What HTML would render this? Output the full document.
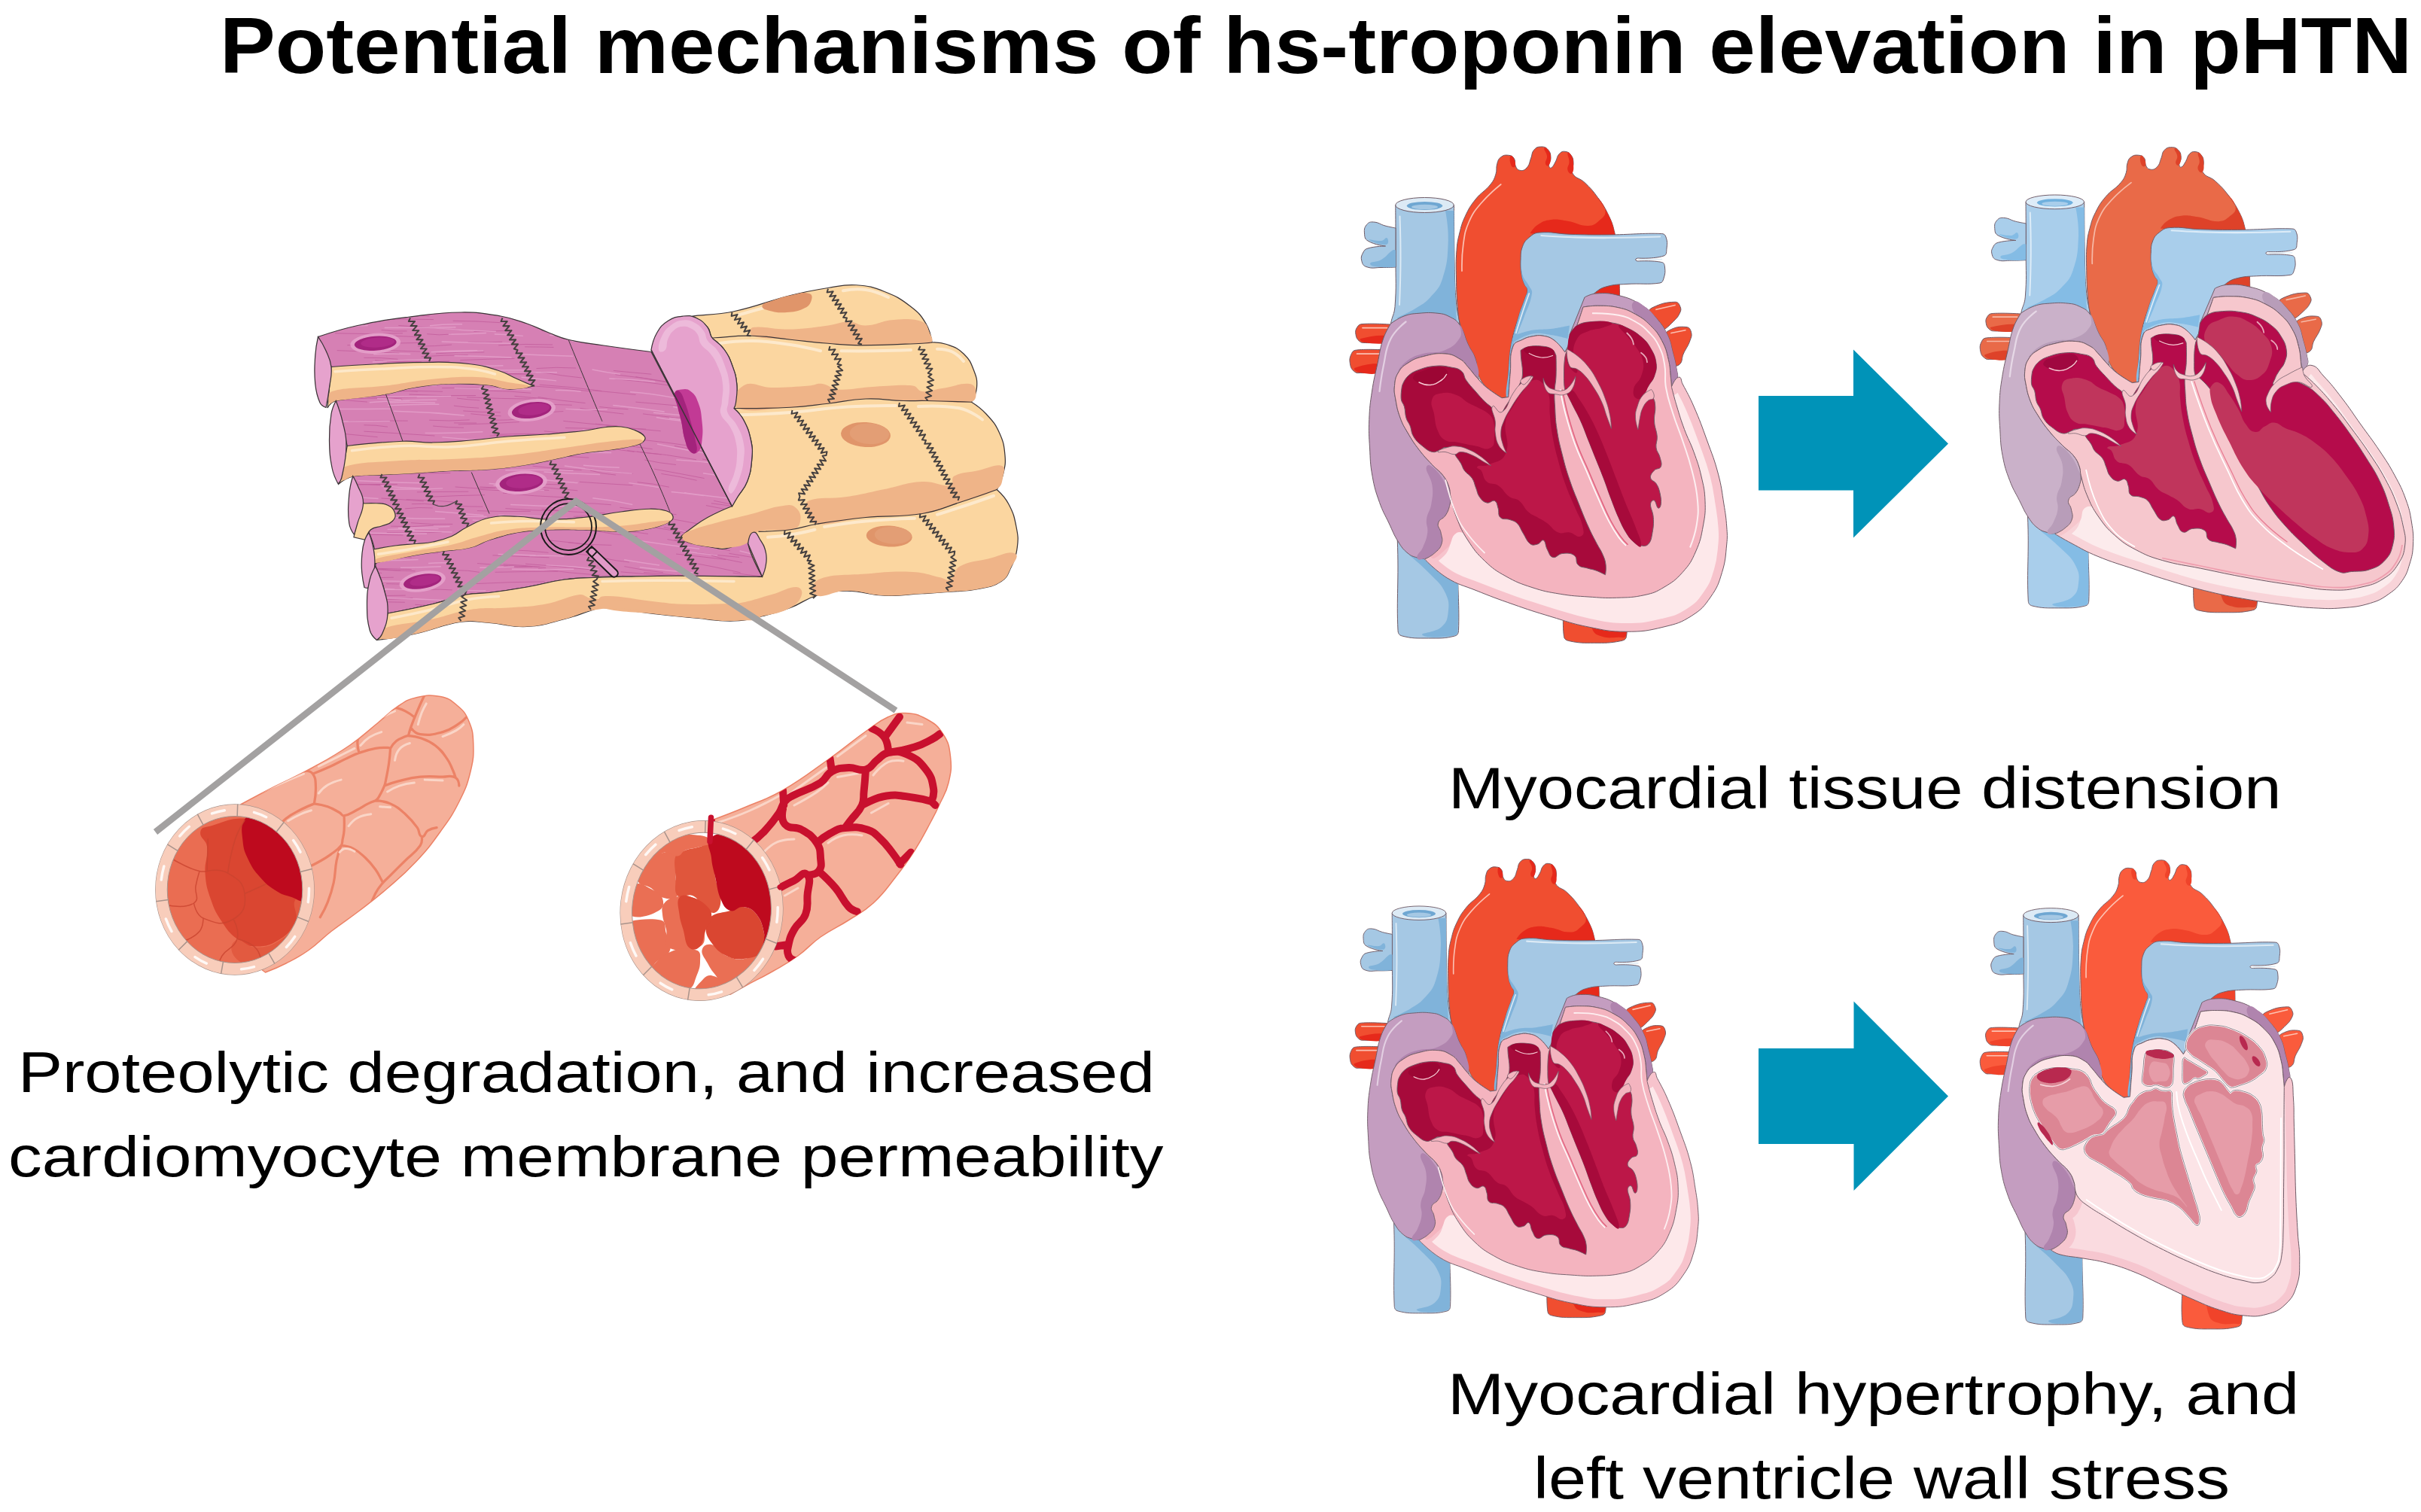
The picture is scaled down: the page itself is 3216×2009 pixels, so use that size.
<!DOCTYPE html>
<html lang="en"><head><meta charset="utf-8"><title>Potential mechanisms of hs-troponin elevation in pHTN</title>
<style>html,body{margin:0;padding:0;background:#fff}svg{display:block}</style></head>
<body>
<svg width="3216" height="2009" viewBox="0 0 3216 2009">
<rect width="3216" height="2009" fill="#fff"/>
<g transform="translate(400,360) scale(0.25)">
<clipPath id="mpk"><path d="M90 350C90 350 204 311 300 290C420.3 263.7 447.8 260.6 570 245C695.5 229 723.5 221.3 850 220C944.9 219 966.7 224 1060 240C1124.6 251.1 1138.1 258.6 1200 280C1255.3 299.1 1265.4 308.9 1320 330C1364.5 347.2 1373.6 354.2 1420 365C1494.7 382.3 1518.8 383 1600 395C1716.8 412.3 1860 430 1860 430L2290 1252L2450 1625C2450 1625 2268.5 1622 2120 1622C1893.3 1622 1752 1622.9 1600 1625C1577.4 1625.3 1572.5 1628.3 1550 1630C1496.7 1634 1467 1630.4 1400 1640C1309.1 1653 1290.4 1664.2 1200 1680C1110.4 1695.7 1085.3 1699.3 1000 1710C946.2 1716.7 933.1 1709.4 880 1720C800 1736 781.8 1750.5 700 1770C592.7 1795.6 460 1820 460 1820C460 1820 454.9 1747.3 440 1690C425.5 1634.2 395 1570 395 1570C395 1570 397.7 1519.8 390 1480C381.9 1438.1 360 1390 360 1390C360 1390 350 1300.5 330 1230C311.5 1164.9 275 1090 275 1090C275 1090 261.1 1001.5 245 930C221 823.3 185 690 185 690C185 690 182 588.8 160 510C138.9 434.3 90 350 90 350Z"/></clipPath>
<path d="M90 350C90 350 204 311 300 290C420.3 263.7 447.8 260.6 570 245C695.5 229 723.5 221.3 850 220C944.9 219 966.7 224 1060 240C1124.6 251.1 1138.1 258.6 1200 280C1255.3 299.1 1265.4 308.9 1320 330C1364.5 347.2 1373.6 354.2 1420 365C1494.7 382.3 1518.8 383 1600 395C1716.8 412.3 1860 430 1860 430L2290 1252L2450 1625C2450 1625 2268.5 1622 2120 1622C1893.3 1622 1752 1622.9 1600 1625C1577.4 1625.3 1572.5 1628.3 1550 1630C1496.7 1634 1467 1630.4 1400 1640C1309.1 1653 1290.4 1664.2 1200 1680C1110.4 1695.7 1085.3 1699.3 1000 1710C946.2 1716.7 933.1 1709.4 880 1720C800 1736 781.8 1750.5 700 1770C592.7 1795.6 460 1820 460 1820C460 1820 454.9 1747.3 440 1690C425.5 1634.2 395 1570 395 1570C395 1570 397.7 1519.8 390 1480C381.9 1438.1 360 1390 360 1390C360 1390 350 1300.5 330 1230C311.5 1164.9 275 1090 275 1090C275 1090 261.1 1001.5 245 930C221 823.3 185 690 185 690C185 690 182 588.8 160 510C138.9 434.3 90 350 90 350Z" fill="#D680B4"/>
<g clip-path="url(#mpk)"><path d="M844.8 474.4Q989.4 467.9 1134.1 465.8M233.4 1052Q298.3 1043.7 363.1 1048.4M1076.4 1569.5Q1152.5 1578 1228.6 1572.2M1427.3 872.6Q1614.2 876.8 1801.2 887.7M431.8 420.8Q531.9 426 632 428.6M1569.5 833.3Q1700.7 832.2 1831.9 840.6M1664.9 922.7Q1765.8 931.5 1866.6 946.8M1927.1 1362.4Q2018.8 1382.5 2110.5 1390.6M1777.7 696.5Q1965.1 715 2152.6 725.3M449.6 1022.1Q514.7 1027.5 579.8 1030.5M2113.6 738.3Q2264 764.7 2414.4 792.5M2031.9 1760.4Q2153.6 1782.3 2275.2 1797.8M1588.4 1838.8Q1755.2 1853.6 1922.1 1863.1M151.9 977.9Q233.7 977.5 315.6 968.4M397.5 631.1Q508.3 635 619.1 640.4M1363.7 1661.1Q1530.2 1678.3 1696.7 1698.2M925.2 1662.4Q1109.7 1652.7 1294.2 1651.5M636.7 1015.6Q773.3 1010.2 909.8 1007.4M949.3 1147.5Q1133.2 1158.4 1317.1 1165.6M1655.3 317.5Q1832.2 350 2009.1 373M1002.5 876.3Q1075.9 870.4 1149.4 878.2M580.2 492.9Q684.4 480.8 788.6 479.9M333.4 819Q396.7 818.2 460 828.6M680.2 792.8Q787.5 800 894.9 791.5M1171.8 1013.8Q1242.9 1009.5 1314.1 1012.6M2006.4 491.5Q2069.4 499.1 2132.4 517.9M1349.3 273.8Q1478 296 1606.6 312M700.6 824.1Q782.3 833 864 833M858.2 591.3Q1023.7 611.3 1189.2 621.4M1982.2 1428.6Q2071.6 1433.8 2161.1 1454.1M164.3 682.7Q257.9 688.6 351.6 696.2M2255.1 1830.6Q2439.3 1855.2 2623.4 1888.5M552.4 561.1Q693.6 572.4 834.7 584.4M1601.8 1525.4Q1672.9 1541.2 1743.9 1547.9M1825.3 1004.4Q1908.5 1022 1991.7 1030M2334.8 871.3Q2447 894.9 2559.2 929.1M392.2 474.9Q569.8 488.1 747.4 490.8M2354.7 1294.8Q2460.3 1305.9 2565.8 1332.7M2333 1282.5Q2461.5 1319.4 2590 1344.4M2000.2 571.9Q2092.9 583.5 2185.6 592.4M696.5 908.8Q773.6 912.6 850.6 917.7M1441.7 1695Q1556.4 1711 1671.1 1726M1304.1 260.3Q1421.3 265.7 1538.5 261.5M496.4 997.1Q650.7 1000.4 804.9 1003.2M1377.5 1500.5Q1451.3 1501.7 1525.1 1510M1876.2 1052.5Q2009.2 1076.5 2142.3 1102.2M1508.8 1049Q1635.4 1063.9 1762 1077.8M1199.5 1755.2Q1350.4 1769.3 1501.3 1791.1M1386.9 1758.1Q1556.1 1760.8 1725.3 1765.4M266.9 619.8Q336.4 630.7 405.9 628.8M455.2 1390.1Q601.1 1396.6 746.9 1388M605.1 1773.1Q716.8 1783.4 828.6 1783.1M471.4 929.1Q598.4 924.4 725.4 925.6M1760.9 261.6Q1893 271.3 2025 286.5M1535 1059.9Q1603.4 1079.7 1671.7 1084.4M341 660.2Q406.1 656.4 471.3 664.4M1071.2 1706.5Q1237.7 1713 1404.1 1706.1M1412.4 1364.7Q1484 1366.6 1555.6 1371M266.6 1750.1Q409 1761.3 551.5 1761.1M253.2 1627.7Q372.2 1634.9 491.2 1628.5M716.1 439.3Q844.6 430.1 973.1 431.7M215.9 556.9Q316.4 554.7 417 559.3M1250.2 518.2Q1355.3 509.4 1460.4 516.1M1786.1 1122.7Q1870.7 1129.4 1955.3 1148.8M1983.5 930.1Q2107.9 953.2 2232.2 976.1M1681.8 1821.6Q1786.4 1841 1890.9 1856.2M1030.8 793Q1097.9 793.7 1164.9 786.7M687.9 494.5Q758.8 503.7 829.8 507.6M748.4 622.4Q846.5 620.9 944.6 621.2M705.5 1788.1Q891.9 1798.8 1078.3 1794.6M812 807.7Q872.1 807.9 932.2 808.1M562.3 1047.7Q622.9 1043.1 683.5 1041.7M195.8 266.4Q295.4 266.2 394.9 265.1M1826.2 1295.2Q1979.3 1318.8 2132.4 1348M2364.9 472.1Q2519 507.6 2673.2 532.3M2151.5 1246.3Q2306.9 1276.8 2462.3 1306.5M1260.1 1582.6Q1424.7 1606.2 1589.3 1617.3M1670.7 1353.2Q1760.6 1353.8 1850.4 1358.9M341.3 1584Q473.9 1592.4 606.5 1594.9M1225.4 235.4Q1389.1 250.5 1552.8 264.5M1616.4 337Q1772.2 342.6 1928 355.6M1777.5 562.5Q1933.6 589 2089.8 619.3M1201.7 1337.6Q1361.4 1342.9 1521.1 1361.7M439.1 641.4Q595.7 633.4 752.3 641.1M239.5 665.4Q386.9 669.5 534.2 680.2M1288 982.8Q1408.7 982.8 1529.3 992.5M2349.7 1746.7Q2412 1767.9 2474.2 1774.1M1133.7 665.2Q1221 673.7 1308.3 679.5M426 1079Q609.9 1076.6 793.7 1074M2139.8 1369.4Q2229.9 1381.2 2319.9 1408.2M108.3 1026.5Q226.9 1021.4 345.5 1021.3M827 1591.2Q887.2 1590.1 947.4 1601.3M2230.7 1385.1Q2407.9 1410 2585.1 1438.3M2397.2 1184.5Q2504.1 1196.3 2611 1222.6M333.9 1582.2Q431.1 1583.9 528.2 1593.2M1275.2 537.6Q1383.8 557.9 1492.3 568.2M1551.1 1709.7Q1733.4 1722.8 1915.6 1750.3M1784.4 960.4Q1942.3 974.5 2100.1 1003.1M2231.6 436.2Q2353 458.4 2474.4 472.9M2345.5 651.5Q2490.8 674.8 2636 701.4M484.9 491.9Q571.9 493.4 658.9 503.8M2184.4 1844.3Q2302.9 1851.4 2421.4 1871.6M886.5 377.6Q977.6 383.4 1068.7 376.8M1824.2 898.7Q1938 910.6 2051.8 927.7M242.7 679.6Q428.5 677 614.3 670.4M2084.6 579.9Q2179.8 591 2275 603.8M2294.1 1604.9Q2467.5 1627.9 2641 1644.3M2160.1 996.7Q2296.4 1018 2432.8 1025.7M1998.9 1615.8Q2185.2 1630.7 2371.6 1656.5M1301.4 1335Q1483.8 1357.4 1666.2 1371.3M1151.8 1123.4Q1217 1134 1282.1 1131.2M1584.7 722.1Q1661.3 731.7 1737.9 734.9M357.9 344Q486.1 342.7 614.3 350.3M1482.4 246.9Q1581.6 260.5 1680.8 269.4M2132.7 1000Q2223.2 1018.5 2313.7 1030.4M807 265.3Q931.8 266 1056.6 274.6M1634.9 1728.8Q1724.4 1731.2 1813.9 1736.2M1669.9 550.9Q1833.5 569.3 1997.1 597.1M2330.7 735Q2497.3 764 2663.9 784.7M778.3 1772.1Q902.8 1767 1027.2 1764.4M1630.2 1767Q1709.2 1780.4 1788.2 1778.5M426.4 314Q494.2 323 562 319.7M1785.3 1846Q1966.4 1870.2 2147.5 1880.5M1816.5 281.7Q1962.9 295.1 2109.3 313.9M489.3 234.7Q585.7 231.6 682 240.5M2317.8 566Q2424.2 591.2 2530.5 618.5M213.3 997Q321.7 1000.6 430.2 1008.6M2163.1 279.1Q2276.5 297 2389.9 329.7M180.2 331.4Q359.8 337.6 539.4 331.1M879.9 671.1Q1064.4 679.5 1248.9 680.9M827.9 676.5Q888.4 684.2 948.9 687.6M2269.5 269.3Q2359.9 295.7 2450.3 307.6M989 636.7Q1104.9 637.7 1220.8 648.8M1945.9 1426.4Q2112.9 1454 2279.8 1487.2M835 816.2Q996.7 813.5 1158.3 802.7M668.8 334.9Q733.2 343.2 797.6 336.2M2132 1830.3Q2226.4 1839 2320.9 1847.7M1732.5 954.1Q1822.9 967.5 1913.4 975.4M1820.3 1602.1Q1966.7 1613.3 2113.1 1631.1M1403.8 834.2Q1559.8 835.5 1715.7 845M452.6 1662.4Q587.8 1669.5 723 1660.9M1266.8 604.8Q1431.9 615 1597 637.9M1192 1556.9Q1361.2 1568.6 1530.5 1586.9M374.2 537.1Q560.7 543.2 747.2 553.5M2092.1 957.6Q2185.9 972.4 2279.7 999.8M1471.1 1234.3Q1559.4 1233.9 1647.7 1242.9M686.3 1201.1Q831 1193.1 975.7 1190.7M1660.1 529.9Q1760.7 540.1 1861.3 548.7M245.5 394.2Q356.9 391.4 468.3 401.7M476.5 1356.6Q589.8 1362 703 1352.9M818.4 1147.8Q924.9 1159 1031.3 1154.3M936.7 549.5Q1091.3 551.2 1246 540.1M1074.6 1559Q1187.4 1563.2 1300.3 1578.1M134.1 1123.5Q277.4 1132.9 420.7 1138.4M952.9 1047.2Q1031.9 1054.2 1110.9 1047.5M350.2 1024.6Q514.8 1029.4 679.5 1046M2269.1 1810.4Q2391.8 1827.2 2514.6 1847.6M2179.7 1235Q2346.9 1254.4 2514.1 1282.8M1030.3 1601.1Q1198.1 1597.4 1365.9 1596.9M1291.2 851.4Q1367.2 861.9 1443.1 859.7M194.5 1141Q353 1131.3 511.5 1133.8M1478.9 1121.1Q1620.4 1131.3 1761.9 1138.9M1079.2 1297.3Q1197.3 1300.4 1315.4 1299.7M1225.9 611.1Q1385.1 620.5 1544.4 640.1M1188.4 403.5Q1265.1 403.6 1341.8 405.7M1273.4 296Q1416.1 304 1558.8 303M1276.4 317.9Q1401.9 321.1 1527.4 336M2071.3 1843.7Q2226.4 1880.4 2381.6 1901.6M1231.3 1779.8Q1410.4 1791.9 1589.5 1790.2M250.7 798.5Q409 793.9 567.3 796.6M1975.9 462.6Q2101.2 482 2226.5 509.1M1263.8 746.9Q1328.6 753.5 1393.4 746.1M1663.3 1680.6Q1745.2 1690.7 1827.1 1699.8M1563.5 812.8Q1737 837.9 1910.5 850.7M340.6 1838.6Q482.5 1837.6 624.3 1844.2M2378.1 1165.3Q2485 1184.3 2591.8 1213.6M1810.3 308.2Q1976.8 333.4 2143.4 343.1M1447.5 1305.2Q1548.1 1299.4 1648.8 1304.8M1516.9 930.2Q1643.6 941.6 1770.2 961.6M1602.1 266.1Q1662.5 266.7 1722.8 271.9M615.8 1175.4Q752.4 1173.6 889 1172.7M409.9 1747.3Q501.6 1745 593.3 1738.4M2104 1497.1Q2216.2 1511.8 2328.5 1521.8M1393.4 797.5Q1537.3 814.3 1681.2 823.6M671.5 1693.7Q737.3 1690.5 803 1695.7M234.3 1491.8Q295.9 1490.3 357.5 1500.3M558.9 1215.1Q684.8 1216.4 810.7 1228.2M811.6 716.4Q877.9 726 944.2 728.7M114.6 1598Q271.5 1601.2 428.4 1605.8M619.7 400.6Q709.9 400.4 800.1 392.2M1698.8 1599.4Q1851.3 1612.1 2003.8 1626.9M1913.4 1077.7Q2007.9 1090.9 2102.4 1113.2M2124.1 254.7Q2218 275.9 2311.8 283M1816.1 759.5Q1990.6 783.6 2165 794.6M1550.6 1352.4Q1697.1 1380.4 1843.6 1397.6M1704.5 1619.2Q1821.4 1633.3 1938.2 1653.6M587.5 1238.6Q657.6 1233.8 727.8 1244.1M345.4 1734.9Q450.2 1722.3 555 1724.4M1693 1256.9Q1843.6 1277.3 1994.3 1294.9M935.8 1554.4Q1102.4 1569.6 1268.9 1573M2203.1 1759.8Q2277.1 1760.5 2351 1776M2049.7 1545.5Q2192.2 1570.9 2334.6 1603.2M329.7 388.5Q488.2 383.8 646.6 381.5M148.1 645.9Q244.8 646.6 341.6 653.2M2317.2 1046.1Q2487.9 1076.7 2658.6 1110.2M1103.8 1482.3Q1208.9 1485.2 1314 1497.3M2083.2 377.2Q2249.7 389.9 2416.3 412M1853 1814.1Q1913.6 1826.9 1974.2 1830.2M524.4 1031.2Q629.5 1043.2 734.7 1040.9M752.6 577.8Q903.5 580.7 1054.4 579.1M286 1506.4Q436.7 1513.1 587.3 1524.4M1022.9 869.3Q1198.7 861.4 1374.4 868.7M574.1 656.4Q751.2 665.4 928.4 662.1M637.2 976.7Q766.3 987.1 895.4 992.8M901.5 759.2Q981.7 769 1061.9 771M490 940.9Q650.5 942.7 811.1 945.8M2135.8 615.5Q2220.7 634.4 2305.6 642.4M455.6 482.7Q547.8 477.3 639.9 482.8M854.6 536.6Q1041.3 550.5 1228.1 549.6M333.8 852.5Q521.7 863.2 709.6 876.1M551.2 1263.5Q625.1 1254.3 699 1259.9M1017.7 1511.4Q1167.9 1516.8 1318 1523.3M426.2 1208Q538.8 1214.8 651.4 1223.9M1420.1 1443.5Q1534.9 1456.7 1649.6 1457.6M1880.3 1364.1Q2051.1 1391.4 2221.9 1420.2M819.9 1247.8Q892.7 1253.7 965.4 1252.7M1548.1 635.1Q1663.2 645 1778.2 657.8M1653.1 1736.9Q1736.9 1747.6 1820.7 1761.9M1226.6 1808.9Q1291.6 1815.5 1356.6 1813.2M2263.4 1071.1Q2336.5 1088.9 2409.6 1099.8M1278 1265.6Q1445.8 1283.6 1613.6 1287.3M583.2 1338.7Q694.2 1349.9 805.3 1345.6M917.6 321.7Q1013.3 318.5 1108.9 317.8M1067.3 1361.2Q1173 1364.6 1278.8 1360.4M2261.8 1083.9Q2350.3 1098 2438.8 1121.4M397.4 1488.1Q562.6 1494.9 727.9 1499.7M619.8 1791.5Q725.7 1802.3 831.6 1803M1176.6 706.8Q1307.9 707.6 1439.2 713M2056.5 663.2Q2165.4 671.8 2274.3 690.5M106.2 1399.3Q202.8 1396.8 299.3 1394.9M1085.5 1262.4Q1231.2 1274.4 1376.9 1275.1M231.2 1571.2Q409 1584 586.8 1586.1M1556.3 254.3Q1617.8 260.6 1679.3 275M333.5 461.2Q423.9 459.6 514.2 469M2179.4 1512.5Q2261.2 1535.7 2343.1 1549.9M1637.5 1678.1Q1799.9 1703.6 1962.4 1723M1320.8 1431.9Q1437.8 1442.1 1554.9 1459.8M638.6 455.7Q762.7 445.7 886.8 447.1M1230.2 1037Q1360.3 1053 1490.4 1058M1176.3 1141.4Q1322.8 1153.1 1469.3 1167.4M2309.4 352.1Q2452.2 380.4 2595 405.2M1670 1739Q1772.9 1756.4 1875.9 1774.2M2164.4 284.9Q2317.8 318.4 2471.1 340.3M942.2 998.7Q1070.5 1003.4 1198.8 1010M1071.5 1127.5Q1239 1130.6 1406.4 1136.7M1258.6 670.2Q1384.5 690.9 1510.3 702.2M861.1 743.7Q960 752.1 1058.9 751.3M192.1 1400.7Q367.2 1399.3 542.4 1404.2M114.3 537.7Q294.1 549.2 473.9 551.5M2192.6 1221Q2332.8 1250.4 2472.9 1276.7M1666.3 574.3Q1813 585.1 1959.7 608.8M517 289.9Q677.7 299.9 838.4 314.2M1992 1504.2Q2125.1 1518 2258.2 1534.3M832.5 927.7Q975.9 936.4 1119.4 943M190.6 422.5Q355.9 429 521.3 437.2M132.5 857.2Q269.5 869.6 406.4 882.8M1048.6 395.3Q1192.3 385.9 1336.1 392.1M111 1337.7Q186.8 1346.9 262.6 1344.3M396.6 258.8Q550.1 253.5 703.7 258.2M215.3 1483.9Q368.1 1488.2 520.8 1505.8M1545.8 1379Q1665.7 1402.8 1785.6 1411.8M1749.6 248.5Q1811.5 252.3 1873.4 269.6M815.4 1411.7Q897 1409.7 978.6 1421.9M945.4 1161.4Q1062.4 1169.5 1179.5 1168.1M935.5 1274.7Q1077.4 1280.7 1219.2 1277.4M2273.3 1501.1Q2407 1527.4 2540.7 1538.6M1717.5 1570.4Q1820.7 1592.1 1923.8 1603.1M1482.6 729.9Q1598.3 747.9 1714 760M1484.1 1681.7Q1649.1 1685.5 1814 1696.9M1071.8 1180.4Q1237.8 1197.4 1403.9 1203.8" fill="none" stroke="#C4609F" stroke-width="4" opacity="0.9"/>
<path d="M1967 1634.9Q2101.4 1658.1 2235.7 1671.6M1674.7 1710.3Q1779.8 1722 1884.9 1724.2M561 1445.3Q742.1 1446.6 923.2 1442.3M1170.2 564.7Q1263.4 573.5 1356.5 583.5M301.7 1536.7Q462.1 1541.5 622.5 1533.7M2135.7 1075.4Q2257.7 1090.5 2379.6 1115.3M515.6 1365.7Q622.8 1368.4 729.9 1370.5M442.7 302.2Q632.3 302.9 822 299.4M1910.9 483Q2048.5 492.3 2186.2 517M177.2 1834.5Q349.8 1834.2 522.4 1841.6M1892.1 920Q2075.2 960.7 2258.2 986.5M684.2 291.4Q770.3 280.1 856.4 283.2M1382 1640.5Q1501.6 1651.7 1621.1 1676.8M1475.6 873.8Q1551.1 884.3 1626.7 892.7M1573.5 1779.4Q1720.5 1786.6 1867.6 1804.7M2321.3 1836.6Q2410.1 1844.8 2498.9 1857.7M2176.3 1695.4Q2345.2 1720.5 2514 1739M1587.4 1826.4Q1654.6 1839 1721.9 1837.5M1656.8 714Q1793.7 728.3 1930.6 748.1M691.1 431.1Q813.7 421.4 936.3 423.1M1658.6 250.4Q1811.8 265.9 1965.1 267.7M607.3 1743Q779.9 1751.5 952.6 1761.7M323.1 1734.6Q492.6 1737.8 662.1 1746.1M1993 1003.6Q2134.7 1010.2 2276.4 1031M1741.6 1126.5Q1820.4 1136.7 1899.2 1149.7M458.1 669.2Q627.2 667.1 796.4 665.3M831.6 1693.1Q906.4 1702.6 981.2 1699.4M1637 572.1Q1759.1 576 1881.2 589.4M937.8 1835.5Q1127.6 1844 1317.3 1859.3M2161.3 323.1Q2315.7 340.9 2470.1 374.1M1956.2 782.3Q2034.4 791.5 2112.6 799.9M527.4 935.1Q705.9 927.3 884.5 931M514.3 1478.1Q666.8 1466.5 819.3 1468.1M1499.7 1032.7Q1595.3 1042.1 1690.9 1044.9M1966.6 1174.4Q2052.9 1182.6 2139.2 1193.7M1759.8 319.7Q1925.2 344.7 2090.6 358M1233.9 255Q1412.3 263.7 1590.6 279.9M527.9 1577.2Q635.6 1575.8 743.4 1571.3M110.7 1072.1Q228.6 1075.9 346.6 1072.7M1978 1632.1Q2079.8 1653.1 2181.5 1666.2M240.8 1643.9Q424.8 1648.1 608.8 1651.2M1335.9 263.5Q1521.6 262.5 1707.4 274.2M676.1 1553.8Q740 1548.3 803.9 1552.5M140.7 1201Q275.6 1199 410.6 1209.6M2099.9 1391.7Q2165.8 1399.5 2231.7 1407.3M743.1 427.7Q855.9 431.4 968.6 423.5M438.6 1158Q595.7 1163.8 752.7 1155.5M994.1 911.2Q1163.3 923.4 1332.4 921.6M1886.9 778.4Q1978.1 796.6 2069.4 799.3M1950.1 1708.7Q2116 1737.4 2282 1765.6M2303.1 1743.6Q2395.5 1758.8 2487.9 1778.3M1320.8 342.2Q1437.1 341.8 1553.4 353M2330.3 1488.1Q2512.1 1533.8 2693.9 1567.3M2134.7 285.7Q2278.1 303.2 2421.5 328M1347.2 1727.5Q1487.9 1732.7 1628.7 1740.1M2287 695.8Q2386.7 715.4 2486.4 731.9M2299 1062.3Q2393.9 1074.3 2488.8 1097.6M385 442.8Q483.2 438.3 581.4 442M302 1115Q471.2 1123.5 640.4 1127.1M562.7 1380.8Q682.7 1384.1 802.6 1388.3M814.2 622.5Q903 625 991.8 624.9M127.3 801.3Q299.4 799.5 471.4 798.1M755.1 1829.8Q853.5 1826 951.9 1836M2103.9 942.8Q2172 956.5 2240.1 962.6M351.3 594.8Q536 599.1 720.7 608.6M910.6 1324.1Q1050.8 1335.1 1190.9 1345.6M1799.2 1434.1Q1957.9 1459 2116.7 1477.2M2203.8 436.2Q2377 459.4 2550.2 479.9M1245.1 1789.6Q1379.5 1804.2 1513.8 1806.9M1496.9 844.9Q1615.7 853.2 1734.5 868.1M998.6 1129.7Q1108.6 1138.1 1218.5 1135.4M1249 949.3Q1332.9 951.6 1416.9 951.5M1437.6 372.4Q1617.3 391.3 1796.9 399.3M2305.2 561Q2420.6 578.3 2536 610M1399.3 1035.7Q1579 1064.1 1758.6 1076.7M1290.1 1068Q1439.2 1076.6 1588.3 1082.2M907.5 1765.6Q1055.5 1764.7 1203.4 1767.9M1022.1 1139.4Q1156.7 1152.7 1291.3 1166.5M1112.4 1241.9Q1301.9 1252.1 1491.4 1252.3M492.7 745.3Q679.9 750.2 867.1 767.6M2157.4 1347.6Q2324 1387 2490.7 1428.8M459.7 699.7Q586.2 695.3 712.7 701.1M1549.2 1207.1Q1655.1 1217.2 1761.1 1242M1046.3 1506Q1146.1 1505.9 1246 1512.1M2037 1179.6Q2183.8 1198.1 2330.7 1214.9M711.8 1277.8Q840.9 1287.1 970 1299.3M379.5 484Q538.2 472 696.9 470.5M1301.7 1563.5Q1441.4 1567.7 1581.1 1587.6M1872.3 753Q2025.3 765.5 2178.4 785.5M328.7 1694.2Q464.4 1692.4 600.1 1694.2M225.8 1672.7Q361.5 1684.4 497.3 1692.4M673.5 301.2Q854.5 317.8 1035.5 321.7M1976.6 722Q2114.9 757.4 2253.2 778.5M658.7 861.5Q812.1 864.3 965.5 855.1M1214.1 1514.3Q1305.7 1510.1 1397.4 1516M2334.6 700.9Q2467.6 718.7 2600.6 740.2M1027.4 336Q1103.4 336.7 1179.4 345.5M539.7 689.4Q630.6 684.6 721.4 684.9M458.6 1373.5Q530.6 1369 602.6 1376.4M1119.6 1584.8Q1284.3 1588.4 1448.9 1584.9M966.9 1782.6Q1053.9 1785.4 1141 1797M1141.2 442.1Q1293 449 1444.9 453.1M946.4 628.9Q1085.5 623.9 1224.5 630.9M1280 1109Q1375.1 1120.2 1470.3 1126.3M1405.7 733.5Q1516.4 740.6 1627 736.5M838.4 1303.7Q912.6 1304.9 986.7 1306.1M783 336.8Q883.5 336.7 983.9 329.7M749.4 883.5Q927.6 901 1105.8 907M404 678Q467.8 679.2 531.7 685.2M1048.9 1297.7Q1199.8 1298.6 1350.7 1304.2M1546.3 524.3Q1621.3 540.1 1696.3 549.1M193 294.8Q274.1 290.4 355.2 289.8M190.2 733.7Q333.2 734.2 476.2 732.5M1748.3 642.6Q1864.8 650.5 1981.3 674.4M2018.8 1487.9Q2116.1 1501.4 2213.3 1511.5M208.9 626Q283.4 635 357.8 630.7M1823.9 369.5Q1974.2 394 2124.5 408M746.7 375.7Q929.7 383.3 1112.7 384.8M1798.8 1574.6Q1940.5 1592.4 2082.1 1603.9M1085.2 1059.2Q1265.9 1053.1 1446.5 1061.5M1716.3 1535.3Q1810.3 1551.9 1904.2 1564.1M1351 634.5Q1418.8 633.1 1486.5 641.2M814.3 451.2Q966.2 451.7 1118.1 460.4M1285.4 951Q1467 964.7 1648.7 966.1M426.3 1142.5Q529.7 1152.9 633.1 1155M489.2 1309.8Q627 1318.8 764.8 1317.2M363.3 698.7Q470.2 691 577 690.2M553.4 1366.6Q671.6 1361.9 789.8 1358.3M934.8 502.3Q1004.2 506.9 1073.5 503.4M293.1 1391.8Q480.6 1394.4 668 1397.4M1098.8 537.5Q1229.4 540.3 1360 538.6M1543.8 1745.1Q1688.7 1747.6 1833.5 1761.6M163.6 1484.6Q332.8 1484.2 501.9 1479.3M2045.2 1731.3Q2127.1 1752.8 2209 1766.6M851.3 529Q1018.6 528.7 1185.9 526.9M949.3 1576.9Q1040.5 1576.7 1131.6 1572.4M1985.4 1373Q2163.1 1409.2 2340.7 1445.3M462.2 715.3Q597.8 706.9 733.3 709.3M1119.3 1801.1Q1191 1795.1 1262.6 1799.1M1762.8 234.5Q1932.1 263.2 2101.4 294.3" fill="none" stroke="#E7A6CE" stroke-width="6" opacity="0.7"/></g>
<path d="M90 350C90 350 204 311 300 290C420.3 263.7 447.8 260.6 570 245C695.5 229 723.5 221.3 850 220C944.9 219 966.7 224 1060 240C1124.6 251.1 1138.1 258.6 1200 280C1255.3 299.1 1265.4 308.9 1320 330C1364.5 347.2 1373.6 354.2 1420 365C1494.7 382.3 1518.8 383 1600 395C1716.8 412.3 1860 430 1860 430L2290 1252L2450 1625C2450 1625 2268.5 1622 2120 1622C1893.3 1622 1752 1622.9 1600 1625C1577.4 1625.3 1572.5 1628.3 1550 1630C1496.7 1634 1467 1630.4 1400 1640C1309.1 1653 1290.4 1664.2 1200 1680C1110.4 1695.7 1085.3 1699.3 1000 1710C946.2 1716.7 933.1 1709.4 880 1720C800 1736 781.8 1750.5 700 1770C592.7 1795.6 460 1820 460 1820C460 1820 454.9 1747.3 440 1690C425.5 1634.2 395 1570 395 1570C395 1570 397.7 1519.8 390 1480C381.9 1438.1 360 1390 360 1390C360 1390 350 1300.5 330 1230C311.5 1164.9 275 1090 275 1090C275 1090 261.1 1001.5 245 930C221 823.3 185 690 185 690C185 690 182 588.8 160 510C138.9 434.3 90 350 90 350Z" fill="none" stroke="#3b3437" stroke-width="5"/>
<path d="M2080 240C2133.3 230.7 2202.5 235.6 2300 215C2437.3 186 2466.7 163.3 2600 130C2689 107.7 2709.3 104.2 2800 90C2867 79.5 2882.3 70.5 2950 75C3019.2 79.6 3035.6 84.4 3100 110C3167.5 136.7 3182.6 145.6 3240 190C3282.9 223.1 3292.5 233.3 3320 280C3344 320.7 3352 380 3352 380C3352 380 3396.7 378.1 3430 390C3473.6 405.6 3486.7 407.8 3520 440C3554.1 473 3557.8 485.8 3575 530C3589.9 568.3 3593.2 579.1 3590 620C3587.1 656.8 3562 697 3562 697C3562 697 3609.7 726.6 3640 760C3676.9 800.7 3687.3 810 3710 860C3733 910.7 3735 924.6 3740 980C3744.1 1025 3740.4 1036 3730 1080C3720.9 1118.7 3697 1162 3697 1162C3697 1162 3739.2 1200 3760 1240C3786.3 1290.5 3789.1 1304.1 3800 1360C3809.5 1408.6 3811.7 1420.9 3805 1470C3798 1521.5 3792.2 1533 3770 1580C3753.5 1615 3752.5 1629 3720 1650C3674.7 1679.3 3655.8 1678.6 3600 1690C3533.5 1703.5 3517.6 1699.4 3450 1705C3382.6 1710.6 3367.5 1711.1 3300 1715C3210 1720.1 3190 1728.4 3100 1725C3009.4 1721.6 2990.7 1700 2900 1700C2827.1 1700 2809.8 1704.1 2740 1725C2673.5 1745 2664.9 1765.4 2600 1790C2534.1 1815 2518.6 1819 2450 1835C2383.4 1850.5 2368.4 1858 2300 1860C2209.8 1862.6 2189.9 1852.9 2100 1845C2009.9 1837.1 1989.9 1834.9 1900 1825C1766.7 1810.3 1696 1795.3 1600 1790C1572.2 1788.5 1566.7 1797 1540 1805C1486.7 1821 1464.2 1834 1400 1850C1311 1872.3 1291.7 1885.4 1200 1890C1109.7 1894.5 1090.2 1876.4 1000 1870C932.6 1865.2 916.8 1855 850 1865C743.3 1881 713.6 1905.5 600 1930C510.9 1949.2 400 1962 400 1962C400 1962 424.1 1948.8 432 1930C448 1892.1 460 1820 460 1820C460 1820 592.7 1795.6 700 1770C781.8 1750.5 800 1736 880 1720C933.1 1709.4 946.2 1716.7 1000 1710C1085.3 1699.3 1110.4 1695.7 1200 1680C1290.4 1664.2 1309.1 1653 1400 1640C1467 1630.4 1482.4 1633.4 1550 1630C1617.5 1626.6 1632.5 1626.5 1700 1625C1820 1622.3 1865 1620 2000 1620C2189 1620 2300 1623.7 2420 1625C2433.5 1625.1 2450 1625 2450 1625C2450 1625 2388.3 1512.7 2375 1450C2368.9 1421.4 2400 1390 2400 1390C2400 1390 2341.9 1450.6 2280 1470C2228.4 1486.1 2213.6 1472 2160 1465C2109.7 1458.4 2087.3 1454.7 2050 1440C2032.2 1433 2020 1410 2020 1410C2020 1410 2046.6 1386.7 2070 1370C2107.3 1343.3 2117.3 1333.3 2160 1310C2216.6 1279.1 2290 1250 2290 1250C2290 1250 2306.2 1222.3 2320 1200C2341.3 1165.3 2355.1 1159.7 2370 1120C2389.4 1068.4 2390 1054.9 2395 1000C2399.1 955.1 2399.4 944.1 2390 900C2379 848.5 2374 835.3 2350 790C2333.6 758.9 2300 730 2300 730C2300 730 2308.4 714.1 2310 700C2314 665.3 2319.5 644.8 2315 600C2310.4 553.8 2305.8 543.6 2290 500C2276.3 462.1 2272.9 453.1 2250 420C2231.9 393.8 2200 370 2200 370C2200 370 2186.3 361.1 2180 350C2169.3 331.3 2175.1 318.9 2160 300C2138.7 273.3 2121.3 266 2100 250C2092 244 2070.1 241.7 2080 240Z" fill="#FBD6A0" stroke="#3b3437" stroke-width="5"/>
<path d="M2400 300C2453.3 290.7 2509.9 312.3 2600 310C2690.4 307.7 2717.3 300.7 2800 290C2849.9 283.6 2859.7 270 2910 270C2951.5 270 2958.5 291.7 3000 290C3064 287.3 3081.3 264.6 3150 260C3217.5 255.5 3249.3 251.3 3300 270C3330.4 281.2 3326.7 300.7 3340 330C3349.5 350.9 3360.7 365.3 3350 380C3339.3 394.7 3322.6 384.1 3300 385C3198.7 389 3103.3 395 2970 395C2893.4 395 2876.4 391.2 2800 385C2709.8 377.7 2690 374 2600 365C2510 356 2453.3 362.3 2400 345C2380.7 338.7 2380.1 303.5 2400 300Z" fill="#EFB488"/>
<path d="M2350 610C2398 581.2 2432.4 620 2500 620C2590.1 620 2628 615.3 2700 610C2731.7 607.6 2738.5 595.8 2770 600C2808.1 605.1 2811.6 627.9 2850 630C2924.7 634 2959.9 619.5 3050 615C3139.9 610.5 3183.3 603.3 3250 610C3276.1 612.6 3273.9 637.4 3300 640C3340 644 3355.1 632.2 3400 625C3466.7 614.3 3500.7 596 3550 600C3573.8 601.9 3582.5 616.2 3585 640C3587.7 665.3 3586.7 690 3560 695C3489.3 708.3 3416 691.3 3320 690C3266 689.3 3254 691.7 3200 690C3114.7 687.3 3090 676.6 3000 680C2909.4 683.4 2890.1 694.9 2800 705C2710.1 715.1 2690.3 720.7 2600 725C2474.1 731 2386.7 758.7 2320 728C2270.2 705.1 2303 638.2 2350 610Z" fill="#EFB488"/>
<path d="M2700 1220C2756 1198.7 2810.6 1213.4 2900 1200C2990.8 1186.4 3010 1178 3100 1160C3190 1142 3208.4 1125.2 3300 1120C3368 1116.1 3404.7 1148 3450 1140C3473.9 1135.8 3448.6 1101.4 3470 1090C3510 1068.7 3541.4 1072.9 3600 1060C3653.9 1048.1 3685.3 1027 3720 1035C3744.5 1040.7 3734.9 1065.3 3730 1090C3723.3 1123.3 3725.1 1141.7 3695 1160C3633.7 1197.3 3588.6 1200.9 3500 1230C3410.7 1259.4 3392.8 1275.2 3300 1290C3166.7 1311.3 3134.7 1296.8 3000 1310C2882.5 1321.5 2822.7 1353 2740 1345C2703.3 1341.4 2700.7 1313.3 2690 1280C2681.7 1253.9 2674.4 1229.7 2700 1220Z" fill="#EFB488"/>
<path d="M2070 1380C2116.7 1361.3 2141 1356.1 2200 1340C2288 1316 2310.2 1313.1 2400 1290C2467.7 1272.6 2488.7 1258 2550 1250C2586 1245.3 2603.3 1236 2630 1260C2656.7 1284 2658 1309.3 2650 1340C2643.1 1366.6 2626.9 1369.5 2600 1375C2541.3 1387 2488.7 1367.7 2430 1385C2397.9 1394.5 2409.1 1423.5 2380 1440C2340 1462.7 2326.7 1464.7 2280 1470C2226.3 1476.1 2213.6 1472 2160 1465C2109.7 1458.4 2086 1454.7 2050 1440C2033.7 1433.4 2019.7 1426 2025 1410C2030.3 1394 2047.4 1389 2070 1380Z" fill="#EFB488"/>
<path d="M2750 1640C2819.3 1609.3 2887.1 1619 3000 1610C3112.2 1601 3143.3 1594.7 3250 1600C3318.8 1603.4 3346.7 1619.3 3400 1630C3422.5 1634.5 3430.3 1651.8 3450 1640C3476.7 1624 3466.1 1588.7 3500 1570C3553.3 1540.7 3582.1 1546.4 3650 1530C3712.6 1514.9 3758 1486.7 3790 1500C3822 1513.3 3785.7 1546.4 3770 1580C3753.6 1615.1 3752.5 1629 3720 1650C3674.7 1679.3 3655.8 1678.6 3600 1690C3533.5 1703.5 3517.6 1699.4 3450 1705C3382.6 1710.6 3367.5 1711.1 3300 1715C3210 1720.1 3190 1728.4 3100 1725C3009.4 1721.6 2990.7 1700 2900 1700C2827.1 1700 2780 1741 2740 1725C2704.2 1710.7 2714.8 1655.6 2750 1640Z" fill="#EFB488"/>
<path d="M1600 1730C1680 1722 1766.7 1746.7 1900 1760C1990 1769 2009.6 1777.7 2100 1780C2190.1 1782.3 2210.9 1783.4 2300 1770C2391.7 1756.2 2412 1744 2500 1720C2559 1703.9 2587.3 1680 2630 1680C2652.5 1680 2665.9 1698.3 2660 1720C2652 1749.3 2636.4 1770.1 2600 1790C2544 1820.7 2518.6 1819 2450 1835C2383.4 1850.5 2368.4 1858 2300 1860C2209.8 1862.6 2189.9 1852.9 2100 1845C2009.9 1837.1 1989.9 1834.9 1900 1825C1766.7 1810.3 1680 1815.3 1600 1790C1574.3 1781.8 1573.1 1732.7 1600 1730Z" fill="#EFB488"/>
<path d="M2220 385C2220 385 2318.8 370.5 2400 372C2490.4 373.7 2510.5 378.8 2600 392C2672.7 402.7 2760 425 2760 425" fill="none" stroke="#FDEBD0" stroke-width="16" stroke-linecap="round" opacity="0.9"/>
<path d="M2870 425C2870 425 2969 426.1 3050 425C3135.5 423.8 3240 420 3240 420" fill="none" stroke="#FDEBD0" stroke-width="16" stroke-linecap="round" opacity="0.9"/>
<path d="M3380 415C3380 415 3426.8 414.6 3460 430C3491.9 444.8 3520 480 3520 480" fill="none" stroke="#FDEBD0" stroke-width="16" stroke-linecap="round" opacity="0.9"/>
<path d="M2330 765C2330 765 2478.7 761.2 2600 752C2735.3 741.8 2764.6 730.7 2900 722C3016.8 714.5 3160 716 3160 716" fill="none" stroke="#FDEBD0" stroke-width="16" stroke-linecap="round" opacity="0.9"/>
<path d="M3280 720C3280 720 3402.9 710 3500 730C3559.1 742.2 3620 790 3620 790" fill="none" stroke="#FDEBD0" stroke-width="16" stroke-linecap="round" opacity="0.9"/>
<path d="M2480 1415C2480 1415 2546.4 1410.6 2600 1402C2659 1392.6 2730 1375 2730 1375" fill="none" stroke="#FDEBD0" stroke-width="16" stroke-linecap="round" opacity="0.9"/>
<path d="M2780 1360C2780 1360 2900.5 1339.3 3000 1330C3116.7 1319.1 3260 1315 3260 1315" fill="none" stroke="#FDEBD0" stroke-width="16" stroke-linecap="round" opacity="0.9"/>
<path d="M3380 1295C3380 1295 3473.7 1265.4 3550 1240C3608.7 1220.4 3680 1195 3680 1195" fill="none" stroke="#FDEBD0" stroke-width="16" stroke-linecap="round" opacity="0.9"/>
<path d="M2320 235C2320 235 2418.8 206.8 2500 185C2544.8 173 2600 160 2600 160" fill="none" stroke="#FDEBD0" stroke-width="16" stroke-linecap="round" opacity="0.9"/>
<path d="M2880 105C2880 105 2946.5 92.2 3000 100C3056.3 108.2 3120 140 3120 140" fill="none" stroke="#FDEBD0" stroke-width="16" stroke-linecap="round" opacity="0.9"/>
<path d="M2160 360C2160 360 2181.9 356.1 2200 355C2280 350 2309.9 342.7 2400 345C2490.4 347.3 2510 356 2600 365C2690 374 2709.8 377.7 2800 385C2876.4 391.2 2893.4 395 2970 395C3118.6 395 3172.7 390 3300 385C3323.5 384.1 3352 380 3352 380" fill="none" stroke="#3b3437" stroke-width="5"/>
<path d="M2300 730C2300 730 2465.1 731.7 2600 725C2690.3 720.5 2710.1 715.1 2800 705C2890.1 694.9 2909.4 683.4 3000 680C3090 676.6 3109.9 687.2 3200 690C3254 691.7 3266 689 3320 690C3428.9 692.1 3562 697 3562 697" fill="none" stroke="#3b3437" stroke-width="5"/>
<path d="M2430 1385C2430 1385 2524 1384.8 2600 1375C2663.9 1366.8 2676.4 1355.3 2740 1345C2856.5 1326.1 2882.5 1321.5 3000 1310C3134.7 1296.8 3166.4 1311.4 3300 1290C3392.8 1275.2 3410.6 1258.8 3500 1230C3589.3 1201.2 3697 1162 3697 1162" fill="none" stroke="#3b3437" stroke-width="5"/>
<path d="M2450 185C2453.3 167.7 2476.4 168.7 2500 160C2544.1 143.8 2553.9 139.2 2600 130C2644.3 121.1 2663.3 110 2700 120C2717.9 124.9 2716.5 142.6 2710 160C2701.1 183.8 2693.1 189.3 2670 200C2632.3 217.4 2621.4 217.2 2580 220C2539.4 222.7 2529.3 222.6 2490 212C2469 206.4 2446.7 202.3 2450 185Z" fill="#E0956A"/>
<ellipse cx="3000" cy="870" rx="132" ry="66" fill="#E0956A" transform="rotate(3 3000 870)" />
<ellipse cx="3020" cy="865" rx="105" ry="55" fill="#E39E75" transform="rotate(3 3020 865)" />
<ellipse cx="3125" cy="1410" rx="122" ry="56" fill="#E0956A" transform="rotate(3 3125 1410)" />
<ellipse cx="3145" cy="1405" rx="98" ry="46" fill="#E39E75" transform="rotate(3 3145 1405)" />
<path d="M1860 420C1860 420 1868.6 366.9 1890 330C1910 295.6 1916.5 286.5 1950 265C1981.7 244.6 1992.5 243.8 2030 240C2061.7 236.8 2071.1 236.7 2100 250C2131.9 264.7 2138.7 273.3 2160 300C2175.1 318.9 2169.3 331.3 2180 350C2186.3 361.1 2200 370 2200 370C2200 370 2231.9 393.8 2250 420C2272.9 453.1 2276.3 462.1 2290 500C2305.8 543.6 2310.4 553.8 2315 600C2319.5 644.8 2314 665.3 2310 700C2308.4 714.1 2300 730 2300 730C2300 730 2333.6 758.9 2350 790C2374 835.3 2379 848.5 2390 900C2399.4 944.1 2399.1 955.1 2395 1000C2390 1054.9 2389.4 1068.4 2370 1120C2355.1 1159.7 2341.3 1164.8 2320 1200C2306 1223.1 2290 1252 2290 1252L1860 420Z" fill="#E6A2CD" stroke="#3b3437" stroke-width="5"/>
<path d="M1900 420C1896 398.7 1902.9 372.9 1920 340C1935.4 310.3 1942.7 304.3 1970 285C1993.6 268.3 2001.2 264.4 2030 262C2057.5 259.7 2065.6 262.1 2090 275C2116.8 289.1 2122 295.6 2140 320C2154.4 339.5 2146.1 350.1 2160 370C2178.2 396.1 2191.9 393.8 2210 420C2232.9 453.1 2236.3 462.1 2250 500C2265.8 543.6 2270.4 553.8 2275 600C2279.5 644.8 2272.7 660 2270 700C2268.5 722.6 2257.1 728.8 2265 750C2277 782 2296.8 785.8 2315 820C2335.4 858.4 2341.3 867.4 2350 910C2358.2 949.7 2356.2 959.7 2352 1000C2347.2 1045.8 2345 1056.4 2330 1100C2316.9 1138.1 2306 1164 2290 1180C2281 1189 2268.7 1172.7 2270 1160C2272.7 1133.3 2289.6 1117 2300 1080C2309.9 1044.7 2312.8 1036.6 2315 1000C2317.4 959.5 2318.2 949.7 2310 910C2302.2 872.3 2298.1 863.9 2280 830C2261.8 795.8 2242 794.7 2230 760C2221.1 734.4 2233.3 727 2235 700C2237.7 657.3 2244.7 644.8 2240 600C2235.6 558.2 2230.8 548.9 2215 510C2201.3 476.4 2196.8 469 2175 440C2155.9 414.5 2142.7 416.5 2125 390C2110.4 368.1 2119.3 357.1 2105 335C2093.7 317.6 2088.3 314.8 2070 305C2053.6 296.3 2048.5 293.5 2030 295C2008.4 296.8 2001.8 298.3 1985 312C1964.3 328.9 1961.2 335.7 1950 360C1938.3 385.3 1948.3 404 1935 420C1924.9 432.1 1902.9 435.5 1900 420Z" fill="#F0C4DF" opacity="0.7"/>
<path d="M1985 650C1988.9 632.3 2002 632.1 2020 630C2042.8 627.3 2051.9 625.9 2070 640C2095.6 659.9 2098.6 669.6 2110 700C2126.1 743 2125.4 754.3 2130 800C2134.5 844.8 2135.6 855.3 2130 900C2126.5 928.2 2129.8 939.5 2110 960C2097.5 973 2083.7 973.7 2070 962C2046.7 942 2049.1 929.6 2040 900C2026.5 856.1 2030 844.8 2020 800C2012 763.8 2008.4 756.1 2000 720C1992.7 688.6 1978.3 680 1985 650Z" fill="#C23A95"/>
<path d="M1985 650C1986.5 638 2001 631.8 2010 640C2028.3 656.7 2029.4 671.7 2040 700C2056.5 744 2057.5 754.7 2070 800C2082.3 844.7 2086.6 854.4 2095 900C2100.1 927.5 2108.3 941.3 2100 962C2095 974.5 2079.4 971.7 2070 962C2050 941.3 2049.1 929.6 2040 900C2026.5 856.1 2030 844.8 2020 800C2012 763.8 2008.4 756.1 2000 720C1992.7 688.6 1981.7 676.7 1985 650Z" fill="#A3237C"/>
<path d="M1860 420L2290 1252" fill="none" stroke="#3b3437" stroke-width="6"/>
<path d="M2400 1390C2421.7 1383.3 2426.3 1408.5 2440 1430C2458.4 1458.9 2463.3 1466.4 2470 1500C2476.2 1530.9 2473 1538.9 2468 1570C2463.9 1595.7 2450 1625 2450 1625L2375 1450C2375 1450 2378.3 1396.7 2400 1390Z" fill="#E6A2CD" stroke="#3b3437" stroke-width="5"/>
<path d="M160 510C160 510 291.9 500 400 495C534.9 488.8 566.7 485 700 485C790.1 485 810.6 483.5 900 495C968.7 503.8 984 508.9 1050 530C1097 545 1104.9 555 1150 575C1188.1 591.9 1235 612 1235 612C1235 612 1161.2 629.3 1100 628C1054 627 1045.8 611.3 1000 607C920 599.5 890 597.1 800 600C709.6 602.9 689.4 606 600 620C531.5 630.8 518.3 643.5 450 655C339.3 673.7 267.7 670.5 185 690C159.2 696.1 140 728 140 728C140 728 145.5 668.6 150 620C154.5 570.5 160 510 160 510Z" fill="#FBD6A0" stroke="#3b3437" stroke-width="5"/>
<path d="M245 930C245 930 418.7 909.8 540 905C612 902.2 627.9 913 700 912C790.2 910.7 810.1 907.2 900 900C990.2 892.8 1009.8 887.2 1100 880C1189.9 872.8 1210.1 874.7 1300 868C1390.1 861.2 1414.7 860.1 1500 850C1554.4 843.5 1566.7 835.9 1620 830C1655.8 826.1 1664.2 824.4 1700 828C1732.3 831.2 1740.1 832.5 1770 845C1797.1 856.3 1813 862.7 1825 880C1833.1 891.7 1826.3 901.3 1815 910C1797.7 923.3 1785.6 923.8 1760 930C1716 940.7 1699.8 942.7 1650 950C1582.7 959.8 1567.1 956.8 1500 968C1431.9 979.3 1417.6 986 1350 1000C1282.6 1013.9 1268 1019.3 1200 1030C1110.4 1044.1 1090.4 1047.8 1000 1055C910.2 1062.2 889.9 1057.5 800 1062C709.9 1066.5 690 1069.8 600 1075C510 1080.2 486.7 1080.5 400 1085C343.7 1087.9 328.3 1079.5 275 1092C237.8 1100.8 200 1132 200 1132C200 1132 214.7 1076.1 225 1030C235 985.2 245 930 245 930Z" fill="#FBD6A0" stroke="#3b3437" stroke-width="5"/>
<path d="M326 1236C326 1236 366.8 1232.8 400 1235C427.3 1236.8 435.6 1232.6 460 1245C482.1 1256.3 491.3 1262.3 498 1285C503.9 1305.2 499.7 1314.9 485 1330C466.9 1348.7 455.3 1345.1 430 1355C403.5 1365.4 391.3 1356.2 370 1375C349.6 1393 345 1430 345 1430L280 1415C280 1415 287.4 1373.4 296 1340C308.1 1292.8 326 1236 326 1236Z" fill="#FBD6A0" stroke="#3b3437" stroke-width="5"/>
<path d="M385 1480C385 1480 447.9 1466.9 500 1460C549.3 1453.4 560.5 1454.9 610 1450C650.5 1445.9 660.1 1448.4 700 1440C746 1430.3 756.9 1428.7 800 1410C838.5 1393.3 842.3 1380.5 880 1362C932.5 1336.3 942.8 1324.1 1000 1312C1066.1 1298 1082.5 1303.2 1150 1305C1217.8 1306.8 1232.2 1319 1300 1320C1390.1 1321.3 1410.3 1319 1500 1310C1590.6 1300.9 1609.7 1291.6 1700 1280C1767.3 1271.3 1786 1266.3 1850 1265C1890.7 1264.2 1906.7 1265.1 1940 1275C1959.1 1280.6 1969.7 1286.8 1975 1302C1980 1316.2 1973.3 1324.8 1960 1332C1926.7 1350.1 1901.3 1359.5 1850 1370C1783.5 1383.5 1767.8 1383.8 1700 1385C1609.9 1386.5 1590.1 1378 1500 1376C1410 1374 1389.9 1372.4 1300 1376C1232.3 1378.7 1216.7 1378 1150 1390C1081.2 1402.4 1066.5 1408.7 1000 1430C953.8 1444.8 947.1 1458.7 900 1470C833.8 1485.9 817.4 1480.6 750 1490C682.4 1499.5 667.2 1500.1 600 1512C509.6 1528 455.5 1535.5 400 1552C389.9 1555 392 1574 392 1574L385 1480Z" fill="#FBD6A0" stroke="#3b3437" stroke-width="5"/>
<path d="M165 640C245 616 322 625.6 450 610C562.8 596.3 586.9 585.2 700 575C812.1 564.9 843.3 560.5 950 565C1018.5 567.9 1032.6 579.5 1100 592C1149.6 601.1 1210 603.4 1210 613C1210 622.6 1149.9 629.4 1100 628C1054 626.7 1045.8 611.3 1000 607C920 599.5 890 597.1 800 600C709.6 602.9 689.4 606 600 620C531.5 630.8 518.3 643.5 450 655C339.3 673.7 265 678 185 690C168.8 692.4 155.3 713.3 150 700C144.7 686.7 138.3 648 165 640Z" fill="#EFB488"/>
<path d="M235 1040C311 1013.3 380.3 1018.5 500 1010C634.7 1000.5 665.1 1006.7 800 1000C935.1 993.2 965.4 993.5 1100 980C1235.5 966.4 1265.1 958.4 1400 940C1512.6 924.7 1543.3 917 1650 905C1717.2 897.4 1756 893.7 1800 895C1809.5 895.3 1822.2 903.7 1815 910C1804.3 919.3 1785.6 923.8 1760 930C1716 940.7 1699.8 942.7 1650 950C1582.7 959.8 1567.1 956.8 1500 968C1431.9 979.3 1417.6 986 1350 1000C1282.6 1013.9 1268 1019.3 1200 1030C1110.4 1044.1 1090.4 1047.8 1000 1055C910.2 1062.2 889.9 1057.5 800 1062C709.9 1066.5 690 1069.8 600 1075C510 1080.2 486.7 1080.5 400 1085C343.7 1087.9 324.3 1085.3 275 1092C247.1 1095.8 225.7 1123.9 215 1110C204.3 1096.1 204.1 1050.8 235 1040Z" fill="#EFB488"/>
<path d="M400 1530C453.3 1513.5 509.8 1506.9 600 1490C689.8 1473.2 710.9 1475.4 800 1455C868.7 1439.3 881.9 1428.2 950 1410C1017 1392.1 1031.3 1384.4 1100 1375C1189.4 1362.7 1209.9 1364.9 1300 1362C1390 1359.1 1410 1363.6 1500 1362C1590 1360.4 1610.2 1362.2 1700 1355C1790.4 1347.8 1830.7 1336.1 1900 1330C1926.9 1327.6 1973.3 1321.3 1960 1332C1946.7 1342.7 1901.3 1359.5 1850 1370C1783.5 1383.5 1767.8 1383.8 1700 1385C1609.9 1386.5 1590.1 1378 1500 1376C1410 1374 1389.9 1372.4 1300 1376C1232.3 1378.7 1216.7 1378 1150 1390C1081.2 1402.4 1066.5 1408.7 1000 1430C953.8 1444.8 947.1 1458.7 900 1470C833.8 1485.9 817.4 1480.6 750 1490C682.4 1499.5 667.2 1500.1 600 1512C509.6 1528 453.3 1547.2 400 1552C390.1 1552.9 390.5 1532.9 400 1530Z" fill="#EFB488"/>
<path d="M440 1900C514.7 1872 583.6 1875.3 700 1850C790.7 1830.3 808.3 1813.8 900 1800C989.1 1786.6 1010.1 1796.7 1100 1790C1190.2 1783.2 1211 1786.4 1300 1770C1382.7 1754.8 1416 1728 1480 1720C1508.2 1716.5 1511.8 1736.2 1540 1740C1598.7 1748 1628 1745.3 1700 1750C1822.7 1758 1864.8 1764.4 2000 1770C2188.9 1777.9 2308 1757.3 2420 1780C2453.1 1786.7 2453.6 1851.8 2420 1855C2308 1865.7 2189 1835.8 2000 1820C1865 1808.8 1822.7 1799 1700 1795C1627.9 1792.6 1611 1792 1540 1805C1474.9 1816.9 1464.2 1834 1400 1850C1311 1872.3 1291.7 1885.4 1200 1890C1109.7 1894.5 1090.2 1876.4 1000 1870C932.6 1865.2 916.8 1855 850 1865C743.3 1881 713.8 1906.2 600 1930C520 1946.8 462.7 1963 420 1955C394.1 1950.1 415.3 1909.2 440 1900Z" fill="#EFB488"/>
<path d="M180 535C180 535 328.5 525.8 450 520C562.5 514.6 587.4 510 700 510C790.1 510 810.5 509.7 900 520C959.4 526.8 1030 548 1030 548" fill="none" stroke="#FDEBD0" stroke-width="14" stroke-linecap="round" opacity="0.85"/>
<path d="M270 955C270 955 418.1 934.6 540 930C656.9 925.6 683.1 940.2 800 935C935.5 928.9 964.8 916.3 1100 905C1234.8 893.8 1400 885 1400 885" fill="none" stroke="#FDEBD0" stroke-width="14" stroke-linecap="round" opacity="0.85"/>
<path d="M410 1505C410 1505 514.7 1490 600 1475C681.3 1460.7 780 1440 780 1440" fill="none" stroke="#FDEBD0" stroke-width="14" stroke-linecap="round" opacity="0.85"/>
<path d="M1010 1340C1010 1340 1114.4 1331 1200 1330C1312.5 1328.7 1450 1335 1450 1335" fill="none" stroke="#FDEBD0" stroke-width="14" stroke-linecap="round" opacity="0.85"/>
<path d="M480 1845C480 1845 601.6 1821.9 700 1798C781.7 1778.2 797.5 1764 880 1748C955.5 1733.3 1050 1730 1050 1730" fill="none" stroke="#FDEBD0" stroke-width="14" stroke-linecap="round" opacity="0.85"/>
<path d="M1600 1650C1600 1650 1765 1645 1900 1645C2080 1645 2300 1650 2300 1650" fill="none" stroke="#FDEBD0" stroke-width="14" stroke-linecap="round" opacity="0.85"/>
<path d="M90 350C90 350 77.7 404.6 75 450C71 516.7 68.3 533.3 75 600C79.6 646.2 84.8 666.4 100 700C107.6 716.9 132 726 132 726C132 726 143.8 668 150 620C156.4 570.7 164.9 559.5 160 510C155.8 467.5 147.1 459.1 130 420C115.5 386.8 90 350 90 350Z" fill="#E6A2CD" stroke="#3b3437" stroke-width="5"/>
<path d="M185 690C185 690 165.5 727 160 760C150.7 816 148.9 836.8 150 900C151.2 967.8 152.5 988.1 165 1050C172.9 1088.8 197 1132 197 1132C197 1132 211.6 1116.2 215 1100C226.5 1046.1 238.7 1007.3 240 930C241 870.8 233.2 857.7 220 800C208.4 749.4 185 690 185 690Z" fill="#E6A2CD" stroke="#3b3437" stroke-width="5"/>
<path d="M275 1090C275 1090 258.7 1144.3 255 1190C249.7 1256.7 247.8 1283.5 255 1340C258.8 1370.2 282 1402 282 1402C282 1402 292.2 1368 300 1340C312.8 1294.1 330 1281.3 330 1230C330 1187.3 314.7 1177.3 300 1140C290.8 1116.6 275 1090 275 1090Z" fill="#E6A2CD" stroke="#3b3437" stroke-width="5"/>
<path d="M360 1390C360 1390 344.4 1410.5 338 1430C328.4 1459.3 327.2 1468 324 1500C320 1540.3 319.3 1549.6 322 1590C324.8 1631.8 336 1682 336 1682C336 1682 356.7 1690.5 362 1680C376.4 1651.5 384.4 1623.6 390 1575C394.9 1532.5 391.9 1522.3 385 1480C378.3 1438.5 360 1390 360 1390Z" fill="#E6A2CD" stroke="#3b3437" stroke-width="5"/>
<path d="M395 1570C395 1570 372.5 1606.6 365 1640C353 1693.3 350 1711.1 350 1770C350 1833.4 351.1 1858.8 365 1910C372.5 1937.7 402 1962 402 1962C402 1962 422.8 1947.7 430 1930C445.5 1892.1 457.9 1871.3 460 1820C462.5 1760.9 454.9 1747.3 440 1690C425.5 1634.2 395 1570 395 1570Z" fill="#E6A2CD" stroke="#3b3437" stroke-width="5"/>
<path d="M1420 365C1420 365 1463.7 472.4 1500 560C1544.7 668.1 1600 800 1600 800" fill="none" stroke="#3b3437" stroke-width="4"/>
<path d="M450 655L540 905" fill="none" stroke="#3b3437" stroke-width="4"/>
<path d="M905 1070L1000 1290" fill="none" stroke="#3b3437" stroke-width="4"/>
<path d="M1800 920C1800 920 1845.7 1012.7 1880 1090C1917.7 1174.8 1960 1280 1960 1280" fill="none" stroke="#3b3437" stroke-width="4"/>
<path d="M2290 220L2286.6 239.8L2318.4 231.5L2303.3 260.6L2335 252.3L2320 281.5L2351.7 273.1L2336.6 302.3L2368.4 294L2353.3 323.1L2385 314.8L2370 344L2390 345" fill="none" stroke="#45403f" stroke-width="8" stroke-linejoin="round"/>
<path d="M2800 95L2794.5 114.2L2826.9 109L2808.8 136.3L2841.2 131.2L2823.1 158.5L2855.5 153.3L2837.4 180.6L2869.7 175.4L2851.7 202.8L2884 197.6L2866 224.9L2898.3 219.7L2880.3 247.1L2900 250L2893.6 269.1L2926.4 265.9L2907 292.4L2939.7 289.2L2920.3 315.8L2953 312.6L2933.6 339.1L2966.4 335.9L2947 362.4L2979.7 359.2L2960.3 385.8L2980 390" fill="none" stroke="#45403f" stroke-width="8" stroke-linejoin="round"/>
<path d="M2810 400L2804.6 420.2L2837.9 417.3L2819.6 445.2L2852.9 442.3L2834.6 470.2L2867.9 467.3L2849.6 495.2L2870 500L2851.9 508.2L2876.9 529.3L2844.4 533.2L2869.4 554.3L2836.9 558.2L2861.9 579.3L2829.4 583.2L2854.4 604.3L2821.9 608.2L2846.9 629.3L2814.4 633.2L2839.4 654.3L2806.9 658.2L2831.9 679.3L2799.4 683.2L2810 700" fill="none" stroke="#45403f" stroke-width="8" stroke-linejoin="round"/>
<path d="M3290 400L3281.1 418.1L3313.9 419.4L3291.1 443.1L3323.9 444.4L3301.1 468.1L3333.9 469.4L3311.1 493.1L3343.9 494.4L3321.1 518.1L3353.9 519.4L3331.1 543.1L3350 550L3333.2 561.9L3360.8 580.1L3329.2 589.9L3356.8 608.1L3325.2 617.9L3352.8 636.1L3321.2 645.9L3348.8 664.1L3317.2 673.9L3330 690" fill="none" stroke="#45403f" stroke-width="8" stroke-linejoin="round"/>
<path d="M2610 740L2605.8 759.4L2637.7 751.9L2621.5 780.3L2653.3 772.7L2637.1 801.2L2669 793.6L2652.8 822L2684.6 814.5L2668.4 842.9L2700.3 835.3L2684.1 863.8L2715.9 856.2L2699.7 884.7L2731.6 877.1L2715.4 905.5L2747.2 898L2731 926.4L2762.9 918.8L2746.7 947.3L2778.5 939.7L2762.3 968.1L2794.2 960.6L2790 980L2770.3 982.9L2788.7 1010.1L2756.3 1004.9L2774.7 1032.1L2742.3 1026.9L2760.7 1054.1L2728.3 1048.9L2746.7 1076.1L2714.3 1070.9L2732.7 1098.1L2700.3 1092.9L2718.7 1120.1L2686.3 1114.9L2704.7 1142.1L2672.3 1136.9L2690.7 1164.1L2658.3 1158.9L2676.7 1186.1L2644.3 1180.9L2650 1200L2642.9 1218.6L2675.5 1216L2655.2 1241.7L2687.9 1239.1L2667.5 1264.8L2700.2 1262.2L2679.8 1287.8L2712.5 1285.2L2692.1 1310.9L2724.8 1308.3L2704.5 1334L2737.1 1331.4L2730 1350" fill="none" stroke="#45403f" stroke-width="8" stroke-linejoin="round"/>
<path d="M3180 700L3175.5 719.7L3207.8 713.6L3191 741.9L3223.4 735.8L3206.6 764.2L3239 758.1L3222.2 786.4L3254.5 780.3L3237.7 808.6L3270.1 802.5L3253.3 830.8L3285.6 824.7L3268.8 853L3301.2 847L3284.4 875.3L3316.7 869.2L3299.9 897.5L3320 900L3313 918.9L3345.8 916.7L3325.6 942.6L3358.4 940.4L3338.2 966.3L3371 964.1L3350.8 990L3383.6 987.8L3363.4 1013.7L3396.2 1011.5L3376 1037.4L3408.8 1035.2L3388.6 1061.1L3421.4 1058.9L3401.2 1084.8L3434 1082.6L3413.8 1108.5L3446.6 1106.3L3426.4 1132.2L3459.2 1130L3439 1155.9L3471.8 1153.7L3451.6 1179.6L3484.4 1177.4L3464.2 1203.3L3497 1201.1L3490 1220" fill="none" stroke="#45403f" stroke-width="8" stroke-linejoin="round"/>
<path d="M2570 1380L2567.5 1399.9L2598.8 1390.1L2585 1419.9L2616.3 1410.1L2602.5 1439.9L2633.8 1430.1L2620 1459.9L2651.3 1450.1L2637.5 1479.9L2668.8 1470.1L2655 1499.9L2686.3 1490.1L2672.5 1519.9L2703.8 1510.1L2690 1539.9L2710 1540L2695.7 1554.1L2726.3 1565.9L2697 1580.7L2727.6 1592.6L2698.4 1607.4L2729 1619.3L2699.7 1634.1L2730.3 1645.9L2701 1660.7L2731.6 1672.6L2702.4 1687.4L2733 1699.3L2703.7 1714.1L2734.3 1725.9L2720 1740" fill="none" stroke="#45403f" stroke-width="8" stroke-linejoin="round"/>
<path d="M3290 1290L3287 1310L3318.8 1301.5L3304.1 1330.9L3335.9 1322.4L3321.2 1351.9L3353 1343.4L3338.4 1372.8L3370.2 1364.3L3355.5 1393.8L3387.3 1385.3L3372.7 1414.7L3404.5 1406.2L3389.8 1435.7L3421.6 1427.2L3407 1456.6L3438.8 1448.1L3424.1 1477.6L3455.9 1469.1L3441.2 1498.5L3473 1490L3470 1510L3453 1521.2L3480.5 1539.5L3448.8 1548.4L3476.2 1566.6L3444.5 1575.5L3472 1593.8L3440.2 1602.7L3467.7 1620.9L3435.9 1629.8L3463.4 1648.1L3431.6 1656.9L3459.1 1675.2L3427.3 1684.1L3440 1700" fill="none" stroke="#45403f" stroke-width="8" stroke-linejoin="round"/>
<path d="M580 250L571.5 268.1L604.3 268.2L582 292.3L614.8 292.4L592.6 316.5L625.3 316.7L603.1 340.7L635.9 340.9L613.6 364.9L646.4 365.1L624.1 389.1L656.9 389.3L634.7 413.3L667.4 413.5L645.2 437.6L678 437.7L655.7 461.8L688.5 461.9L680 480" fill="none" stroke="#45403f" stroke-width="8" stroke-linejoin="round"/>
<path d="M1070 250L1062.1 268.5L1095 267.9L1073.6 292.8L1106.4 292.2L1085 317.1L1117.9 316.5L1096.4 341.4L1129.3 340.8L1107.9 365.7L1140.7 365L1119.3 390L1152.1 389.3L1130.7 414.2L1150 420L1142.1 438.3L1174.8 437.3L1153.3 462L1186.1 461.1L1164.6 485.8L1197.3 484.8L1175.8 509.5L1208.6 508.6L1187.1 533.3L1219.8 532.3L1198.3 557L1231.1 556.1L1209.6 580.8L1242.3 579.8L1220.8 604.5L1240 610" fill="none" stroke="#45403f" stroke-width="8" stroke-linejoin="round"/>
<path d="M970 610L958.8 626.6L991.2 631.9L965.5 652.3L997.9 657.7L972.1 678.1L1004.5 683.4L978.8 703.8L1011.2 709.1L985.5 729.5L1017.9 734.8L992.1 755.2L1024.5 760.5L998.8 780.9L1031.2 786.2L1005.5 806.6L1037.9 811.9L1012.1 832.3L1044.5 837.7L1018.8 858.1L1051.2 863.4L1040 880" fill="none" stroke="#45403f" stroke-width="8" stroke-linejoin="round"/>
<path d="M1330 1010L1321.9 1028.7L1354.9 1028.8L1333.2 1053.7L1366.2 1053.8L1344.4 1078.7L1377.4 1078.8L1355.7 1103.7L1388.7 1103.8L1366.9 1128.7L1399.9 1128.8L1378.2 1153.7L1411.2 1153.8L1389.4 1178.7L1422.4 1178.8L1400.7 1203.7L1420 1210" fill="none" stroke="#45403f" stroke-width="8" stroke-linejoin="round"/>
<path d="M430 1080L421.9 1098.2L454.6 1097.6L432.8 1122.1L465.6 1121.5L443.8 1145.9L476.5 1145.4L454.8 1169.8L487.5 1169.2L465.7 1193.7L498.5 1193.1L476.7 1217.6L509.4 1217L487.7 1241.4L520.4 1240.8L498.6 1265.3L531.4 1264.7L509.6 1289.2L542.3 1288.6L520.6 1313L553.3 1312.4L531.5 1336.9L564.3 1336.3L542.5 1360.8L575.2 1360.2L553.5 1384.6L586.2 1384.1L564.4 1408.5L597.2 1407.9L575.4 1432.4L608.1 1431.8L600 1450" fill="none" stroke="#45403f" stroke-width="8" stroke-linejoin="round"/>
<path d="M630 1080L621.6 1098.3L654.5 1098.6L632.4 1122.9L665.3 1123.2L643.2 1147.6L676.1 1147.8L653.9 1172.2L686.8 1172.4L664.7 1196.8L697.6 1197.1L675.5 1221.4L708.4 1221.7L700 1240" fill="none" stroke="#45403f" stroke-width="8" stroke-linejoin="round"/>
<path d="M830 1220L820.4 1237.8L853.2 1240.4L829.5 1263.2L862.3 1265.9L838.6 1288.7L871.4 1291.3L847.7 1314.1L880.5 1316.8L856.8 1339.6L889.6 1342.2L880 1360" fill="none" stroke="#45403f" stroke-width="8" stroke-linejoin="round"/>
<path d="M760 1490L752.3 1508.6L785.1 1507.7L763.8 1532.8L796.7 1531.9L775.4 1557L808.3 1556.2L787 1581.2L819.8 1580.4L798.6 1605.4L831.4 1604.6L810.2 1629.6L843 1628.8L821.7 1653.8L854.6 1653L833.3 1678.1L866.2 1677.2L844.9 1702.3L877.7 1701.4L870 1720L853.2 1731.9L880.8 1750.1L849.2 1759.9L876.8 1778.1L845.2 1787.9L872.8 1806.1L841.2 1815.9L868.8 1834.1L837.2 1843.9L850 1860" fill="none" stroke="#45403f" stroke-width="8" stroke-linejoin="round"/>
<path d="M1530 1520L1520.2 1538.1L1553.1 1541.9L1529.1 1564.7L1562 1568.6L1538 1591.4L1570.9 1595.3L1546.9 1618.1L1579.8 1621.9L1570 1640L1552.8 1650.6L1579.7 1669.4L1547.8 1677.2L1574.7 1696.1L1542.8 1703.9L1569.7 1722.8L1537.8 1730.6L1564.7 1749.4L1532.8 1757.2L1559.7 1776.1L1527.8 1783.9L1540 1800" fill="none" stroke="#45403f" stroke-width="8" stroke-linejoin="round"/>
<path d="M1960 1330L1953 1348.7L1985.7 1346.3L1965.5 1372.1L1998.2 1369.6L1978 1395.4L2010.7 1392.9L1990.5 1418.7L2023.2 1416.3L2003 1442.1L2035.7 1439.6L2015.5 1465.4L2048.2 1462.9L2028 1488.7L2060.7 1486.3L2040.5 1512.1L2073.2 1509.6L2053 1535.4L2085.7 1532.9L2065.5 1558.7L2098.2 1556.3L2078 1582.1L2110.7 1579.6L2090.5 1605.4L2110 1610" fill="none" stroke="#45403f" stroke-width="8" stroke-linejoin="round"/>
<path d="M700 1240C700 1240 732.9 1254.2 760 1250C793.9 1244.8 830 1220 830 1220" fill="none" stroke="#4a4548" stroke-width="5"/>
<ellipse cx="395" cy="385" rx="134" ry="54" fill="#E7A6CE" transform="rotate(-4 395 385)" opacity="0.8"/>
<ellipse cx="395" cy="385" rx="112" ry="38" fill="#A3237C" transform="rotate(-4 395 385)" />
<ellipse cx="407" cy="380" rx="90" ry="26" fill="#B02C88" transform="rotate(-4 407 380)" />
<ellipse cx="1225" cy="740" rx="128" ry="58" fill="#E7A6CE" transform="rotate(-8 1225 740)" opacity="0.8"/>
<ellipse cx="1225" cy="740" rx="106" ry="42" fill="#A3237C" transform="rotate(-8 1225 740)" />
<ellipse cx="1237" cy="735" rx="84" ry="30" fill="#B02C88" transform="rotate(-8 1237 735)" />
<ellipse cx="1170" cy="1125" rx="138" ry="62" fill="#E7A6CE" transform="rotate(-5 1170 1125)" opacity="0.8"/>
<ellipse cx="1170" cy="1125" rx="116" ry="46" fill="#A3237C" transform="rotate(-5 1170 1125)" />
<ellipse cx="1182" cy="1120" rx="94" ry="34" fill="#B02C88" transform="rotate(-5 1182 1120)" />
<ellipse cx="645" cy="1650" rx="124" ry="54" fill="#E7A6CE" transform="rotate(-10 645 1650)" opacity="0.8"/>
<ellipse cx="645" cy="1650" rx="102" ry="38" fill="#A3237C" transform="rotate(-10 645 1650)" />
<ellipse cx="657" cy="1645" rx="80" ry="26" fill="#B02C88" transform="rotate(-10 657 1645)" />
<circle cx="1420" cy="1360" r="148" fill="none" stroke="#1a1a1a" stroke-width="8"/>
<circle cx="1420" cy="1360" r="124" fill="none" stroke="#1a1a1a" stroke-width="7"/>
<g transform="translate(1530,1478) rotate(44)"><rect x="0" y="-20" width="205" height="40" rx="20" fill="#E29AC8" stroke="#1a1a1a" stroke-width="8"/><rect x="0" y="-20" width="40" height="40" fill="none" stroke="#1a1a1a" stroke-width="7"/></g>
</g>
<path d="M206.5 1105.5L765 666L1190 944" fill="none" stroke="#A3A1A1" stroke-width="8.6" stroke-linejoin="miter"/>
<g transform="translate(140,925) scale(0.25)">
<clipPath id="v1c"><path d="M900 480C989.5 434.1 1011.8 428.5 1100 380C1192 329.4 1213.4 319.4 1300 260C1371.3 211.1 1382.8 194.3 1450 140C1499.8 99.8 1506.6 85.2 1560 50C1597.3 25.4 1606.3 17.5 1650 8C1707.2 -4.5 1722.5 -9 1780 2C1825.1 10.6 1835.1 20.2 1870 50C1904.2 79.2 1912.4 88.6 1930 130C1951.6 180.8 1953 194.9 1955 250C1957.5 317.8 1956 334.1 1940 400C1921.9 474.7 1914.4 491.2 1880 560C1842 635.9 1829.6 651.1 1780 720C1725.9 795.3 1713.3 812.2 1650 880C1587 947.5 1569.8 959.5 1500 1020C1434.7 1076.6 1418.6 1087.4 1350 1140C1283.6 1190.9 1266.1 1198.6 1200 1250C1144.5 1293.2 1137.4 1309.4 1080 1350C1029 1386.1 1015.6 1391.5 960 1420C911.9 1444.7 850 1468 850 1468C850 1468 740.8 1392.8 700 1300C625.3 1130.2 594.9 1085.5 600 900C604.3 744.2 720 575 720 575C720 575 818.5 521.8 900 480Z"/></clipPath>
<path d="M900 480C989.5 434.1 1011.8 428.5 1100 380C1192 329.4 1213.4 319.4 1300 260C1371.3 211.1 1382.8 194.3 1450 140C1499.8 99.8 1506.6 85.2 1560 50C1597.3 25.4 1606.3 17.5 1650 8C1707.2 -4.5 1722.5 -9 1780 2C1825.1 10.6 1835.1 20.2 1870 50C1904.2 79.2 1912.4 88.6 1930 130C1951.6 180.8 1953 194.9 1955 250C1957.5 317.8 1956 334.1 1940 400C1921.9 474.7 1914.4 491.2 1880 560C1842 635.9 1829.6 651.1 1780 720C1725.9 795.3 1713.3 812.2 1650 880C1587 947.5 1569.8 959.5 1500 1020C1434.7 1076.6 1418.6 1087.4 1350 1140C1283.6 1190.9 1266.1 1198.6 1200 1250C1144.5 1293.2 1137.4 1309.4 1080 1350C1029 1386.1 1015.6 1391.5 960 1420C911.9 1444.7 850 1468 850 1468C850 1468 740.8 1392.8 700 1300C625.3 1130.2 594.9 1085.5 600 900C604.3 744.2 720 575 720 575C720 575 818.5 521.8 900 480Z" fill="#F5AF99" stroke="#EC8266" stroke-width="6"/>
<g clip-path="url(#v1c)">
<path d="M919.1 698.5C919.1 698.5 937 668.3 958.7 650.8C991.3 624.8 1001.3 622.6 1038.1 603.2C1069.2 586.8 1109.5 571.5 1109.5 571.5M1061.9 396.8C1061.9 396.8 1090.6 397 1101.6 412.7C1118.5 436.9 1116 446.8 1117.5 476.2C1119.6 519.2 1109.5 571.5 1109.5 571.5M1101.6 412.7C1101.6 412.7 1154.6 392.3 1196.8 373C1233.2 356.5 1240.1 350.4 1276.2 333.4C1308 318.3 1314.5 313.2 1347.7 301.6C1386.1 288.2 1394.9 285.2 1435 277.8C1463.1 272.6 1472 273.8 1498.5 273.8C1505.8 273.8 1514.3 277.8 1514.3 277.8M1347.7 301.6C1347.7 301.6 1337.5 266.8 1339.7 238.1C1341.2 218.9 1355.6 198.4 1355.6 198.4M1514.3 277.8C1514.3 277.8 1528.2 252.4 1546.1 238.1C1564.8 223.1 1572.5 223.6 1593.7 214.3C1600.4 211.3 1602.2 209.6 1609.6 210.3C1636 213 1645.7 212.4 1673.1 222.2C1710.6 235.8 1720.9 237.4 1752.4 261.9C1786.4 288.3 1791.1 298.2 1815.9 333.4C1834.4 359.5 1834.4 367.8 1847.7 396.8C1854 410.7 1859.6 428.6 1859.6 428.6M1609.6 210.3C1609.6 210.3 1617.1 181.6 1625.4 158.7C1638.6 122.6 1642.1 114.8 1657.2 79.4C1672.5 43.3 1692.9 0 1692.9 0M1538.1 59.5C1538.1 59.5 1570 67.5 1593.7 79.4C1616.7 90.9 1641.3 111.1 1641.3 111.1M1625.4 170.6C1625.4 170.6 1647.5 199.3 1673.1 202.4C1726.5 208.8 1740 204 1792.1 190.5C1830.8 180.4 1837.8 172.2 1871.5 150.8C1897.2 134.5 1923.1 107.1 1923.1 107.1M1514.3 277.8C1514.3 277.8 1511.5 321.6 1506.4 357.2C1500.7 396.7 1498.4 405.3 1490.5 444.5C1487.6 458.9 1488.2 462.6 1482.6 476.2C1470.3 505.7 1466.7 513.3 1450.8 539.7C1445.6 548.4 1435 555.6 1435 555.6M1482.6 476.2C1482.6 476.2 1521.1 460.6 1554 452.4C1607 439.2 1618.7 434 1673.1 428.6C1726.4 423.3 1738.6 427.5 1792.1 428.6C1822.5 429.2 1832.9 418 1859.6 432.6C1878.5 442.9 1879.4 476.2 1879.4 476.2M1109.5 571.5C1109.5 571.5 1149.9 576.4 1181 587.3C1211.1 598 1216.4 603.8 1244.5 619.1C1255.8 625.3 1255.6 637.1 1268.3 635C1300 629.7 1308.3 618.9 1339.7 603.2C1365.5 590.3 1369.5 584.3 1395.3 571.5C1412.5 562.9 1435 555.6 1435 555.6M1435 555.6C1435 555.6 1481.1 556.5 1514.3 571.5C1554.1 589.4 1561.1 598.1 1593.7 627C1625.8 655.6 1631.8 663.8 1657.2 698.5C1671.4 717.8 1662.5 740.8 1681 746.1C1699.5 751.4 1695.4 724.7 1712.8 714.3C1732.1 702.7 1760.4 698.5 1760.4 698.5M1268.3 635C1268.3 635 1270.5 678.7 1268.3 714.3C1266.9 736 1264.6 740.6 1260.3 762C1257.5 776.4 1261.6 782.2 1252.4 793.7C1231.8 819.4 1223.4 821.8 1196.8 841.3C1169.7 861.2 1162.7 864.4 1133.4 881C1109 894.8 1077.8 908.8 1077.8 908.8M1252.4 793.7C1252.4 793.7 1289.6 796.4 1315.9 809.6C1347.9 825.5 1353.3 832.8 1379.4 857.2C1407.2 883.1 1412.5 890.1 1435 920.7C1452 943.9 1453.5 952.4 1466.7 976.3C1470.6 983.2 1474.6 992.1 1474.6 992.1M1681 746.1C1681 746.1 1685.4 775.8 1673.1 793.7C1644.5 835.3 1629.4 837.4 1593.7 873.1C1558 908.8 1550 916.7 1514.3 952.4C1496.5 970.3 1490.8 972.7 1474.6 992.1C1455 1015.7 1449.3 1020.5 1435 1047.7C1417 1081.7 1403.2 1127.1 1403.2 1127.1M1252.4 793.7C1252.4 793.7 1235.9 836.5 1228.6 873.1C1218 926.1 1224 939.3 1212.7 992.1C1202.5 1039.6 1198.7 1050.1 1181 1095.3C1166.4 1132.5 1141.3 1174.7 1141.3 1174.7M940 690L720 575" fill="none" stroke="#EC8266" stroke-width="13" stroke-linecap="round" stroke-linejoin="round" />
<path d="M1133.4 515.9C1133.4 515.9 1156 487.2 1181 472.3C1210.6 454.5 1252.4 444.5 1252.4 444.5M1292.1 690.5C1292.1 690.5 1314.1 660.5 1339.7 646.9C1369.2 631.2 1411.1 627 1411.1 627M1538.1 341.3C1538.1 341.3 1543 303.5 1562 281.8C1580.8 260 1617.5 250 1617.5 250M1355.6 261.9C1355.6 261.9 1378.8 234 1403.2 218.3C1429.4 201.4 1466.7 190.5 1466.7 190.5M1661.2 150.8C1661.2 150.8 1670.1 115.2 1681 87.3C1689.8 65 1704.8 39.7 1704.8 39.7M970.6 662.7C970.6 662.7 1006.8 641.2 1038.1 627C1062.3 616.1 1093.7 607.2 1093.7 607.2M1792.1 214.3C1792.1 214.3 1833 200 1863.6 182.6C1883.4 171.2 1903.2 150.8 1903.2 150.8M1244.5 829.4C1244.5 829.4 1259.4 810.4 1276.2 809.6C1298.8 808.4 1323.8 825.4 1323.8 825.4M1498.5 508C1498.5 508 1531.6 486.3 1562 476.2C1596.5 464.7 1641.3 460.3 1641.3 460.3M1133.4 373C1133.4 373 1194.5 342.5 1244.5 317.5C1280.2 299.6 1323.8 277.8 1323.8 277.8M1379.4 182.6C1379.4 182.6 1429.7 140.3 1474.6 111.1C1501.4 93.7 1538.1 79.4 1538.1 79.4M831.7 508C831.7 508 901.4 477 958.7 452.4C1001.4 434.1 1054 412.7 1054 412.7M1696.9 444.5L1792.1 448.4M1458.8 587.3L1514.3 591.3" fill="none" stroke="#FBD9CC" stroke-width="12" stroke-linecap="round" stroke-linejoin="round" opacity="0.9"/>
</g>
<ellipse cx="688" cy="1028" rx="365" ry="396" fill="#EA6D52"/>
<clipPath id="v1l"><ellipse cx="688" cy="1028" rx="362" ry="393"/></clipPath>
<g clip-path="url(#v1l)">
<path d="M505 720C510 692.3 533 698 560 690C638.3 666.7 657.1 647.6 740 650C815.4 652.2 842.1 651.7 900 700C984.4 770.3 997.4 798.8 1040 900C1071.6 975.1 1068.1 998.9 1060 1080C1054.2 1138.2 1040.8 1150.3 1010 1200C981.5 1246.1 976.1 1261.5 930 1290C878 1322.2 861.2 1330 800 1330C751.5 1330 739.3 1318.4 700 1290C656.1 1258.3 650.1 1245.1 620 1200C586.5 1149.8 579.7 1137.1 560 1080C538.9 1019.1 534.6 1004.3 530 940C525.5 877 547.1 862.8 540 800C535.6 761 498.3 756.7 505 720Z" fill="#DA4631"/>
<path d="M1010 1080C1025.9 1052.8 1071.1 1049.8 1080 1080C1096.7 1136.7 1088.6 1178.5 1060 1250C1032.6 1318.5 1019.4 1336.1 960 1380C910.8 1416.4 891 1415.3 830 1420C771 1424.5 744.9 1438.5 700 1400C665.7 1370.6 656.7 1321.7 690 1300C723.3 1278.3 748.1 1336.1 800 1335C861.2 1333.7 878.5 1328.1 930 1295C977 1264.8 990.5 1252.4 1010 1200C1028.8 1149.4 986.7 1120 1010 1080Z" fill="#E25A40"/>
<path d="M740 655C753.7 631.6 773.9 642.7 800 650C848.4 663.6 860.5 668.8 900 700C947.5 737.5 957.7 748.8 990 800C1023.9 853.7 1027.3 869 1045 930C1063.5 993.6 1091.7 1030 1070 1075C1052.3 1111.7 1019.4 1075.4 980 1065C942 1054.9 932.9 1051.6 900 1030C860 1003.8 851.5 996 820 960C787.9 923.4 780.8 914 760 870C739.9 827.5 734.4 816.8 730 770C725.2 718.3 716.7 695 740 655Z" fill="#BE0A1E"/>
<path d="M330 850C330 850 378.1 880.3 420 900C454.8 916.4 462.7 920.7 500 930C517.5 934.4 540 930 540 930M500 930C500 930 486.4 973.5 480 1010C472.9 1050.1 503.9 1077.4 470 1100C420 1133.3 330 1110 330 1110M470 1100C470 1100 480.6 1164.1 520 1180C586.8 1207 618 1221.6 680 1185C737.2 1151.2 748.1 1116 740 1050C732.2 986.5 704.8 972.9 650 940C607.4 914.4 540 930 540 930M520 1180C520 1180 521 1224.8 500 1250C472.8 1282.6 420 1300 420 1300M680 1185C680 1185 714.1 1244 700 1290C684.1 1341.8 650.1 1334.9 620 1380C604.2 1403.7 600 1440 600 1440M700 1290C700 1290 765.8 1303.1 800 1340C829 1371.3 830 1430 830 1430M740 1050L850 1000M650 940C650 940 664.6 839 690 760C705.4 712.1 740 660 740 660M540 930L545 760" fill="none" stroke="#C9432F" stroke-width="6" stroke-linecap="round" stroke-linejoin="round" opacity="0.8"/>
</g>
<ellipse cx="688" cy="1028" rx="421.0" ry="452.0" fill="none" stroke="#A9938B" stroke-width="5" transform="rotate(0 688 1028)"/>
<ellipse cx="688" cy="1028" rx="390" ry="421" fill="none" stroke="#F8CDBB" stroke-width="62" transform="rotate(0 688 1028)"/>
<ellipse cx="688" cy="1028" rx="359.0" ry="390.0" fill="none" stroke="#A9938B" stroke-width="4" transform="rotate(0 688 1028)"/>
<path d="M520.4 685.4L489.4 627.1M700.5 640.2L702.8 574.3M907.8 722.3L948.4 670.2M1034.4 934.1L1098.4 918.2M1019 1173.3L1080.2 1198.1M866.5 1364L899.5 1421.2M626 1410.1L614.5 1475.1M435.6 1302.4L388.9 1349M334.5 1082L269.1 1091.2M385.2 822.4L329.3 787.4" fill="none" stroke="#A9938B" stroke-width="6" transform="rotate(0 688 1028)"/>
<path d="M566.2 623.8A394 425 0 0 1 633.2 607.1M790 617.5A394 425 0 0 1 854.5 642.8M998.5 766.3A394 425 0 0 1 1035.9 828.5M1081.9 1020.6A394 425 0 0 1 1077.1 1094.5M1006.8 1277.8A394 425 0 0 1 961.7 1333.7M790 1438.5A394 425 0 0 1 722.3 1451.4M537.2 1420.6A394 425 0 0 1 476.3 1386.4M352.1 1250.1A394 425 0 0 1 321.4 1183.8M296.9 976.2A394 425 0 0 1 311.2 903.7M395.2 743.6A394 425 0 0 1 445.4 693.1" fill="none" stroke="#FFFFFF" stroke-width="14" stroke-linecap="round" opacity="0.85" transform="rotate(0 688 1028)"/>
</g>
<g transform="translate(790,940) scale(0.25)">
<clipPath id="v2c"><path d="M800 530C891 491.7 914.5 489.4 1000 440C1117.8 371.9 1139.1 348.8 1250 270C1341.7 204.8 1358.3 185.1 1450 120C1497.8 86 1506.5 74.1 1560 50C1597.8 33 1608.6 27.9 1650 30C1701.2 32.6 1715 35.3 1760 60C1807.5 86.1 1820.5 94.6 1850 140C1881 187.7 1883.5 203.5 1890 260C1897.2 322.7 1894.2 338.5 1880 400C1866.8 457 1854 466.7 1830 520C1813.5 556.7 1809.2 564.6 1790 600C1750.7 672.6 1744.2 690.2 1700 760C1658.6 825.4 1647.8 839.1 1600 900C1548.7 965.2 1541.1 983.8 1480 1040C1427.6 1088.2 1409.9 1091.5 1350 1130C1283.8 1172.6 1264.4 1174.7 1200 1220C1142.5 1260.5 1137 1278.9 1080 1320C1024.3 1360.1 1009.6 1365.9 950 1400C883.6 1438 867.2 1443.5 800 1480C763.7 1499.7 720 1525 720 1525C720 1525 638.1 1408.2 600 1300C538.4 1125 494.7 1085.5 500 900C504.2 754.7 620 600 620 600C620 600 719.9 563.7 800 530Z"/></clipPath>
<path d="M800 530C891 491.7 914.5 489.4 1000 440C1117.8 371.9 1139.1 348.8 1250 270C1341.7 204.8 1358.3 185.1 1450 120C1497.8 86 1506.5 74.1 1560 50C1597.8 33 1608.6 27.9 1650 30C1701.2 32.6 1715 35.3 1760 60C1807.5 86.1 1820.5 94.6 1850 140C1881 187.7 1883.5 203.5 1890 260C1897.2 322.7 1894.2 338.5 1880 400C1866.8 457 1854 466.7 1830 520C1813.5 556.7 1809.2 564.6 1790 600C1750.7 672.6 1744.2 690.2 1700 760C1658.6 825.4 1647.8 839.1 1600 900C1548.7 965.2 1541.1 983.8 1480 1040C1427.6 1088.2 1409.9 1091.5 1350 1130C1283.8 1172.6 1264.4 1174.7 1200 1220C1142.5 1260.5 1137 1278.9 1080 1320C1024.3 1360.1 1009.6 1365.9 950 1400C883.6 1438 867.2 1443.5 800 1480C763.7 1499.7 720 1525 720 1525C720 1525 638.1 1408.2 600 1300C538.4 1125 494.7 1085.5 500 900C504.2 754.7 620 600 620 600C620 600 719.9 563.7 800 530Z" fill="#F5AF99" stroke="#EC8266" stroke-width="6"/>
<g clip-path="url(#v2c)">
<path d="M1060 520C1060 520 1128 484.7 1180 450C1209.2 430.5 1240 400 1240 400M1290 370L1400 350M1480 360C1480 360 1516.7 310.3 1560 290C1592.7 274.7 1640 285 1640 285M1240 720C1240 720 1280.7 688.7 1320 680C1363.9 670.2 1420 680 1420 680M660 610C660 610 749.6 580.8 820 550C893.7 517.7 980 470 980 470M1020 470L1230 320M1290 260L1440 150M1660 80L1740 90M880 790C880 790 917.2 741.4 960 720C1001 699.5 1060 700 1060 700M1010 1000L1080 960M1470 560L1560 510" fill="none" stroke="#FBD9CC" stroke-width="12" stroke-linecap="round" stroke-linejoin="round" opacity="0.9"/>
<path d="M830 720C830 720 871.6 690.3 900 660C939.4 618 947.4 607.5 980 560C997.1 535.1 991.5 523.8 1010 500C1023.8 482.2 1030.1 480.5 1050 470C1113.3 436.7 1136.7 439.2 1200 400C1232.5 379.9 1226.3 358 1260 340C1296.6 320.5 1308.6 322.3 1350 320C1390.7 317.7 1400.6 340.5 1440 330C1474 320.9 1471.9 301.1 1500 280C1526 260.5 1528.1 246 1560 240C1604.4 231.7 1618.8 231.4 1660 250C1712.6 273.6 1724.6 284.5 1760 330C1789.8 368.3 1791.6 382.3 1800 430C1805.5 461.3 1790 500 1790 500M1260 340L1250 270M1470 110C1470 110 1518 128.2 1540 160C1561.1 190.5 1560 240 1560 240M1540 160L1620 50M1560 240C1560 240 1638.4 228.8 1700 210C1742.4 197.1 1750.7 190.4 1790 170C1811.6 158.8 1835 140 1835 140M1440 330C1440 330 1435.7 396.1 1430 450C1426.7 481.6 1433.5 491.2 1420 520C1401 560.8 1387 564 1360 600C1346.5 618 1330 640 1330 640M1420 520C1420 520 1488 478.9 1550 470C1617 460.4 1632.9 471.6 1700 480C1741.2 485.1 1790 500 1790 500M1000 540C1000 540 985.6 593.2 1010 620C1038.7 651.6 1063.2 628.4 1100 650C1141.2 674.3 1153.5 680.2 1180 720C1200.6 750.9 1197.5 763 1200 800C1202.1 831.7 1209.5 844.9 1190 870C1172.5 892.5 1130 890 1130 890M1180 720C1180 720 1215.8 688.2 1250 670C1283.9 651.9 1291.7 643.8 1330 640C1383.9 634.6 1398.3 633.7 1450 650C1486.9 661.7 1491.6 673.7 1520 700C1550.5 728.1 1554.5 737.3 1580 770C1601.8 798.1 1625 835 1625 835M1190 870C1190 870 1243.1 916.2 1280 960C1315.4 1002 1312.8 1019.6 1350 1060C1365.7 1077 1395 1085 1395 1085M980 960C980 960 1023.5 937 1060 920C1091.1 905.5 1107.4 864.2 1130 890C1153.3 916.7 1132.4 950.6 1130 1000C1127.8 1045.2 1136.4 1057.9 1120 1100C1103.7 1141.9 1082.1 1140.8 1060 1180C1041.2 1213.5 1038.1 1222.4 1030 1260C1024.3 1286.4 1019.7 1295 1030 1320C1037.4 1337.9 1065 1345 1065 1345M960 1270L1030 1260M620 590L615 700M1000 440L1005 520M1790 500L1810 520M1620 830L1680 770" fill="none" stroke="#C8102E" stroke-width="40" stroke-linecap="round" stroke-linejoin="round" />
</g>
<ellipse cx="568" cy="1080" rx="375" ry="422" fill="#FFFFFF" transform="rotate(7 568 1080)"/>
<clipPath id="v2l"><ellipse cx="568" cy="1080" rx="372" ry="419" transform="rotate(7 568 1080)"/></clipPath>
<g clip-path="url(#v2l)">
<path d="M370 770C401.8 762.1 426.3 760.3 440 790C454 820.3 430 851 430 900C430 945.2 456.3 974.3 440 1000C423.7 1025.7 392.7 1019.3 360 1010C327.3 1000.7 328.9 980 300 960C270.2 939.3 234.7 950.3 230 920C225.3 889.7 248.4 863.9 280 830C312.7 795 332.7 779.3 370 770Z" fill="#EA6F54"/>
<path d="M215 940C245.3 927.2 266.2 947.5 300 965C331.2 981.1 350.7 988.2 360 1015C369.3 1041.8 366.3 1064.4 340 1080C302.7 1102.2 239.7 1124 200 1110C160.3 1096 166.5 1059.7 170 1020C173.5 980.3 184.7 952.8 215 940Z" fill="#EA6F54"/>
<path d="M150 1150C196.7 1126.7 296.3 1118.3 350 1130C383.5 1137.3 369.8 1167.3 380 1200C391.7 1237.3 411.7 1255 400 1290C388.3 1325 358 1326.7 330 1350C307.9 1368.4 306.9 1400.3 280 1390C249.7 1378.3 230.3 1337.3 200 1300C175.6 1270 161.7 1265 150 1230C138.6 1195.8 117.8 1166.1 150 1150Z" fill="#EA6F54"/>
<path d="M370 1040C388.7 1017.8 405.5 1011.9 440 1005C475 998 485.9 998.3 520 1010C557.3 1022.8 576.7 1034.3 600 1060C619.1 1081.1 622.3 1092 620 1120C617.7 1148 601.2 1152 590 1180C576 1215 597.8 1250.1 560 1270C515.7 1293.3 442 1301 400 1280C359 1259.5 389.3 1222 380 1180C372 1143.8 362.3 1132.7 360 1100C358 1072.7 352.4 1060.9 370 1040Z" fill="#EA6F54"/>
<path d="M280 1420C303.3 1373.3 339.3 1330.3 400 1300C456.5 1271.8 502.7 1278.3 540 1290C567.2 1298.5 560 1321.5 560 1350C560 1382.7 553.8 1395.5 540 1430C526.5 1463.7 529.9 1479.4 500 1500C462.7 1525.7 426.7 1540 380 1540C339.8 1540 323.3 1528 300 1500C276.7 1472 263.4 1453.2 280 1420Z" fill="#EA6F54"/>
<path d="M520 1560C487.3 1532 552 1470.3 580 1440C598.6 1419.9 614.3 1420.7 640 1430C665.7 1439.3 673.3 1452.9 690 1480C708.7 1510.3 754.8 1543.6 720 1560C680.3 1578.7 552.7 1588 520 1560Z" fill="#EA6F54"/>
<path d="M570 1290C574.7 1266.7 594.4 1254.1 620 1260C650.3 1267 658.5 1302.7 700 1320C742 1337.5 755.4 1343.9 800 1335C846.7 1325.7 876.7 1264.8 900 1280C923.3 1295.2 932.7 1362.7 900 1400C867.3 1437.3 809 1423.7 760 1440C727.5 1450.8 718 1474.7 690 1470C662 1465.3 660.1 1444.6 640 1420C619.5 1394.9 615.4 1388.6 600 1360C583.8 1329.8 565.3 1313.3 570 1290Z" fill="#EA6F54"/>
<path d="M430 790C438.8 765.3 455.5 769.4 480 760C510.3 748.3 526.2 750.5 560 740C589.9 730.7 611 687 625 715C643.7 752.3 629.5 828.8 640 900C648.1 955.1 670 975.7 670 1020C670 1054.3 661 1080.7 640 1090C619 1099.3 604.1 1078.1 580 1060C552 1039 552.7 1014 520 1000C487.3 986 461 1023.3 440 1000C419 976.7 432.2 945.2 430 900C427.7 851 418.3 822.7 430 790Z" fill="#E0563C"/>
<path d="M250 760C278 727.3 327.9 708.6 400 690C469.9 672 507.5 674.2 560 680C593 683.7 625 701 625 715C625 729 589.9 730.7 560 740C526.2 750.5 508 748.3 480 760C459.2 768.7 462.4 788 440 790C414.3 792.3 401.8 762.1 370 770C332.7 779.3 308 832.3 280 830C252 827.7 227.7 786 250 760Z" fill="#EA6F54"/>
<path d="M620 1110C650.3 1089 680.3 1091.7 720 1080C751.4 1070.8 757.6 1055.4 790 1060C822.7 1064.7 837.6 1071.5 860 1100C885.7 1132.7 890.7 1155.7 900 1200C908.3 1239.6 923.3 1258.5 900 1290C876.7 1321.5 846.7 1328 800 1335C755 1341.8 741.1 1339.4 700 1320C658 1300.2 645.7 1285 620 1250C597.3 1219 590 1202.7 590 1170C590 1139.8 595.2 1127.2 620 1110Z" fill="#DA4631"/>
<path d="M450 1010C466.3 989 490.1 1000 520 1010C555 1021.7 576.7 1034.3 600 1060C619.1 1081.1 622.3 1092 620 1120C617.7 1148 601.2 1152 590 1180C576 1215 581 1247.8 560 1270C541.4 1289.7 519.2 1294.2 500 1275C479 1254 481.7 1220.8 470 1180C459.8 1144.3 454.3 1136.9 450 1100C445.3 1060.3 433.7 1031 450 1010Z" fill="#DA4631"/>
<path d="M620 690C657.3 662 714.7 659 780 680C845.3 701 852.5 728.2 900 780C951.3 836 972 857 1000 920C1024 974.1 1017.9 990.8 1020 1050C1022.3 1115.3 1019.3 1141.7 1010 1200C1002.6 1246.4 1005.7 1279 980 1300C954.3 1321 918.7 1313.3 900 1290C881.3 1266.7 908.3 1239.6 900 1200C890.7 1155.7 885.7 1132.7 860 1100C837.6 1071.5 822.7 1064.7 790 1060C757.6 1055.4 748 1089.3 720 1080C692 1070.7 684.3 1052.1 670 1020C651.3 978 651.7 951.3 640 900C629.8 855.3 624.4 845.7 620 800C615.3 751 582.7 718 620 690Z" fill="#BE0A1E"/>
</g>
<ellipse cx="568" cy="1080" rx="431.0" ry="478.0" fill="none" stroke="#A9938B" stroke-width="5" transform="rotate(7 568 1080)"/>
<ellipse cx="568" cy="1080" rx="400" ry="447" fill="none" stroke="#F8CDBB" stroke-width="62" transform="rotate(7 568 1080)"/>
<ellipse cx="568" cy="1080" rx="369.0" ry="416.0" fill="none" stroke="#A9938B" stroke-width="4" transform="rotate(7 568 1080)"/>
<path d="M357.5 740.9L319.6 686.8M536 667.6L530.3 601.8M762.5 728.9L797.5 672.9M908.3 924.9L969.5 900.2M922.5 1187.2L986.2 1204.2M793.9 1406.2L834.6 1458.2M555.2 1493.7L552.9 1559.7M342.1 1406.2L301.4 1458.2M213.5 1187.2L149.8 1204.2M235.4 905L175.6 877.1" fill="none" stroke="#A9938B" stroke-width="6" transform="rotate(7 568 1080)"/>
<path d="M397.3 671.3A404 451 0 0 1 463.4 644.4M627.7 634A404 451 0 0 1 696.2 652.3M853.7 761.1A404 451 0 0 1 898.9 821.3M967.6 1013.3A404 451 0 0 1 971.9 1091.8M923 1295.2A404 451 0 0 1 884.2 1360.8M725.9 1495.1A404 451 0 0 1 658.9 1519.4M463.4 1515.6A404 451 0 0 1 397.3 1488.7M251.8 1360.8A404 451 0 0 1 213 1295.2M164 1080A404 451 0 0 1 170.1 1001.7M237.1 821.3A404 451 0 0 1 282.3 761.1" fill="none" stroke="#FFFFFF" stroke-width="14" stroke-linecap="round" opacity="0.85" transform="rotate(7 568 1080)"/>
<path d="M618 585L612 712M985 955L1040 925" fill="none" stroke="#C8102E" stroke-width="30" stroke-linecap="round" stroke-linejoin="round" />
</g>
<g transform="translate(1760,170) scale(0.25)">
<path d="M1270 2512C1270 2512 1260 2630.3 1270 2702C1272.4 2719.4 1282.8 2723.2 1300 2727C1353.3 2738.7 1371.3 2737 1430 2737C1493.2 2737 1512.7 2738.7 1570 2727C1587.9 2723.4 1599.3 2720.1 1602 2702C1612.7 2630.3 1602 2512 1602 2512L1270 2512Z" fill="#F04E30" stroke="#6e5a66" stroke-width="4"/>
<path d="M1400 2512C1400 2512 1396.7 2598.7 1420 2662C1430 2689 1442.6 2693.2 1470 2702C1508.6 2714.4 1519.5 2708.6 1560 2707C1578.5 2706.3 1596.1 2715.1 1600 2697C1614 2632 1602 2512 1602 2512L1400 2512Z" fill="#E6291B"/>
<path d="M360 1045C360 1045 262.7 1037.7 200 1042C185.5 1043 179.8 1045.8 172 1058C162.1 1073.4 161.1 1079.9 164 1098C166.9 1116.3 170 1121.9 184 1134C194.9 1143.4 200.6 1141.5 215 1142C270.3 1144 350 1140 350 1140L360 1045Z" fill="#F04E30" stroke="#6e5a66" stroke-width="4"/>
<path d="M320 1180C320 1180 229.3 1174 170 1180C155.1 1181.5 148.5 1184.5 142 1198C130.8 1221.4 129.8 1229.4 134 1255C137.4 1276.1 141.6 1282.3 158 1296C169.2 1305.4 175.4 1301.6 190 1302C237.3 1303.3 300 1300 300 1300L320 1180Z" fill="#F04E30" stroke="#6e5a66" stroke-width="4"/>
<path d="M200 1062L330 1062" fill="none" stroke="#FBC0B2" stroke-width="7" stroke-linecap="round"/>
<path d="M170 1200L290 1200" fill="none" stroke="#FBC0B2" stroke-width="7" stroke-linecap="round"/>
<path d="M190 1120C233.3 1108.3 290 1098.3 340 1105C355.6 1107.1 355.2 1135.9 340 1140C296.7 1151.7 260 1146.7 210 1140C197.4 1138.3 177.7 1123.3 190 1120Z" fill="#E6291B"/>
<path d="M160 1275C198.3 1260 253.3 1247.3 300 1255C319.1 1258.1 318 1290.9 300 1298C261.7 1313 231.7 1307.7 185 1300C169.3 1297.4 145.2 1280.8 160 1275Z" fill="#E6291B"/>
<path d="M1700 1000C1700 1000 1715.5 966.5 1740 955C1790.4 931.4 1810.7 926.7 1860 925C1876.9 924.4 1881.5 934.4 1888 950C1894.1 964.6 1891.8 970.7 1885 985C1874 1008.2 1868.1 1011.9 1850 1030C1825.1 1054.9 1819.7 1061.1 1790 1080C1769.6 1093 1740 1100 1740 1100L1700 1000Z" fill="#F04E30" stroke="#6e5a66" stroke-width="4"/>
<path d="M1790 1120C1790 1120 1805.5 1086.7 1830 1075C1867.2 1057.3 1881.3 1054.7 1920 1058C1936.8 1059.4 1941.5 1068.7 1946 1085C1951.5 1104.7 1946.9 1110.8 1940 1130C1928.2 1163.2 1919.8 1168 1905 1200C1892.7 1226.6 1903.9 1243.1 1880 1260C1857.9 1275.6 1820 1260 1820 1260L1790 1120Z" fill="#F04E30" stroke="#6e5a66" stroke-width="4"/>
<path d="M1760 965L1860 942" fill="none" stroke="#FBC0B2" stroke-width="7" stroke-linecap="round"/>
<path d="M1840 1090L1915 1075" fill="none" stroke="#FBC0B2" stroke-width="7" stroke-linecap="round"/>
<path d="M375 410C375 410 376.7 569.5 376 700C375.4 812.5 380.6 837.8 372 950C368.8 991.6 356.9 998.9 350 1040C338 1111.6 327.8 1127.5 330 1200C341.7 1583.3 367.4 1744.2 385 2190C393.5 2405.8 379.7 2500 388 2670C388.8 2686.7 393.8 2695.8 410 2700C464 2714 486.8 2712 550 2712C613.2 2712 636.7 2714 690 2700C705.7 2695.9 709.4 2686.2 710 2670C715.3 2536.7 704.6 2466.5 706 2300C709.1 1940 717.4 1860 720 1500C721.5 1293 721.7 1223.3 715 1040C713.5 999 704.3 990.8 700 950C693 882.7 691.8 867.6 690 800C685.5 624.5 686 410 686 410L375 410Z" fill="#A5C8E4" stroke="#6e5a66" stroke-width="4"/>
<path d="M450 2272C450 2272 513.9 2323.5 560 2372C599.7 2413.8 615.3 2419.9 640 2472C659.5 2513.1 660 2526.8 655 2572C650.7 2611.1 648.8 2625.3 620 2652C583.8 2685.5 496.7 2682 520 2697C543.3 2712 628 2708.7 690 2697C707 2693.8 705.3 2679.3 706 2662C711.3 2533.7 706 2312 706 2312L450 2272Z" fill="#80B3DA"/>
<path d="M640 440C640 440 658 527.7 655 600C651.2 690.9 652.5 713.2 625 800C608.8 851.2 596 860.2 560 900C529.8 933.3 518.4 936.5 480 960C437.1 986.2 380 1010 380 1010L700 1040C700 1040 692.5 908.1 690 800C686.2 638 686 440 686 440L640 440Z" fill="#80B3DA"/>
<path d="M398 470C398 470 402.4 596.5 402 700C401.5 808 396 940 396 940" fill="none" stroke="#DCEAF5" stroke-width="8" stroke-linecap="round"/>
<ellipse cx="530" cy="410" rx="155" ry="40" fill="#DCEAF5" stroke="#6e5a66" stroke-width="4"/>
<ellipse cx="530" cy="414" rx="95" ry="22" fill="#6FA7D2"/>
<ellipse cx="530" cy="420" rx="70" ry="13" fill="#A5C8E4"/>
<path d="M376 532C376 532 344.9 526.7 320 520C291.7 512.3 287.3 501.8 258 500C240.7 498.9 232.9 500.4 222 514C208.6 530.7 208.5 538.7 210 560C211.4 579.7 211.1 589.8 228 600C265.3 622.7 322 628 322 628C322 628 268 628 228 640C212.7 644.6 209.2 649.8 202 664C193.5 680.7 190.6 686.8 195 705C199.4 723.1 202.4 731.8 220 738C254 750 264 741.5 300 742C334.2 742.4 376 740 376 740L376 532Z" fill="#A5C8E4" stroke="#6e5a66" stroke-width="4"/>
<path d="M240 722C240 708.7 275.3 714.8 300 700C330.1 681.9 334.7 666.7 360 650C366 646 376 650 376 650L376 738C376 738 334 744 300 740C272 736.7 240 735.3 240 722Z" fill="#80B3DA"/>
<path d="M235 595C226.7 588.3 270.8 603.1 300 600C315 598.4 321.7 578.3 330 585C338.3 591.7 340.8 618.3 325 620C293.3 623.3 243.3 601.7 235 595Z" fill="#80B3DA"/>
<path d="M940 1435C940 1435 890.3 1411.5 860 1380C830.6 1349.4 825.8 1339.4 810 1300C798.2 1270.5 810.1 1260.2 800 1230C787.3 1191.8 776.3 1186.8 760 1150C740.3 1105.7 732.9 1096.7 720 1050C707.9 1006.1 709 995.3 705 950C699.1 882.7 699.1 867.6 698 800C696.9 732.5 695.2 717.3 700 650C702.9 609 705 599.8 715 560C725.4 518.6 726.8 508.6 745 470C765.3 427.1 770.5 417.2 800 380C831.7 340.1 848.2 339.8 880 300C897.3 278.3 899.6 271.5 908 245C915.6 221.2 907.8 213.9 915 190C920.2 172.6 920.5 165.9 935 155C949.8 143.9 956.5 143.2 975 145C990.4 146.5 996.3 149.1 1005 162C1014.7 176.4 1004.5 184.3 1012 200C1018.6 213.8 1020 222 1035 225C1052.3 228.5 1060 225 1072 212C1089.4 193.2 1085.4 183.7 1095 160C1102.5 141.4 1097.2 133.4 1110 118C1121.3 104.4 1127.3 100.7 1145 100C1164.2 99.2 1172 100.8 1185 115C1199.4 130.7 1198.7 138.7 1200 160C1201.1 177.7 1189.3 180.7 1190 198C1190.3 206.3 1194.6 215.8 1202 212C1213.7 206 1216.1 195.3 1225 180C1235.5 161.9 1230.9 153.5 1245 138C1254.9 127.1 1260.4 123.4 1275 125C1292.3 126.9 1297.6 131.1 1308 145C1319.3 160 1318.6 166.3 1320 185C1321.8 209.8 1302.7 218.4 1315 240C1333.3 272 1353.4 264.4 1380 290C1414.5 323.2 1422 331.2 1450 370C1480.7 412.5 1487.5 422.6 1510 470C1528.3 508.6 1530.3 518.4 1540 560C1549.3 599.8 1547.5 609.4 1552 650C1557.4 699.4 1559.2 710.4 1562 760C1565.5 822.9 1566 900 1566 900C1566 900 1538.7 949.4 1500 960C1378 993.3 1311.9 922.4 1200 1000C1068.7 1091.1 1074.7 1153.9 1010 1300C984.5 1357.6 1005 1440 1005 1440L940 1435Z" fill="#F04E30" stroke="#6e5a66" stroke-width="4"/>
<path d="M1090 560C1090 560 1107.3 529.8 1130 515C1158.2 496.5 1166.5 492.2 1200 488C1240.3 483 1249.9 488.6 1290 495C1340.1 503 1349.3 521.5 1400 520C1430.2 519.1 1437.4 510.1 1460 490C1479.6 472.6 1492.2 466.1 1490 440C1487 404.6 1443.3 362 1450 372C1456.7 382 1487.7 423.4 1510 470C1528.4 508.5 1530.3 518.4 1540 560C1549.3 599.8 1547.5 609.4 1552 650C1557.4 699.4 1559.2 710.4 1562 760C1565.5 822.9 1566 900 1566 900L1440 900L1440 600L1090 560Z" fill="#E6291B"/>
<path d="M935 300C935 300 872.3 350.3 830 400C795.2 440.9 786.3 450.7 765 500C742.9 551.1 742.8 564.9 735 620C726.1 682.4 728 760 728 760" fill="none" stroke="#FBC0B2" stroke-width="7" stroke-linecap="round"/>
<path d="M985 150C989.4 139.7 1000.3 154.8 1005 165C1012.5 181.5 1015 193.3 1010 205C1006.3 213.5 993.8 208.4 990 200C981.7 181.7 980 161.7 985 150Z" fill="#E6291B"/>
<path d="M1165 108C1167.7 98 1181.5 110.3 1188 120C1198.5 135.6 1200 141.2 1200 160C1200 178.8 1197.3 190 1188 200C1182.2 206.2 1173.3 198.4 1172 190C1169.3 173.3 1181.6 168.3 1180 150C1178.3 130 1162.3 118 1165 108Z" fill="#E6291B"/>
<path d="M1290 132C1294 121.3 1304.3 138 1310 148C1318.5 163 1319.3 167.8 1320 185C1321.1 209.9 1324 226.7 1314 240C1306.4 250.2 1293.3 237.3 1290 225C1284.7 205.1 1298 200.6 1298 180C1298 158.1 1286 142.7 1290 132Z" fill="#E6291B"/>
<path d="M965 1440C965 1440 969.6 1362.9 975 1300C980.8 1232.4 977.8 1216.7 990 1150C1002.6 1081.3 1009.9 1066.9 1030 1000C1043.7 954.3 1050.1 945.3 1065 900C1070.8 882.3 1077.3 878.6 1076 860C1074.9 844.7 1065.5 844.3 1060 830C1051.5 808.1 1048.6 803.2 1045 780C1039.5 744.3 1038.8 736.1 1040 700C1041.1 668.2 1038.7 659.7 1050 630C1059.5 605 1064.4 599 1085 582C1106.1 564.6 1112.7 558.2 1140 556C1211.7 550.3 1227.9 562.6 1300 565C1390 568 1410 568.6 1500 568C1630.5 567.2 1686 558 1790 562C1802.8 562.5 1808 567.9 1812 580C1820.6 605.7 1819.2 613.1 1816 640C1813.7 659.2 1818.4 673.8 1800 680C1748.7 697.3 1662 692 1662 692C1662 692 1650 694.7 1650 700C1650 705.3 1662 708 1662 708C1662 708 1742 703.3 1790 714C1803.4 717 1804.4 726.4 1806 740C1809.1 767 1808 774.1 1800 800C1795.8 813.4 1793.9 821.9 1780 824C1713.3 834 1680.9 824.8 1600 830C1554.8 832.9 1543.8 830.5 1500 842C1470.8 849.7 1463.8 853.4 1440 872C1417.8 889.3 1414.9 896.2 1400 920C1378.7 954.1 1376.3 963.2 1360 1000C1340.3 1044.3 1337 1054.6 1320 1100C1303.3 1144.6 1285 1200 1285 1200L1000 1440L965 1440Z" fill="#A5C8E4" stroke="#6e5a66" stroke-width="4"/>
<path d="M1042 700C1043.7 700 1039.4 745.4 1050 780C1059.2 809.9 1071 812 1085 840C1093.6 857.2 1103 861 1100 880C1091.7 933.3 1079.5 946.5 1060 1000C1043.4 1045.5 1038 1055 1020 1100C1011 1122.5 1000 1150 1000 1150L990 1150C990 1150 1009.9 1066.9 1030 1000C1043.7 954.3 1050.1 945.3 1065 900C1070.8 882.3 1077.3 878.6 1076 860C1074.9 844.7 1065.5 844.3 1060 830C1051.5 808.1 1048.2 803.3 1045 780C1040.1 744.3 1040.3 700 1042 700Z" fill="#80B3DA"/>
<path d="M1000 1105C1000 1105 1053.8 1083.5 1100 1075C1144.4 1066.8 1155.2 1073.6 1200 1068C1245.4 1062.3 1300 1050 1300 1050L1290 1120C1290 1120 1241.1 1105.4 1200 1100C1155.3 1094.1 1144.2 1086.2 1100 1095C1051.6 1104.7 1000 1140 1000 1140L1000 1105Z" fill="#80B3DA"/>
<path d="M990 1150C980 1200 980.8 1232.4 975 1300C969.6 1362.9 956.7 1393.3 965 1440C967.8 1455.5 997.8 1455.6 1000 1440C1013.3 1343.3 1008.3 1246.7 1005 1150C1004.8 1143.3 991.3 1143.4 990 1150Z" fill="#80B3DA"/>
<path d="M1150 572C1150 572 1232.4 577.7 1300 580C1390 583.1 1410 584.4 1500 584C1626 583.5 1780 578 1780 578" fill="none" stroke="#DCEAF5" stroke-width="9" stroke-linecap="round"/>
<path d="M1085 880C1085 880 1065.1 934.8 1050 980C1033.6 1029.3 1015 1090 1015 1090" fill="none" stroke="#DCEAF5" stroke-width="7" stroke-linecap="round"/>
<path d="M1665 700L1790 698" fill="none" stroke="#DCEAF5" stroke-width="6" stroke-linecap="round"/>
<path d="M350 1040C350 1040 385.9 1012.5 420 1000C454.4 987.4 463.5 988 500 985C544.8 981.3 555.3 980.2 600 985C627.9 988 635.1 989 660 1002C687.9 1016.5 697.4 1019 715 1045C743.8 1087.6 738.5 1103.3 760 1150C776.8 1186.6 788.2 1191.5 800 1230C812 1269.1 797.8 1281.7 812 1320C843.3 1404.5 900 1500 900 1500L800 1900C800 1900 744 1980 700 2000C679 2009.5 671.3 1946.7 668 1960C664.7 1973.3 699.2 2003.8 690 2040C683.5 2065.4 661.7 2055.2 640 2070C622 2082.3 608.3 2079.1 602 2100C595.3 2122.4 612.2 2126.9 616 2150C620.4 2176.7 628 2184.1 620 2210C611.7 2237 603.4 2241.5 582 2260C561.9 2277.4 555.7 2281.3 530 2288C512.5 2292.6 507.3 2289.4 490 2284C466.2 2276.6 459.1 2276.1 440 2260C413.1 2237.4 408.6 2229.8 390 2200C363.3 2157.3 361.6 2145.4 340 2100C316.6 2050.9 308.1 2041.3 290 1990C268.3 1928.4 263.5 1914.3 252 1850C240 1783.3 241.8 1767.7 238 1700C234.2 1632.6 232.3 1617.5 235 1550C237.7 1482.2 239.9 1467.1 250 1400C260.2 1331.9 265.6 1317.3 280 1250C292.6 1191.3 291 1177 310 1120C322.7 1081.8 350 1040 350 1040Z" fill="#C49DC0" stroke="#6e5a66" stroke-width="4"/>
<path d="M600 1830C641.2 1881.6 642 1899.3 668 1960C682.7 1994.3 699.2 2003.8 690 2040C683.5 2065.4 661.7 2055.2 640 2070C622 2082.3 608.3 2079.1 602 2100C595.3 2122.4 612.2 2126.9 616 2150C620.4 2176.7 628 2184.1 620 2210C611.7 2237 603.4 2241.5 582 2260C561.9 2277.4 555.7 2281.3 530 2288C512.5 2292.6 493.1 2301.8 490 2284C486.7 2264.7 509.4 2255.7 520 2230C534.3 2195.1 540 2187.4 545 2150C549.2 2118.7 535.8 2111.3 540 2080C545 2042.6 558.8 2037.2 565 2000C572.4 1955.6 575.6 1944.7 570 1900C564.2 1853.4 530 1823.3 540 1800C550 1776.7 581.1 1806.4 600 1830Z" fill="#B084AE"/>
<path d="M390 1290C390 1285 412.5 1254 440 1235C472.3 1212.6 482.1 1210.4 520 1200C572.8 1185.5 590.1 1202.5 640 1180C683.6 1160.4 694.9 1150.7 720 1110C734.2 1087 706.7 1036.7 720 1050C733.3 1063.3 740.3 1105.7 760 1150C776.3 1186.8 788.2 1191.5 800 1230C812 1269.1 825.3 1306.7 812 1320C798.7 1333.3 783.2 1292.7 760 1270C741.8 1252.2 742 1242.8 720 1230C686.8 1210.6 678.3 1202.9 640 1200C585.7 1195.9 572.8 1201.8 520 1215C481.9 1224.5 474 1230.4 440 1250C415 1264.4 390 1295 390 1290Z" fill="#B084AE"/>
<path d="M430 1030C430 1030 374.7 1071.8 350 1120C320.2 1178.1 325.7 1196.2 312 1260C298.6 1322.4 290 1400 290 1400" fill="none" stroke="#E3CFE2" stroke-width="9" stroke-linecap="round"/>
<path d="M1380 900C1380 900 1411.6 881.6 1440 880C1494.1 877 1507.4 876.9 1560 890C1616.8 904.2 1629.8 909.9 1680 940C1721 964.6 1728.5 974 1760 1010C1792.1 1046.6 1799.2 1056 1820 1100C1840.1 1142.5 1838 1154.6 1850 1200C1860.6 1240.1 1863.1 1249.1 1870 1290C1873 1307.8 1877.8 1312.9 1872 1330C1863.6 1354.6 1840 1378 1840 1378L1700 1400L1300 1100L1380 900Z" fill="#C49DC0" stroke="#6e5a66" stroke-width="4"/>
<path d="M1640 925C1656.7 911.7 1676.1 933.1 1700 950C1731.2 972.1 1736.1 980.2 1760 1010C1790.4 1048 1799.2 1056 1820 1100C1840.1 1142.5 1838 1154.6 1850 1200C1860.6 1240.1 1863.1 1249.1 1870 1290C1873 1307.8 1877.8 1312.9 1872 1330C1863.6 1354.6 1851 1401.5 1840 1378C1824.3 1344.7 1838.2 1295.6 1825 1230C1815.6 1183.3 1812.3 1172.2 1790 1130C1769 1090.2 1761.8 1081.8 1730 1050C1698.2 1018.2 1676.3 1026.5 1650 990C1632.7 966 1623.3 938.3 1640 925Z" fill="#B084AE"/>
<clipPath id="hb1"><path d="M370 1370C373.5 1337.4 373.5 1328.3 390 1300C406 1272.5 413.4 1267.4 440 1250C472.9 1228.5 481.9 1224.5 520 1215C572.8 1201.8 585.7 1195.9 640 1200C678.3 1202.9 686.8 1210.6 720 1230C742 1242.8 743 1251.1 760 1270C783.5 1296.1 786.4 1304 810 1330C831.4 1353.5 835.2 1360 860 1380C894 1407.5 940 1435 940 1435L975 1430C975 1430 979.6 1358.4 985 1300C990.8 1236.9 978.3 1218.3 1000 1160C1009.6 1134.3 1025.6 1137.7 1050 1125C1071.1 1114 1076.6 1112.3 1100 1108C1126.6 1103.2 1133.4 1100.1 1160 1105C1188.8 1110.3 1196.7 1112.4 1220 1130C1249.7 1152.5 1275 1192 1275 1192C1275 1192 1302.7 1142.7 1320 1100C1346.5 1034.6 1372 952 1372 952C1372 952 1414.8 944.4 1450 945C1499.7 945.8 1511.5 944.1 1560 955C1602.4 964.5 1612.1 968.8 1650 990C1689.3 1012 1698.2 1018.2 1730 1050C1761.8 1081.8 1769 1090.2 1790 1130C1812.3 1172.2 1813.9 1183.6 1825 1230C1835.6 1274.1 1832.7 1284.9 1838 1330C1840.4 1350.2 1842 1375 1842 1375C1842 1375 1858.7 1330 1878 1325C1896 1320.3 1891.3 1343.6 1900 1360C1927.3 1411.7 1936 1424.6 1960 1480C1994.6 1559.7 2000.5 1578.3 2030 1660C2059 1740.3 2068.2 1757.5 2090 1840C2108.7 1910.8 2108.4 1927.7 2120 2000C2128.6 2053.7 2131.2 2065.7 2135 2120C2137.9 2161.3 2139.3 2170.8 2135 2212C2128 2280.1 2129.9 2296.5 2110 2362C2091.3 2423.7 2086.8 2439.1 2050 2492C2013.7 2544.2 2003.6 2557.7 1950 2592C1888.8 2631.2 1870.6 2634.8 1800 2652C1711.9 2673.4 1690.7 2677 1600 2677C1509.3 2677 1488.9 2669.8 1400 2652C1308.5 2633.7 1289.4 2623.8 1200 2597C1109.4 2569.8 1089.3 2563.3 1000 2532C909.3 2500.2 889.2 2492.7 800 2457C731.7 2429.7 712.8 2430.4 650 2392C590 2355.3 530 2292 530 2292C530 2292 561.7 2278.5 582 2260C602.9 2241 611.7 2237 620 2210C628 2184.1 620.4 2176.7 616 2150C612.2 2126.9 596 2122.6 602 2100C608.4 2076 626.2 2080.7 640 2060C653.6 2039.5 655.4 2033.7 662 2010C668.1 1988.2 668.5 1982.7 668 1960C667.5 1937.2 667.4 1931.5 660 1910C650.1 1881.5 648.1 1874.1 630 1850C607.1 1819.5 596 1818 570 1790C537.5 1754.9 529.1 1748 500 1710C470.4 1671.3 464.7 1662 440 1620C419.6 1585.3 413.7 1577.9 400 1540C384.2 1496.4 383.1 1485.7 375 1440C369.5 1408.9 366.6 1401.4 370 1370Z"/></clipPath>
<path d="M370 1370C373.5 1337.4 373.5 1328.3 390 1300C406 1272.5 413.4 1267.4 440 1250C472.9 1228.5 481.9 1224.5 520 1215C572.8 1201.8 585.7 1195.9 640 1200C678.3 1202.9 686.8 1210.6 720 1230C742 1242.8 743 1251.1 760 1270C783.5 1296.1 786.4 1304 810 1330C831.4 1353.5 835.2 1360 860 1380C894 1407.5 940 1435 940 1435L975 1430C975 1430 979.6 1358.4 985 1300C990.8 1236.9 978.3 1218.3 1000 1160C1009.6 1134.3 1025.6 1137.7 1050 1125C1071.1 1114 1076.6 1112.3 1100 1108C1126.6 1103.2 1133.4 1100.1 1160 1105C1188.8 1110.3 1196.7 1112.4 1220 1130C1249.7 1152.5 1275 1192 1275 1192C1275 1192 1302.7 1142.7 1320 1100C1346.5 1034.6 1372 952 1372 952C1372 952 1414.8 944.4 1450 945C1499.7 945.8 1511.5 944.1 1560 955C1602.4 964.5 1612.1 968.8 1650 990C1689.3 1012 1698.2 1018.2 1730 1050C1761.8 1081.8 1769 1090.2 1790 1130C1812.3 1172.2 1813.9 1183.6 1825 1230C1835.6 1274.1 1832.7 1284.9 1838 1330C1840.4 1350.2 1842 1375 1842 1375C1842 1375 1858.7 1330 1878 1325C1896 1320.3 1891.3 1343.6 1900 1360C1927.3 1411.7 1936 1424.6 1960 1480C1994.6 1559.7 2000.5 1578.3 2030 1660C2059 1740.3 2068.2 1757.5 2090 1840C2108.7 1910.8 2108.4 1927.7 2120 2000C2128.6 2053.7 2131.2 2065.7 2135 2120C2137.9 2161.3 2139.3 2170.8 2135 2212C2128 2280.1 2129.9 2296.5 2110 2362C2091.3 2423.7 2086.8 2439.1 2050 2492C2013.7 2544.2 2003.6 2557.7 1950 2592C1888.8 2631.2 1870.6 2634.8 1800 2652C1711.9 2673.4 1690.7 2677 1600 2677C1509.3 2677 1488.9 2669.8 1400 2652C1308.5 2633.7 1289.4 2623.8 1200 2597C1109.4 2569.8 1089.3 2563.3 1000 2532C909.3 2500.2 889.2 2492.7 800 2457C731.7 2429.7 712.8 2430.4 650 2392C590 2355.3 530 2292 530 2292C530 2292 561.7 2278.5 582 2260C602.9 2241 611.7 2237 620 2210C628 2184.1 620.4 2176.7 616 2150C612.2 2126.9 596 2122.6 602 2100C608.4 2076 626.2 2080.7 640 2060C653.6 2039.5 655.4 2033.7 662 2010C668.1 1988.2 668.5 1982.7 668 1960C667.5 1937.2 667.4 1931.5 660 1910C650.1 1881.5 648.1 1874.1 630 1850C607.1 1819.5 596 1818 570 1790C537.5 1754.9 529.1 1748 500 1710C470.4 1671.3 464.7 1662 440 1620C419.6 1585.3 413.7 1577.9 400 1540C384.2 1496.4 383.1 1485.7 375 1440C369.5 1408.9 366.6 1401.4 370 1370Z" fill="#FDE8EA"/>
<g clip-path="url(#hb1)"><path d="M370 1370C373.5 1337.4 373.5 1328.3 390 1300C406 1272.5 413.4 1267.4 440 1250C472.9 1228.5 481.9 1224.5 520 1215C572.8 1201.8 585.7 1195.9 640 1200C678.3 1202.9 686.8 1210.6 720 1230C742 1242.8 743 1251.1 760 1270C783.5 1296.1 786.4 1304 810 1330C831.4 1353.5 835.2 1360 860 1380C894 1407.5 940 1435 940 1435L975 1430C975 1430 979.6 1358.4 985 1300C990.8 1236.9 978.3 1218.3 1000 1160C1009.6 1134.3 1025.6 1137.7 1050 1125C1071.1 1114 1076.6 1112.3 1100 1108C1126.6 1103.2 1133.4 1100.1 1160 1105C1188.8 1110.3 1196.7 1112.4 1220 1130C1249.7 1152.5 1275 1192 1275 1192C1275 1192 1302.7 1142.7 1320 1100C1346.5 1034.6 1372 952 1372 952C1372 952 1414.8 944.4 1450 945C1499.7 945.8 1511.5 944.1 1560 955C1602.4 964.5 1612.1 968.8 1650 990C1689.3 1012 1698.2 1018.2 1730 1050C1761.8 1081.8 1769 1090.2 1790 1130C1812.3 1172.2 1813.9 1183.6 1825 1230C1835.6 1274.1 1832.7 1284.9 1838 1330C1840.4 1350.2 1842 1375 1842 1375C1842 1375 1858.7 1330 1878 1325C1896 1320.3 1891.3 1343.6 1900 1360C1927.3 1411.7 1936 1424.6 1960 1480C1994.6 1559.7 2000.5 1578.3 2030 1660C2059 1740.3 2068.2 1757.5 2090 1840C2108.7 1910.8 2108.4 1927.7 2120 2000C2128.6 2053.7 2131.2 2065.7 2135 2120C2137.9 2161.3 2139.3 2170.8 2135 2212C2128 2280.1 2129.9 2296.5 2110 2362C2091.3 2423.7 2086.8 2439.1 2050 2492C2013.7 2544.2 2003.6 2557.7 1950 2592C1888.8 2631.2 1870.6 2634.8 1800 2652C1711.9 2673.4 1690.7 2677 1600 2677C1509.3 2677 1488.9 2669.8 1400 2652C1308.5 2633.7 1289.4 2623.8 1200 2597C1109.4 2569.8 1089.3 2563.3 1000 2532C909.3 2500.2 889.2 2492.7 800 2457C731.7 2429.7 712.8 2430.4 650 2392C590 2355.3 530 2292 530 2292C530 2292 561.7 2278.5 582 2260C602.9 2241 611.7 2237 620 2210C628 2184.1 620.4 2176.7 616 2150C612.2 2126.9 596 2122.6 602 2100C608.4 2076 626.2 2080.7 640 2060C653.6 2039.5 655.4 2033.7 662 2010C668.1 1988.2 668.5 1982.7 668 1960C667.5 1937.2 667.4 1931.5 660 1910C650.1 1881.5 648.1 1874.1 630 1850C607.1 1819.5 596 1818 570 1790C537.5 1754.9 529.1 1748 500 1710C470.4 1671.3 464.7 1662 440 1620C419.6 1585.3 413.7 1577.9 400 1540C384.2 1496.4 383.1 1485.7 375 1440C369.5 1408.9 366.6 1401.4 370 1370Z" fill="none" stroke="#F7C3CC" stroke-width="90" stroke-linejoin="round"/>
<path d="M600 2032C622.7 1993.1 662.6 2007 700 2032C754 2068 780 2112 780 2152C780 2188 730.7 2133.1 700 2152C663.8 2174.2 682.2 2204.4 650 2232C616.3 2260.8 570.7 2315 560 2272C543.3 2205.3 553.3 2112 600 2032Z" fill="#F4B4BF"/>
</g>
<path d="M370 1370C373.5 1337.4 373.5 1328.3 390 1300C406 1272.5 413.4 1267.4 440 1250C472.9 1228.5 481.9 1224.5 520 1215C572.8 1201.8 585.7 1195.9 640 1200C678.3 1202.9 686.8 1210.6 720 1230C742 1242.8 743 1251.1 760 1270C783.5 1296.1 786.4 1304 810 1330C831.4 1353.5 835.2 1360 860 1380C894 1407.5 940 1435 940 1435L975 1430C975 1430 979.6 1358.4 985 1300C990.8 1236.9 978.3 1218.3 1000 1160C1009.6 1134.3 1025.6 1137.7 1050 1125C1071.1 1114 1076.6 1112.3 1100 1108C1126.6 1103.2 1133.4 1100.1 1160 1105C1188.8 1110.3 1196.7 1112.4 1220 1130C1249.7 1152.5 1275 1192 1275 1192C1275 1192 1302.7 1142.7 1320 1100C1346.5 1034.6 1372 952 1372 952C1372 952 1414.8 944.4 1450 945C1499.7 945.8 1511.5 944.1 1560 955C1602.4 964.5 1612.1 968.8 1650 990C1689.3 1012 1698.2 1018.2 1730 1050C1761.8 1081.8 1769 1090.2 1790 1130C1812.3 1172.2 1813.9 1183.6 1825 1230C1835.6 1274.1 1832.7 1284.9 1838 1330C1840.4 1350.2 1842 1375 1842 1375C1842 1375 1858.7 1330 1878 1325C1896 1320.3 1891.3 1343.6 1900 1360C1927.3 1411.7 1936 1424.6 1960 1480C1994.6 1559.7 2000.5 1578.3 2030 1660C2059 1740.3 2068.2 1757.5 2090 1840C2108.7 1910.8 2108.4 1927.7 2120 2000C2128.6 2053.7 2131.2 2065.7 2135 2120C2137.9 2161.3 2139.3 2170.8 2135 2212C2128 2280.1 2129.9 2296.5 2110 2362C2091.3 2423.7 2086.8 2439.1 2050 2492C2013.7 2544.2 2003.6 2557.7 1950 2592C1888.8 2631.2 1870.6 2634.8 1800 2652C1711.9 2673.4 1690.7 2677 1600 2677C1509.3 2677 1488.9 2669.8 1400 2652C1308.5 2633.7 1289.4 2623.8 1200 2597C1109.4 2569.8 1089.3 2563.3 1000 2532C909.3 2500.2 889.2 2492.7 800 2457C731.7 2429.7 712.8 2430.4 650 2392C590 2355.3 530 2292 530 2292C530 2292 561.7 2278.5 582 2260C602.9 2241 611.7 2237 620 2210C628 2184.1 620.4 2176.7 616 2150C612.2 2126.9 596 2122.6 602 2100C608.4 2076 626.2 2080.7 640 2060C653.6 2039.5 655.4 2033.7 662 2010C668.1 1988.2 668.5 1982.7 668 1960C667.5 1937.2 667.4 1931.5 660 1910C650.1 1881.5 648.1 1874.1 630 1850C607.1 1819.5 596 1818 570 1790C537.5 1754.9 529.1 1748 500 1710C470.4 1671.3 464.7 1662 440 1620C419.6 1585.3 413.7 1577.9 400 1540C384.2 1496.4 383.1 1485.7 375 1440C369.5 1408.9 366.6 1401.4 370 1370Z" fill="none" stroke="#6e5a66" stroke-width="4"/>
<path d="M370 1370C373.5 1337.4 373.5 1328.3 390 1300C406 1272.5 413.4 1267.4 440 1250C472.9 1228.5 481.9 1224.5 520 1215C572.8 1201.8 585.7 1195.9 640 1200C678.3 1202.9 686.8 1210.6 720 1230C742 1242.8 743 1251.1 760 1270C783.5 1296.1 786.4 1304 810 1330C831.4 1353.5 835.2 1360 860 1380C894 1407.5 940 1435 940 1435L975 1430C975 1430 979.6 1358.4 985 1300C990.8 1236.9 978.3 1218.3 1000 1160C1009.6 1134.3 1025.6 1137.7 1050 1125C1071.1 1114 1076.6 1112.3 1100 1108C1126.6 1103.2 1133.4 1100.1 1160 1105C1188.8 1110.3 1196.7 1112.4 1220 1130C1249.7 1152.5 1275 1192 1275 1192C1275 1192 1302.7 1142.7 1320 1100C1346.5 1034.6 1372 952 1372 952C1372 952 1414.8 944.4 1450 945C1499.7 945.8 1511.5 944.1 1560 955C1602.4 964.5 1612.1 968.8 1650 990C1689.3 1012 1698.2 1018.2 1730 1050C1761.8 1081.8 1769 1090.2 1790 1130C1812.3 1172.2 1813.9 1183.6 1825 1230C1835.6 1274.1 1832.8 1284.9 1838 1330C1840.5 1351.5 1842 1378 1842 1378C1842 1378 1856.2 1434.5 1870 1480C1886.8 1535.3 1889.9 1547.8 1910 1602C1930.4 1656.8 1940.2 1667 1960 1722C1980.7 1779.6 1986.2 1792.4 2000 1852C2013.3 1909.7 2017.7 1922.9 2020 1982C2022.3 2040.6 2020.7 2054.3 2010 2112C1998.1 2176.4 1996.4 2192 1970 2252C1946.4 2305.7 1939.1 2318.3 1900 2362C1861.6 2404.9 1849.4 2412.4 1800 2442C1758.4 2466.9 1747.3 2471.6 1700 2482C1633.7 2496.6 1617.8 2494.7 1550 2497C1482.5 2499.2 1467.4 2496.5 1400 2492C1332.3 2487.5 1316.9 2488.2 1250 2477C1181.6 2465.6 1165.9 2463.6 1100 2442C1034.9 2420.7 1019.8 2415.5 960 2382C906.6 2352.1 894.4 2344.2 850 2302C803.6 2257.9 794.9 2245.6 760 2192C727 2141.4 722.3 2128.1 700 2072C680.7 2023.3 680.6 2010.9 668 1960C662.5 1937.9 667.4 1931.5 660 1910C650.1 1881.5 648.1 1874.1 630 1850C607.1 1819.5 596 1818 570 1790C537.5 1754.9 529.1 1748 500 1710C470.4 1671.3 464.7 1662 440 1620C419.6 1585.3 413.7 1577.9 400 1540C384.2 1496.4 383.1 1485.7 375 1440C369.5 1408.9 366.6 1401.4 370 1370Z" fill="#F4B4BF" stroke="#6e5a66" stroke-width="4"/>
<path d="M1420 985C1420 985 1498 982.9 1560 995C1602.6 1003.3 1612.1 1008.7 1650 1030C1684.9 1049.6 1692.2 1056.1 1720 1085C1749 1115.2 1756.7 1122.4 1775 1160C1795.5 1202.3 1797.2 1213.7 1805 1260C1814 1313.3 1802.8 1326.7 1812 1380C1823.1 1444.3 1830.4 1457.7 1850 1520C1870.1 1583.8 1878.8 1596.5 1900 1660C1923.9 1731.6 1931.7 1746.8 1950 1820C1967.8 1891.1 1973.7 1907 1980 1980C1985 2038.3 1984.2 2052.2 1975 2110C1966.1 2165.5 1940 2230 1940 2230" fill="none" stroke="#FDEFF1" stroke-width="8"/>
<path d="M640 1870C640 1870 665.7 1977.2 700 2060C720.1 2108.5 728.5 2118 760 2160C796.3 2208.4 850 2260 850 2260" fill="none" stroke="#FDEFF1" stroke-width="7"/>
<path d="M410 1370C410 1370 420.9 1338 440 1320C461 1300.2 470.7 1295.8 500 1285C535 1272.2 550.3 1268 590 1265C626 1262.2 638.5 1265.7 670 1272C695.8 1277.2 706.3 1276.1 725 1292C743.6 1307.8 736.1 1320 750 1340C767.5 1365.2 776.9 1373.5 800 1400C821.9 1425.2 829 1434 850 1455C866.9 1471.9 877.2 1474.8 890 1490C899.7 1501.5 895.7 1510.7 905 1520C913.6 1528.6 920.2 1537.1 930 1530C942.8 1520.7 945.9 1502.1 960 1480C976.3 1454.3 983 1447.6 1000 1420C1018.7 1389.7 1028.3 1378 1040 1350C1048.8 1328.8 1049.6 1322.9 1050 1300C1050.5 1269.7 1044.3 1247.5 1042 1220C1040.6 1202.9 1040 1182 1040 1182C1040 1182 1060.5 1166.9 1080 1163C1105.7 1157.9 1120.8 1157.2 1150 1160C1175.5 1162.5 1186.8 1163.3 1205 1175C1220.9 1185.2 1228 1210 1228 1210C1228 1210 1229.9 1275.7 1228 1320C1226.5 1356.1 1221.4 1363.8 1220 1400C1218.7 1436 1219.8 1444.1 1222 1480C1224.8 1526.7 1223.8 1546.4 1232 1600C1241.3 1660.7 1246.3 1677.5 1262 1740C1276.9 1799.1 1280.5 1812.3 1300 1870C1320.1 1929.4 1326.7 1941.8 1350 2000C1371.7 2054.3 1377.8 2071 1400 2120C1418.7 2161.3 1427.5 2176.2 1445 2210C1458 2235 1464 2239.3 1475 2265C1485.2 2288.8 1488.5 2294.3 1492 2320C1495.3 2344.5 1490 2375 1490 2375C1490 2375 1462.2 2360.2 1440 2352C1420.3 2344.8 1415 2346.3 1395 2340C1372.8 2333 1361.3 2337.9 1345 2322C1328.7 2306.1 1344.4 2286 1325 2272C1305.6 2258 1288.4 2259.7 1262 2262C1237.9 2264.1 1230.7 2286.7 1212 2282C1193.3 2277.3 1192.9 2261.7 1182 2242C1170.3 2221 1174.1 2199 1162 2192C1149.9 2185 1146.5 2207.9 1130 2212C1113.2 2216.2 1104.3 2221 1090 2210C1071.8 2196 1067.9 2177.2 1052 2152C1038 2129.8 1038.3 2118.3 1022 2102C1007.8 2087.8 1001 2088.7 982 2082C961 2074.5 946.5 2084.5 932 2070C917.5 2055.5 927 2040.5 920 2020C913.9 2002.1 916 1988.5 902 1982C888 1975.5 878.7 1996.7 860 1992C841.3 1987.3 834.8 1979.6 822 1962C808.5 1943.3 811 1934.5 802 1912C793 1889.5 795.4 1882.2 782 1862C768 1841 756 1840.7 742 1822C729.9 1805.9 732.1 1799.4 722 1782C709.9 1761 695.1 1748.8 690 1732C686.8 1721.6 709 1716.1 700 1710C688.3 1702.1 661 1697.5 640 1698C625.1 1698.3 624.1 1707.2 610 1712C593.7 1717.6 588.1 1726 570 1722C549 1717.3 540.3 1708.6 520 1692C497.1 1673.3 487.9 1667.7 472 1642C457 1617.8 461.3 1605.3 452 1582C444.5 1563.3 437.8 1561.3 432 1542C425 1518.7 428.3 1505.8 422 1482C416.8 1462.3 407.2 1460.3 405 1440C402.2 1413.9 410 1370 410 1370Z" fill="#A70A3B" stroke="#6e5a66" stroke-width="4"/>
<path d="M570 1440C579 1415.3 594.1 1414 620 1410C655.9 1404.5 665.8 1407.8 700 1420C730.6 1430.9 732 1443.6 760 1460C786.1 1475.2 793.5 1475.5 820 1490C843 1502.6 850.8 1502.1 870 1520C885.5 1534.5 889.9 1539.4 895 1560C903.7 1595 903.8 1604.1 900 1640C897 1668.3 905.5 1687.3 880 1700C847.6 1716.2 835.8 1696 800 1690C754.7 1682.5 745.1 1678.5 700 1670C673.1 1665 663.5 1674.1 640 1660C615.3 1645.2 611.4 1636.5 600 1610C583.7 1571.9 587.2 1560.9 580 1520C573.7 1484.3 557.6 1474.1 570 1440Z" fill="#BC1748"/>
<path d="M960 1560C966.4 1520.3 979.6 1514.7 1000 1480C1024.7 1438 1029.9 1428.3 1060 1390C1079.7 1365 1079.5 1349.1 1110 1340C1133.2 1333 1142.9 1342.9 1160 1360C1181.3 1381.3 1183.5 1390.5 1190 1420C1199.6 1464 1190.9 1475.1 1195 1520C1199.9 1574.2 1200.4 1586.4 1210 1640C1220.6 1699.1 1224.4 1712 1240 1770C1255.9 1829.1 1259.3 1842.4 1280 1900C1299.8 1955 1307.8 1965.9 1330 2020C1348.4 2064.9 1360.5 2072.5 1370 2120C1374.5 2142.5 1381.1 2161 1360 2170C1336.7 2180 1328.1 2154.7 1300 2150C1273.4 2145.6 1264.9 2160.4 1240 2150C1207.6 2136.5 1208.4 2120.7 1180 2100C1158.8 2084.6 1152.5 2083.5 1130 2070C1107.5 2056.5 1099.5 2057.6 1080 2040C1053.9 2016.5 1057.4 2002 1030 1980C1011.1 1964.9 999.6 1974.3 980 1960C949.1 1937.5 951.8 1921.2 920 1900C896.3 1884.2 881.3 1898.9 860 1880C837.4 1859.9 846 1845.6 830 1820C823.3 1809.2 799.8 1807.6 810 1800C823.3 1790 845.2 1801.6 870 1790C914.1 1769.4 942.3 1775.3 960 1730C987.9 1658.8 947.9 1635.5 960 1560Z" fill="#BC1748"/>
<path d="M1300 1100C1300 1100 1315.1 1064.5 1340 1050C1368 1033.7 1383 1033.1 1420 1030C1462 1026.5 1478 1028 1520 1035C1557.2 1041.2 1565.8 1044 1600 1060C1637.3 1077.5 1649.7 1084.3 1680 1110C1706.8 1132.7 1712.6 1139.5 1730 1170C1748.7 1202.7 1755.3 1215 1760 1250C1764.2 1281.5 1759.3 1292 1750 1320C1741.7 1344.9 1731.7 1349 1720 1370C1710.2 1387.6 1695.3 1396 1700 1410C1704.7 1424 1727.6 1414.2 1740 1430C1752.8 1446.3 1753.2 1456.6 1755 1480C1757.3 1510.3 1747.8 1524 1750 1560C1752.3 1596.6 1762.7 1607.3 1765 1640C1766.9 1667 1756.5 1674.3 1760 1700C1763.3 1724 1774.2 1726.7 1780 1750C1785.5 1771.9 1792 1783.7 1785 1800C1778 1816.3 1762.3 1806.6 1750 1820C1737.2 1834 1727.7 1843.7 1730 1860C1732.3 1876.3 1749.9 1873.8 1760 1890C1771.7 1908.7 1774.6 1916.4 1780 1940C1785.8 1965.7 1787.3 1981.3 1785 2000C1783.6 2011.2 1778.2 2024.7 1770 2020C1761.8 2015.3 1759.3 1984.7 1750 1980C1740.7 1975.3 1730.7 1987.3 1730 2000C1728.8 2021 1742.9 2037.9 1745 2070C1747.3 2105 1745.8 2117.3 1740 2150C1735 2178 1734 2193.7 1720 2210C1707.9 2224.1 1698.4 2222.3 1680 2220C1661.3 2217.7 1655.1 2213.3 1640 2200C1621.3 2183.7 1615.1 2174.5 1600 2150C1581.3 2119.7 1576.3 2106.8 1560 2070C1541.3 2028 1537.3 2015.3 1520 1970C1501.3 1921 1498.7 1909 1480 1860C1462.7 1814.7 1458 1805 1440 1760C1422 1715 1418 1705 1400 1660C1382 1615 1378.7 1602 1360 1560C1343.7 1523.2 1336.3 1512.7 1320 1480C1306.5 1453 1300.5 1441 1290 1420C1283.2 1406.5 1278 1404.8 1275 1390C1270.3 1366.7 1270 1351.6 1270 1320C1270 1280.3 1270.3 1255 1275 1220C1278.1 1196.7 1285.2 1193 1290 1170C1295.8 1142 1300 1100 1300 1100Z" fill="#BC1748" stroke="#6e5a66" stroke-width="4"/>
<path d="M1275 1390C1268.3 1400 1283.2 1406.5 1290 1420C1303.5 1447 1306.5 1453 1320 1480C1338 1516 1343.7 1523.2 1360 1560C1379.7 1604.3 1382 1615 1400 1660C1418 1705 1422 1715 1440 1760C1458 1805 1462.7 1814.7 1480 1860C1498.8 1909.2 1501.2 1920.8 1520 1970C1537.3 2015.3 1540.3 2025.7 1560 2070C1576.3 2106.8 1578.9 2115.7 1600 2150C1615.1 2174.5 1618.3 2181 1640 2200C1655.1 2213.3 1677.5 2240 1680 2220C1683.3 2193.3 1666.1 2164.2 1650 2120C1630 2065 1621.7 2054.3 1600 2000C1576.7 1941.8 1572.5 1928.5 1550 1870C1527.5 1811.5 1523.3 1798.2 1500 1740C1478.3 1685.7 1474.2 1673.3 1450 1620C1429.2 1574.2 1424.4 1564 1400 1520C1379.4 1482.9 1374.2 1474.9 1350 1440C1333.6 1416.3 1334 1406 1310 1390C1296.9 1381.3 1281.7 1380 1275 1390Z" fill="#A70A3B"/>
<path d="M1560 1050C1560 1036.7 1583.4 1051.7 1600 1060C1638 1079 1647.6 1082.6 1680 1110C1706.8 1132.7 1712.6 1139.5 1730 1170C1749.1 1203.4 1754.9 1211.9 1760 1250C1764.2 1281.5 1760.1 1289.8 1750 1320C1741.7 1344.9 1732.7 1347.1 1720 1370C1710.2 1387.6 1713.1 1394.7 1700 1410C1685.4 1427.1 1680 1446.7 1660 1440C1640 1433.3 1636 1413.9 1640 1390C1646 1354.2 1668.5 1354.4 1680 1320C1691.5 1285.6 1696.7 1275.7 1690 1240C1682.6 1200.4 1671.8 1193.9 1650 1160C1631 1130.4 1622.3 1127.2 1600 1100C1581.8 1077.7 1560 1063.3 1560 1050Z" fill="#A70A3B"/>
<path d="M1320 1070C1328 1060.1 1328.2 1054.7 1340 1050C1373.3 1036.7 1383 1033.1 1420 1030C1464.9 1026.3 1500 1025 1520 1035C1539 1044.5 1499.9 1052.5 1480 1060C1445.3 1073 1434.1 1065.4 1400 1080C1370.2 1092.8 1356.1 1091.8 1340 1120C1317.2 1159.8 1320 1174.1 1320 1220C1320 1257.1 1350 1290 1340 1300C1330 1310 1301.4 1279.7 1290 1250C1277.1 1216.4 1287.6 1205.9 1290 1170C1292.1 1138.3 1290.9 1130.5 1300 1100C1304.7 1084.5 1309.9 1082.7 1320 1070Z" fill="#A70A3B"/>
<path d="M890 1480C901.7 1463.3 917.9 1524.1 940 1510C976.7 1486.7 970.9 1453.7 1000 1410C1016 1386 1018.6 1379.3 1040 1360C1064.1 1338.3 1083.3 1323.3 1100 1320C1114 1317.2 1097.9 1338.2 1090 1350C1070.5 1379.2 1060.9 1381.8 1040 1410C1015.9 1442.6 1010.9 1450.2 990 1485C970.3 1517.8 964.4 1524.6 950 1560C939.5 1585.8 936.2 1592.2 935 1620C933.9 1647.3 937.7 1653.6 945 1680C951.3 1702.5 965 1728 965 1728C965 1728 937.1 1711.7 925 1690C909.1 1661.4 910 1652.4 905 1620C900.9 1593.3 907.9 1586.8 905 1560C901.1 1523.6 878.3 1496.7 890 1480Z" fill="#F4B4BF" stroke="#6e5a66" stroke-width="3"/>
<path d="M600 1720C603.3 1712 626.3 1704.6 650 1698C671.8 1691.9 677.4 1689.9 700 1692C727.8 1694.5 734.3 1696.9 760 1708C793.3 1722.4 800.5 1726.9 830 1748C855.7 1766.3 882 1795 882 1795C882 1795 864.2 1786 850 1778C818.3 1760.3 813.3 1752.4 780 1738C754.3 1726.9 747.9 1722.9 720 1722C705.3 1721.5 704.7 1735 690 1735C666.8 1735 662.9 1725.8 640 1722C622.2 1719 596.7 1728 600 1720Z" fill="#F4B4BF" stroke="#6e5a66" stroke-width="3"/>
<path d="M1040 1340C1040 1340 1056.6 1327.9 1072 1322C1083.1 1317.8 1098 1318 1098 1318C1098 1318 1080.7 1349.7 1062 1362C1054 1367.3 1048.7 1361.7 1042 1355C1037.2 1350.2 1040 1340 1040 1340Z" fill="#F4B4BF" stroke="#6e5a66" stroke-width="3"/>
<path d="M470 1320C480 1300.7 495.8 1300.9 520 1292C554.8 1279.1 562.9 1272.6 600 1272C623.9 1271.6 636.7 1270.7 650 1290C660.5 1305.3 650.8 1314.9 640 1330C626.9 1348.3 621.2 1352.6 600 1360C574.4 1369 567 1367.5 540 1365C516.6 1362.9 509.8 1362.7 490 1350C476.4 1341.2 462.5 1334.4 470 1320Z" fill="#9C0634"/>
<path d="M500 1352C500 1352 532.4 1368.8 560 1366C589.3 1363.1 595.3 1356.1 620 1340C635 1330.3 646 1310 646 1310" fill="none" stroke="#F7C9D2" stroke-width="6" stroke-linecap="round"/>
<path d="M1060 1170C1085 1157.3 1109.5 1158.9 1150 1162C1180.5 1164.4 1198.3 1165.3 1215 1182C1225.7 1192.7 1213.9 1206.1 1200 1212C1171.7 1224 1161.5 1221 1130 1218C1104.1 1215.5 1096.5 1214.7 1075 1200C1062.6 1191.5 1046.5 1176.8 1060 1170Z" fill="#9C0634"/>
<path d="M1085 1198C1085 1198 1119.3 1217 1150 1220C1177.2 1222.6 1210 1210 1210 1210" fill="none" stroke="#F7C9D2" stroke-width="5" stroke-linecap="round"/>
<path d="M1262 1390C1262 1390 1274.5 1462.2 1290 1520C1309.6 1592.8 1314 1609.2 1340 1680C1363.6 1744.4 1373 1757 1400 1820C1427 1883 1432.2 1897.4 1460 1960C1486.2 2018.9 1490.1 2032.9 1520 2090C1539.7 2127.6 1545.2 2135.5 1570 2170C1585.8 2192 1610 2215 1610 2215" fill="none" stroke="#E0607E" stroke-width="6"/>
<path d="M1250 1390C1250 1390 1262.5 1462.2 1278 1520C1297.6 1592.8 1302 1609.2 1328 1680C1351.6 1744.4 1361 1757 1388 1820C1415 1883 1420.2 1897.4 1448 1960C1474.2 2018.9 1478.2 2032.9 1508 2090C1528.7 2129.8 1534.1 2138.4 1560 2175C1575.7 2197.1 1600 2220 1600 2220" fill="none" stroke="#FFFFFF" stroke-width="6"/>
<path d="M1160 1330C1160 1330 1166.4 1355.2 1180 1370C1192.3 1383.4 1197.7 1384.5 1215 1390C1235.3 1396.4 1241.1 1400.4 1262 1396C1281.8 1391.8 1286.3 1386.9 1300 1372C1318.6 1351.8 1332 1320 1332 1320C1332 1320 1331.3 1355.7 1318 1380C1306.8 1400.4 1301.8 1406.8 1280 1415C1256.8 1423.7 1249.5 1418.7 1225 1415C1203.9 1411.8 1193 1417 1180 1400C1160.1 1374 1160 1330 1160 1330Z" fill="#F4B4BF" stroke="#6e5a66" stroke-width="3"/>
<path d="M1285 1175C1285 1175 1317.4 1191.3 1340 1210C1369.4 1234.3 1376.4 1240 1400 1270C1426.2 1303.4 1430.1 1312.5 1450 1350C1470.7 1389.2 1474.9 1398.3 1490 1440C1504.3 1479.5 1506.7 1488.8 1515 1530C1521.1 1560.1 1522 1598 1522 1598C1522 1598 1509.5 1566.2 1500 1540C1486.1 1501.9 1486.8 1491.9 1470 1455C1452.9 1417.4 1447.3 1409.7 1425 1375C1406.7 1346.6 1402.8 1339.9 1380 1315C1364.3 1297.8 1359.8 1294.4 1340 1282C1323.4 1271.6 1308.9 1282.4 1300 1265C1281.7 1229.3 1285 1175 1285 1175Z" fill="#F4B4BF" stroke="#6e5a66" stroke-width="3"/>
<path d="M1735 1390C1735 1390 1705.6 1401.3 1690 1420C1670.7 1443.2 1669.5 1451.4 1660 1480C1651.3 1506 1649.1 1512.6 1650 1540C1651 1569.5 1664 1604 1664 1604C1664 1604 1668 1568.5 1674 1540C1678.8 1517.1 1678.1 1511.2 1688 1490C1697.3 1470.1 1700.2 1465.3 1716 1450C1727.9 1438.5 1743 1447.8 1748 1432C1754 1413.1 1735 1390 1735 1390Z" fill="#F4B4BF" stroke="#6e5a66" stroke-width="3"/>
<path d="M1605 1090C1605 1090 1621.1 1104.8 1630 1120C1637.2 1132.3 1640 1150 1640 1150" fill="none" stroke="#E9A9BA" stroke-width="7" stroke-linecap="round"/>
<path d="M1680 1195C1680 1195 1696.4 1206.6 1705 1220C1711.3 1229.8 1712 1245 1712 1245" fill="none" stroke="#E9A9BA" stroke-width="7" stroke-linecap="round"/>
</g>
<g transform="translate(2611,170) scale(0.25)">
<g transform="translate(-55,9) scale(1.0,0.9375)">
<path d="M1270 2512C1270 2512 1260 2630.3 1270 2702C1272.4 2719.4 1282.8 2723.2 1300 2727C1353.3 2738.7 1371.3 2737 1430 2737C1493.2 2737 1512.7 2738.7 1570 2727C1587.9 2723.4 1599.3 2720.1 1602 2702C1612.7 2630.3 1602 2512 1602 2512L1270 2512Z" fill="#E96A48" stroke="#6e5a66" stroke-width="4"/>
<path d="M1400 2512C1400 2512 1396.7 2598.7 1420 2662C1430 2689 1442.6 2693.2 1470 2702C1508.6 2714.4 1519.5 2708.6 1560 2707C1578.5 2706.3 1596.1 2715.1 1600 2697C1614 2632 1602 2512 1602 2512L1400 2512Z" fill="#DE4229"/>
<path d="M360 1045C360 1045 262.7 1037.7 200 1042C185.5 1043 179.8 1045.8 172 1058C162.1 1073.4 161.1 1079.9 164 1098C166.9 1116.3 170 1121.9 184 1134C194.9 1143.4 200.6 1141.5 215 1142C270.3 1144 350 1140 350 1140L360 1045Z" fill="#E96A48" stroke="#6e5a66" stroke-width="4"/>
<path d="M320 1180C320 1180 229.3 1174 170 1180C155.1 1181.5 148.5 1184.5 142 1198C130.8 1221.4 129.8 1229.4 134 1255C137.4 1276.1 141.6 1282.3 158 1296C169.2 1305.4 175.4 1301.6 190 1302C237.3 1303.3 300 1300 300 1300L320 1180Z" fill="#E96A48" stroke="#6e5a66" stroke-width="4"/>
<path d="M200 1062L330 1062" fill="none" stroke="#F6B9A6" stroke-width="7" stroke-linecap="round"/>
<path d="M170 1200L290 1200" fill="none" stroke="#F6B9A6" stroke-width="7" stroke-linecap="round"/>
<path d="M190 1120C233.3 1108.3 290 1098.3 340 1105C355.6 1107.1 355.2 1135.9 340 1140C296.7 1151.7 260 1146.7 210 1140C197.4 1138.3 177.7 1123.3 190 1120Z" fill="#DE4229"/>
<path d="M160 1275C198.3 1260 253.3 1247.3 300 1255C319.1 1258.1 318 1290.9 300 1298C261.7 1313 231.7 1307.7 185 1300C169.3 1297.4 145.2 1280.8 160 1275Z" fill="#DE4229"/>
<path d="M1700 1000C1700 1000 1715.5 966.5 1740 955C1790.4 931.4 1810.7 926.7 1860 925C1876.9 924.4 1881.5 934.4 1888 950C1894.1 964.6 1891.8 970.7 1885 985C1874 1008.2 1868.1 1011.9 1850 1030C1825.1 1054.9 1819.7 1061.1 1790 1080C1769.6 1093 1740 1100 1740 1100L1700 1000Z" fill="#E96A48" stroke="#6e5a66" stroke-width="4"/>
<path d="M1790 1120C1790 1120 1805.5 1086.7 1830 1075C1867.2 1057.3 1881.3 1054.7 1920 1058C1936.8 1059.4 1941.5 1068.7 1946 1085C1951.5 1104.7 1946.9 1110.8 1940 1130C1928.2 1163.2 1919.8 1168 1905 1200C1892.7 1226.6 1903.9 1243.1 1880 1260C1857.9 1275.6 1820 1260 1820 1260L1790 1120Z" fill="#E96A48" stroke="#6e5a66" stroke-width="4"/>
<path d="M1760 965L1860 942" fill="none" stroke="#F6B9A6" stroke-width="7" stroke-linecap="round"/>
<path d="M1840 1090L1915 1075" fill="none" stroke="#F6B9A6" stroke-width="7" stroke-linecap="round"/>
<path d="M375 410C375 410 376.7 569.5 376 700C375.4 812.5 380.6 837.8 372 950C368.8 991.6 356.9 998.9 350 1040C338 1111.6 327.8 1127.5 330 1200C341.7 1583.3 367.4 1744.2 385 2190C393.5 2405.8 379.7 2500 388 2670C388.8 2686.7 393.8 2695.8 410 2700C464 2714 486.8 2712 550 2712C613.2 2712 636.7 2714 690 2700C705.7 2695.9 709.4 2686.2 710 2670C715.3 2536.7 704.6 2466.5 706 2300C709.1 1940 717.4 1860 720 1500C721.5 1293 721.7 1223.3 715 1040C713.5 999 704.3 990.8 700 950C693 882.7 691.8 867.6 690 800C685.5 624.5 686 410 686 410L375 410Z" fill="#A9CEEB" stroke="#6e5a66" stroke-width="4"/>
<path d="M450 2272C450 2272 513.9 2323.5 560 2372C599.7 2413.8 615.3 2419.9 640 2472C659.5 2513.1 660 2526.8 655 2572C650.7 2611.1 648.8 2625.3 620 2652C583.8 2685.5 496.7 2682 520 2697C543.3 2712 628 2708.7 690 2697C707 2693.8 705.3 2679.3 706 2662C711.3 2533.7 706 2312 706 2312L450 2272Z" fill="#84BCE5"/>
<path d="M640 440C640 440 658 527.7 655 600C651.2 690.9 652.5 713.2 625 800C608.8 851.2 596 860.2 560 900C529.8 933.3 518.4 936.5 480 960C437.1 986.2 380 1010 380 1010L700 1040C700 1040 692.5 908.1 690 800C686.2 638 686 440 686 440L640 440Z" fill="#84BCE5"/>
<path d="M398 470C398 470 402.4 596.5 402 700C401.5 808 396 940 396 940" fill="none" stroke="#DDECF8" stroke-width="8" stroke-linecap="round"/>
<ellipse cx="530" cy="410" rx="155" ry="40" fill="#DDECF8" stroke="#6e5a66" stroke-width="4"/>
<ellipse cx="530" cy="414" rx="95" ry="22" fill="#6FB0DE"/>
<ellipse cx="530" cy="420" rx="70" ry="13" fill="#A9CEEB"/>
<path d="M376 532C376 532 344.9 526.7 320 520C291.7 512.3 287.3 501.8 258 500C240.7 498.9 232.9 500.4 222 514C208.6 530.7 208.5 538.7 210 560C211.4 579.7 211.1 589.8 228 600C265.3 622.7 322 628 322 628C322 628 268 628 228 640C212.7 644.6 209.2 649.8 202 664C193.5 680.7 190.6 686.8 195 705C199.4 723.1 202.4 731.8 220 738C254 750 264 741.5 300 742C334.2 742.4 376 740 376 740L376 532Z" fill="#A9CEEB" stroke="#6e5a66" stroke-width="4"/>
<path d="M240 722C240 708.7 275.3 714.8 300 700C330.1 681.9 334.7 666.7 360 650C366 646 376 650 376 650L376 738C376 738 334 744 300 740C272 736.7 240 735.3 240 722Z" fill="#84BCE5"/>
<path d="M235 595C226.7 588.3 270.8 603.1 300 600C315 598.4 321.7 578.3 330 585C338.3 591.7 340.8 618.3 325 620C293.3 623.3 243.3 601.7 235 595Z" fill="#84BCE5"/>
<path d="M940 1435C940 1435 890.3 1411.5 860 1380C830.6 1349.4 825.8 1339.4 810 1300C798.2 1270.5 810.1 1260.2 800 1230C787.3 1191.8 776.3 1186.8 760 1150C740.3 1105.7 732.9 1096.7 720 1050C707.9 1006.1 709 995.3 705 950C699.1 882.7 699.1 867.6 698 800C696.9 732.5 695.2 717.3 700 650C702.9 609 705 599.8 715 560C725.4 518.6 726.8 508.6 745 470C765.3 427.1 770.5 417.2 800 380C831.7 340.1 848.2 339.8 880 300C897.3 278.3 899.6 271.5 908 245C915.6 221.2 907.8 213.9 915 190C920.2 172.6 920.5 165.9 935 155C949.8 143.9 956.5 143.2 975 145C990.4 146.5 996.3 149.1 1005 162C1014.7 176.4 1004.5 184.3 1012 200C1018.6 213.8 1020 222 1035 225C1052.3 228.5 1060 225 1072 212C1089.4 193.2 1085.4 183.7 1095 160C1102.5 141.4 1097.2 133.4 1110 118C1121.3 104.4 1127.3 100.7 1145 100C1164.2 99.2 1172 100.8 1185 115C1199.4 130.7 1198.7 138.7 1200 160C1201.1 177.7 1189.3 180.7 1190 198C1190.3 206.3 1194.6 215.8 1202 212C1213.7 206 1216.1 195.3 1225 180C1235.5 161.9 1230.9 153.5 1245 138C1254.9 127.1 1260.4 123.4 1275 125C1292.3 126.9 1297.6 131.1 1308 145C1319.3 160 1318.6 166.3 1320 185C1321.8 209.8 1302.7 218.4 1315 240C1333.3 272 1353.4 264.4 1380 290C1414.5 323.2 1422 331.2 1450 370C1480.7 412.5 1487.5 422.6 1510 470C1528.3 508.6 1530.3 518.4 1540 560C1549.3 599.8 1547.5 609.4 1552 650C1557.4 699.4 1559.2 710.4 1562 760C1565.5 822.9 1566 900 1566 900C1566 900 1538.7 949.4 1500 960C1378 993.3 1311.9 922.4 1200 1000C1068.7 1091.1 1074.7 1153.9 1010 1300C984.5 1357.6 1005 1440 1005 1440L940 1435Z" fill="#E96A48" stroke="#6e5a66" stroke-width="4"/>
<path d="M1090 560C1090 560 1107.3 529.8 1130 515C1158.2 496.5 1166.5 492.2 1200 488C1240.3 483 1249.9 488.6 1290 495C1340.1 503 1349.3 521.5 1400 520C1430.2 519.1 1437.4 510.1 1460 490C1479.6 472.6 1492.2 466.1 1490 440C1487 404.6 1443.3 362 1450 372C1456.7 382 1487.7 423.4 1510 470C1528.4 508.5 1530.3 518.4 1540 560C1549.3 599.8 1547.5 609.4 1552 650C1557.4 699.4 1559.2 710.4 1562 760C1565.5 822.9 1566 900 1566 900L1440 900L1440 600L1090 560Z" fill="#DE4229"/>
<path d="M935 300C935 300 872.3 350.3 830 400C795.2 440.9 786.3 450.7 765 500C742.9 551.1 742.8 564.9 735 620C726.1 682.4 728 760 728 760" fill="none" stroke="#F6B9A6" stroke-width="7" stroke-linecap="round"/>
<path d="M985 150C989.4 139.7 1000.3 154.8 1005 165C1012.5 181.5 1015 193.3 1010 205C1006.3 213.5 993.8 208.4 990 200C981.7 181.7 980 161.7 985 150Z" fill="#DE4229"/>
<path d="M1165 108C1167.7 98 1181.5 110.3 1188 120C1198.5 135.6 1200 141.2 1200 160C1200 178.8 1197.3 190 1188 200C1182.2 206.2 1173.3 198.4 1172 190C1169.3 173.3 1181.6 168.3 1180 150C1178.3 130 1162.3 118 1165 108Z" fill="#DE4229"/>
<path d="M1290 132C1294 121.3 1304.3 138 1310 148C1318.5 163 1319.3 167.8 1320 185C1321.1 209.9 1324 226.7 1314 240C1306.4 250.2 1293.3 237.3 1290 225C1284.7 205.1 1298 200.6 1298 180C1298 158.1 1286 142.7 1290 132Z" fill="#DE4229"/>
<path d="M965 1440C965 1440 969.6 1362.9 975 1300C980.8 1232.4 977.8 1216.7 990 1150C1002.6 1081.3 1009.9 1066.9 1030 1000C1043.7 954.3 1050.1 945.3 1065 900C1070.8 882.3 1077.3 878.6 1076 860C1074.9 844.7 1065.5 844.3 1060 830C1051.5 808.1 1048.6 803.2 1045 780C1039.5 744.3 1038.8 736.1 1040 700C1041.1 668.2 1038.7 659.7 1050 630C1059.5 605 1064.4 599 1085 582C1106.1 564.6 1112.7 558.2 1140 556C1211.7 550.3 1227.9 562.6 1300 565C1390 568 1410 568.6 1500 568C1630.5 567.2 1686 558 1790 562C1802.8 562.5 1808 567.9 1812 580C1820.6 605.7 1819.2 613.1 1816 640C1813.7 659.2 1818.4 673.8 1800 680C1748.7 697.3 1662 692 1662 692C1662 692 1650 694.7 1650 700C1650 705.3 1662 708 1662 708C1662 708 1742 703.3 1790 714C1803.4 717 1804.4 726.4 1806 740C1809.1 767 1808 774.1 1800 800C1795.8 813.4 1793.9 821.9 1780 824C1713.3 834 1680.9 824.8 1600 830C1554.8 832.9 1543.8 830.5 1500 842C1470.8 849.7 1463.8 853.4 1440 872C1417.8 889.3 1414.9 896.2 1400 920C1378.7 954.1 1376.3 963.2 1360 1000C1340.3 1044.3 1337 1054.6 1320 1100C1303.3 1144.6 1285 1200 1285 1200L1000 1440L965 1440Z" fill="#A9CEEB" stroke="#6e5a66" stroke-width="4"/>
<path d="M1042 700C1043.7 700 1039.4 745.4 1050 780C1059.2 809.9 1071 812 1085 840C1093.6 857.2 1103 861 1100 880C1091.7 933.3 1079.5 946.5 1060 1000C1043.4 1045.5 1038 1055 1020 1100C1011 1122.5 1000 1150 1000 1150L990 1150C990 1150 1009.9 1066.9 1030 1000C1043.7 954.3 1050.1 945.3 1065 900C1070.8 882.3 1077.3 878.6 1076 860C1074.9 844.7 1065.5 844.3 1060 830C1051.5 808.1 1048.2 803.3 1045 780C1040.1 744.3 1040.3 700 1042 700Z" fill="#84BCE5"/>
<path d="M1000 1105C1000 1105 1053.8 1083.5 1100 1075C1144.4 1066.8 1155.2 1073.6 1200 1068C1245.4 1062.3 1300 1050 1300 1050L1290 1120C1290 1120 1241.1 1105.4 1200 1100C1155.3 1094.1 1144.2 1086.2 1100 1095C1051.6 1104.7 1000 1140 1000 1140L1000 1105Z" fill="#84BCE5"/>
<path d="M990 1150C980 1200 980.8 1232.4 975 1300C969.6 1362.9 956.7 1393.3 965 1440C967.8 1455.5 997.8 1455.6 1000 1440C1013.3 1343.3 1008.3 1246.7 1005 1150C1004.8 1143.3 991.3 1143.4 990 1150Z" fill="#84BCE5"/>
<path d="M1150 572C1150 572 1232.4 577.7 1300 580C1390 583.1 1410 584.4 1500 584C1626 583.5 1780 578 1780 578" fill="none" stroke="#DDECF8" stroke-width="9" stroke-linecap="round"/>
<path d="M1085 880C1085 880 1065.1 934.8 1050 980C1033.6 1029.3 1015 1090 1015 1090" fill="none" stroke="#DDECF8" stroke-width="7" stroke-linecap="round"/>
<path d="M1665 700L1790 698" fill="none" stroke="#DDECF8" stroke-width="6" stroke-linecap="round"/>
<path d="M350 1040C350 1040 385.9 1012.5 420 1000C454.4 987.4 463.5 988 500 985C544.8 981.3 555.3 980.2 600 985C627.9 988 635.1 989 660 1002C687.9 1016.5 697.4 1019 715 1045C743.8 1087.6 738.5 1103.3 760 1150C776.8 1186.6 788.2 1191.5 800 1230C812 1269.1 797.8 1281.7 812 1320C843.3 1404.5 900 1500 900 1500L800 1900C800 1900 744 1980 700 2000C679 2009.5 671.3 1946.7 668 1960C664.7 1973.3 699.2 2003.8 690 2040C683.5 2065.4 661.7 2055.2 640 2070C622 2082.3 608.3 2079.1 602 2100C595.3 2122.4 612.2 2126.9 616 2150C620.4 2176.7 628 2184.1 620 2210C611.7 2237 603.4 2241.5 582 2260C561.9 2277.4 555.7 2281.3 530 2288C512.5 2292.6 507.3 2289.4 490 2284C466.2 2276.6 459.1 2276.1 440 2260C413.1 2237.4 408.6 2229.8 390 2200C363.3 2157.3 361.6 2145.4 340 2100C316.6 2050.9 308.1 2041.3 290 1990C268.3 1928.4 263.5 1914.3 252 1850C240 1783.3 241.8 1767.7 238 1700C234.2 1632.6 232.3 1617.5 235 1550C237.7 1482.2 239.9 1467.1 250 1400C260.2 1331.9 265.6 1317.3 280 1250C292.6 1191.3 291 1177 310 1120C322.7 1081.8 350 1040 350 1040Z" fill="#CAB1C9" stroke="#6e5a66" stroke-width="4"/>
<path d="M600 1830C641.2 1881.6 642 1899.3 668 1960C682.7 1994.3 699.2 2003.8 690 2040C683.5 2065.4 661.7 2055.2 640 2070C622 2082.3 608.3 2079.1 602 2100C595.3 2122.4 612.2 2126.9 616 2150C620.4 2176.7 628 2184.1 620 2210C611.7 2237 603.4 2241.5 582 2260C561.9 2277.4 555.7 2281.3 530 2288C512.5 2292.6 493.1 2301.8 490 2284C486.7 2264.7 509.4 2255.7 520 2230C534.3 2195.1 540 2187.4 545 2150C549.2 2118.7 535.8 2111.3 540 2080C545 2042.6 558.8 2037.2 565 2000C572.4 1955.6 575.6 1944.7 570 1900C564.2 1853.4 530 1823.3 540 1800C550 1776.7 581.1 1806.4 600 1830Z" fill="#B89DB9"/>
<path d="M390 1290C390 1285 412.5 1254 440 1235C472.3 1212.6 482.1 1210.4 520 1200C572.8 1185.5 590.1 1202.5 640 1180C683.6 1160.4 694.9 1150.7 720 1110C734.2 1087 706.7 1036.7 720 1050C733.3 1063.3 740.3 1105.7 760 1150C776.3 1186.8 788.2 1191.5 800 1230C812 1269.1 825.3 1306.7 812 1320C798.7 1333.3 783.2 1292.7 760 1270C741.8 1252.2 742 1242.8 720 1230C686.8 1210.6 678.3 1202.9 640 1200C585.7 1195.9 572.8 1201.8 520 1215C481.9 1224.5 474 1230.4 440 1250C415 1264.4 390 1295 390 1290Z" fill="#B89DB9"/>
<path d="M430 1030C430 1030 374.7 1071.8 350 1120C320.2 1178.1 325.7 1196.2 312 1260C298.6 1322.4 290 1400 290 1400" fill="none" stroke="#E6D8E6" stroke-width="9" stroke-linecap="round"/>
<path d="M1380 900C1380 900 1411.6 881.6 1440 880C1494.1 877 1507.4 876.9 1560 890C1616.8 904.2 1629.8 909.9 1680 940C1721 964.6 1728.5 974 1760 1010C1792.1 1046.6 1799.2 1056 1820 1100C1840.1 1142.5 1838 1154.6 1850 1200C1860.6 1240.1 1863.1 1249.1 1870 1290C1873 1307.8 1877.8 1312.9 1872 1330C1863.6 1354.6 1840 1378 1840 1378L1700 1400L1300 1100L1380 900Z" fill="#CAB1C9" stroke="#6e5a66" stroke-width="4"/>
<path d="M1640 925C1656.7 911.7 1676.1 933.1 1700 950C1731.2 972.1 1736.1 980.2 1760 1010C1790.4 1048 1799.2 1056 1820 1100C1840.1 1142.5 1838 1154.6 1850 1200C1860.6 1240.1 1863.1 1249.1 1870 1290C1873 1307.8 1877.8 1312.9 1872 1330C1863.6 1354.6 1851 1401.5 1840 1378C1824.3 1344.7 1838.2 1295.6 1825 1230C1815.6 1183.3 1812.3 1172.2 1790 1130C1769 1090.2 1761.8 1081.8 1730 1050C1698.2 1018.2 1676.3 1026.5 1650 990C1632.7 966 1623.3 938.3 1640 925Z" fill="#B89DB9"/>
</g>
<clipPath id="hb2"><path d="M315 1293.4C318.5 1262.7 318.7 1254 335 1227.8C351.3 1201.6 358.7 1197 385 1180.9C418.2 1160.5 427.1 1156.9 465 1148.1C517.9 1135.7 530.8 1130.2 585 1134C623.1 1136.7 631.5 1143.8 665 1162.1C686.6 1174 687.9 1181.8 705 1199.6C728.5 1224.1 731.4 1231.6 755 1255.9C776.5 1278 780.4 1284.1 805 1302.8C839.1 1328.6 885 1354.3 885 1354.3L920 1349.6C920 1349.6 924.6 1282.5 930 1227.8C935.8 1168.6 923.3 1151.2 945 1096.5C954.9 1071.5 970.8 1075.5 995 1063.7C1016.2 1053.3 1021.7 1051.7 1045 1047.8C1071.6 1043.2 1078.4 1040.4 1105 1044.9C1133.6 1049.8 1141.4 1051.6 1165 1068.4C1194.4 1089.2 1220 1126.5 1220 1126.5C1220 1126.5 1247.7 1080.5 1265 1040.2C1291.4 979 1317 901.5 1317 901.5C1317 901.5 1359.8 894.4 1395 894.9C1444.7 895.7 1456.4 894.1 1505 904.3C1547.2 913.2 1556.8 917.1 1595 937.1C1634 957.5 1642.9 963.3 1675 993.4C1706.5 1022.9 1713.8 1030.7 1735 1068.4C1757.1 1107.6 1758.8 1118.5 1770 1162.1C1780.6 1203.4 1777.7 1213.6 1783 1255.9C1785.4 1274.8 1787 1298.1 1787 1298.1C1787 1298.1 1808 1256.7 1835 1261C1872.7 1267 1873.7 1288.1 1900 1316C1948.2 1367.1 1957.1 1380.3 2000 1436C2047.2 1497.4 2055 1513 2100 1576C2145 1639 2157.1 1651.6 2200 1716C2238.1 1773.2 2247.4 1785.5 2280 1846C2310.5 1902.7 2318.2 1915.4 2340 1976C2358.9 2028.4 2361.3 2041 2370 2096C2378.5 2149.5 2380.5 2161.9 2378 2216C2375.9 2261.7 2373.3 2272.3 2360 2316C2347.1 2358.4 2345.1 2369.5 2320 2406C2294.8 2442.7 2286.4 2450.3 2250 2476C2208.9 2505 2198.2 2511.5 2150 2526C2084.5 2545.7 2068.2 2545.3 2000 2551C1932.7 2556.6 1917.4 2554.4 1850 2551C1782.2 2547.6 1767.3 2544.7 1700 2536C1609.7 2524.4 1589.6 2521.7 1500 2506C1409.6 2490.2 1389.3 2487.2 1300 2466C1209.2 2444.4 1189.4 2437.8 1100 2411C1009.4 2383.8 989.7 2376.3 900 2346C809.7 2315.5 788.2 2312.3 700 2276C634.9 2249.2 622.3 2238.8 560 2206C521.1 2185.5 475 2157.8 475 2157.8C475 2157.8 506.5 2145.3 527 2127.8C547.6 2110.1 556.5 2106.7 565 2080.9C572.9 2056.8 565.4 2049.6 561 2024.6C557.2 2002.9 541 1998.9 547 1977.8C553.6 1954.6 571.1 1959.8 585 1940.2C598.5 1921.3 600.3 1915.7 607 1893.4C613.1 1873 613.5 1867.8 613 1846.5C612.5 1825.1 612.4 1819.7 605 1799.6C595.1 1772.7 592.9 1765.8 575 1743.4C551.9 1714.5 541 1713.4 515 1687.1C482.5 1654.3 474.2 1647.9 445 1612.1C415.6 1576 409.8 1567.2 385 1527.8C364.7 1495.3 358.7 1488.4 345 1452.8C329.3 1412 328.1 1401.9 320 1359C314.5 1329.9 311.6 1322.8 315 1293.4Z"/></clipPath>
<path d="M315 1293.4C318.5 1262.7 318.7 1254 335 1227.8C351.3 1201.6 358.7 1197 385 1180.9C418.2 1160.5 427.1 1156.9 465 1148.1C517.9 1135.7 530.8 1130.2 585 1134C623.1 1136.7 631.5 1143.8 665 1162.1C686.6 1174 687.9 1181.8 705 1199.6C728.5 1224.1 731.4 1231.6 755 1255.9C776.5 1278 780.4 1284.1 805 1302.8C839.1 1328.6 885 1354.3 885 1354.3L920 1349.6C920 1349.6 924.6 1282.5 930 1227.8C935.8 1168.6 923.3 1151.2 945 1096.5C954.9 1071.5 970.8 1075.5 995 1063.7C1016.2 1053.3 1021.7 1051.7 1045 1047.8C1071.6 1043.2 1078.4 1040.4 1105 1044.9C1133.6 1049.8 1141.4 1051.6 1165 1068.4C1194.4 1089.2 1220 1126.5 1220 1126.5C1220 1126.5 1247.7 1080.5 1265 1040.2C1291.4 979 1317 901.5 1317 901.5C1317 901.5 1359.8 894.4 1395 894.9C1444.7 895.7 1456.4 894.1 1505 904.3C1547.2 913.2 1556.8 917.1 1595 937.1C1634 957.5 1642.9 963.3 1675 993.4C1706.5 1022.9 1713.8 1030.7 1735 1068.4C1757.1 1107.6 1758.8 1118.5 1770 1162.1C1780.6 1203.4 1777.7 1213.6 1783 1255.9C1785.4 1274.8 1787 1298.1 1787 1298.1C1787 1298.1 1808 1256.7 1835 1261C1872.7 1267 1873.7 1288.1 1900 1316C1948.2 1367.1 1957.1 1380.3 2000 1436C2047.2 1497.4 2055 1513 2100 1576C2145 1639 2157.1 1651.6 2200 1716C2238.1 1773.2 2247.4 1785.5 2280 1846C2310.5 1902.7 2318.2 1915.4 2340 1976C2358.9 2028.4 2361.3 2041 2370 2096C2378.5 2149.5 2380.5 2161.9 2378 2216C2375.9 2261.7 2373.3 2272.3 2360 2316C2347.1 2358.4 2345.1 2369.5 2320 2406C2294.8 2442.7 2286.4 2450.3 2250 2476C2208.9 2505 2198.2 2511.5 2150 2526C2084.5 2545.7 2068.2 2545.3 2000 2551C1932.7 2556.6 1917.4 2554.4 1850 2551C1782.2 2547.6 1767.3 2544.7 1700 2536C1609.7 2524.4 1589.6 2521.7 1500 2506C1409.6 2490.2 1389.3 2487.2 1300 2466C1209.2 2444.4 1189.4 2437.8 1100 2411C1009.4 2383.8 989.7 2376.3 900 2346C809.7 2315.5 788.2 2312.3 700 2276C634.9 2249.2 622.3 2238.8 560 2206C521.1 2185.5 475 2157.8 475 2157.8C475 2157.8 506.5 2145.3 527 2127.8C547.6 2110.1 556.5 2106.7 565 2080.9C572.9 2056.8 565.4 2049.6 561 2024.6C557.2 2002.9 541 1998.9 547 1977.8C553.6 1954.6 571.1 1959.8 585 1940.2C598.5 1921.3 600.3 1915.7 607 1893.4C613.1 1873 613.5 1867.8 613 1846.5C612.5 1825.1 612.4 1819.7 605 1799.6C595.1 1772.7 592.9 1765.8 575 1743.4C551.9 1714.5 541 1713.4 515 1687.1C482.5 1654.3 474.2 1647.9 445 1612.1C415.6 1576 409.8 1567.2 385 1527.8C364.7 1495.3 358.7 1488.4 345 1452.8C329.3 1412 328.1 1401.9 320 1359C314.5 1329.9 311.6 1322.8 315 1293.4Z" fill="#FCEBEC"/>
<g clip-path="url(#hb2)"><path d="M315 1293.4C318.5 1262.7 318.7 1254 335 1227.8C351.3 1201.6 358.7 1197 385 1180.9C418.2 1160.5 427.1 1156.9 465 1148.1C517.9 1135.7 530.8 1130.2 585 1134C623.1 1136.7 631.5 1143.8 665 1162.1C686.6 1174 687.9 1181.8 705 1199.6C728.5 1224.1 731.4 1231.6 755 1255.9C776.5 1278 780.4 1284.1 805 1302.8C839.1 1328.6 885 1354.3 885 1354.3L920 1349.6C920 1349.6 924.6 1282.5 930 1227.8C935.8 1168.6 923.3 1151.2 945 1096.5C954.9 1071.5 970.8 1075.5 995 1063.7C1016.2 1053.3 1021.7 1051.7 1045 1047.8C1071.6 1043.2 1078.4 1040.4 1105 1044.9C1133.6 1049.8 1141.4 1051.6 1165 1068.4C1194.4 1089.2 1220 1126.5 1220 1126.5C1220 1126.5 1247.7 1080.5 1265 1040.2C1291.4 979 1317 901.5 1317 901.5C1317 901.5 1359.8 894.4 1395 894.9C1444.7 895.7 1456.4 894.1 1505 904.3C1547.2 913.2 1556.8 917.1 1595 937.1C1634 957.5 1642.9 963.3 1675 993.4C1706.5 1022.9 1713.8 1030.7 1735 1068.4C1757.1 1107.6 1758.8 1118.5 1770 1162.1C1780.6 1203.4 1777.7 1213.6 1783 1255.9C1785.4 1274.8 1787 1298.1 1787 1298.1C1787 1298.1 1808 1256.7 1835 1261C1872.7 1267 1873.7 1288.1 1900 1316C1948.2 1367.1 1957.1 1380.3 2000 1436C2047.2 1497.4 2055 1513 2100 1576C2145 1639 2157.1 1651.6 2200 1716C2238.1 1773.2 2247.4 1785.5 2280 1846C2310.5 1902.7 2318.2 1915.4 2340 1976C2358.9 2028.4 2361.3 2041 2370 2096C2378.5 2149.5 2380.5 2161.9 2378 2216C2375.9 2261.7 2373.3 2272.3 2360 2316C2347.1 2358.4 2345.1 2369.5 2320 2406C2294.8 2442.7 2286.4 2450.3 2250 2476C2208.9 2505 2198.2 2511.5 2150 2526C2084.5 2545.7 2068.2 2545.3 2000 2551C1932.7 2556.6 1917.4 2554.4 1850 2551C1782.2 2547.6 1767.3 2544.7 1700 2536C1609.7 2524.4 1589.6 2521.7 1500 2506C1409.6 2490.2 1389.3 2487.2 1300 2466C1209.2 2444.4 1189.4 2437.8 1100 2411C1009.4 2383.8 989.7 2376.3 900 2346C809.7 2315.5 788.2 2312.3 700 2276C634.9 2249.2 622.3 2238.8 560 2206C521.1 2185.5 475 2157.8 475 2157.8C475 2157.8 506.5 2145.3 527 2127.8C547.6 2110.1 556.5 2106.7 565 2080.9C572.9 2056.8 565.4 2049.6 561 2024.6C557.2 2002.9 541 1998.9 547 1977.8C553.6 1954.6 571.1 1959.8 585 1940.2C598.5 1921.3 600.3 1915.7 607 1893.4C613.1 1873 613.5 1867.8 613 1846.5C612.5 1825.1 612.4 1819.7 605 1799.6C595.1 1772.7 592.9 1765.8 575 1743.4C551.9 1714.5 541 1713.4 515 1687.1C482.5 1654.3 474.2 1647.9 445 1612.1C415.6 1576 409.8 1567.2 385 1527.8C364.7 1495.3 358.7 1488.4 345 1452.8C329.3 1412 328.1 1401.9 320 1359C314.5 1329.9 311.6 1322.8 315 1293.4Z" fill="none" stroke="#F8D3D8" stroke-width="90" stroke-linejoin="round"/>
<path d="M560 1776C579.7 1735.5 633 1740 660 1776C720 1856 746.7 1936 740 2016C736.3 2060.8 679.1 1993.7 640 2016C605.1 2036 631.2 2070.6 600 2096C554.6 2132.9 487.3 2204 480 2146C466.7 2039.3 500 1899.3 560 1776Z" fill="#F6C7CD"/>
</g>
<path d="M315 1293.4C318.5 1262.7 318.7 1254 335 1227.8C351.3 1201.6 358.7 1197 385 1180.9C418.2 1160.5 427.1 1156.9 465 1148.1C517.9 1135.7 530.8 1130.2 585 1134C623.1 1136.7 631.5 1143.8 665 1162.1C686.6 1174 687.9 1181.8 705 1199.6C728.5 1224.1 731.4 1231.6 755 1255.9C776.5 1278 780.4 1284.1 805 1302.8C839.1 1328.6 885 1354.3 885 1354.3L920 1349.6C920 1349.6 924.6 1282.5 930 1227.8C935.8 1168.6 923.3 1151.2 945 1096.5C954.9 1071.5 970.8 1075.5 995 1063.7C1016.2 1053.3 1021.7 1051.7 1045 1047.8C1071.6 1043.2 1078.4 1040.4 1105 1044.9C1133.6 1049.8 1141.4 1051.6 1165 1068.4C1194.4 1089.2 1220 1126.5 1220 1126.5C1220 1126.5 1247.7 1080.5 1265 1040.2C1291.4 979 1317 901.5 1317 901.5C1317 901.5 1359.8 894.4 1395 894.9C1444.7 895.7 1456.4 894.1 1505 904.3C1547.2 913.2 1556.8 917.1 1595 937.1C1634 957.5 1642.9 963.3 1675 993.4C1706.5 1022.9 1713.8 1030.7 1735 1068.4C1757.1 1107.6 1758.8 1118.5 1770 1162.1C1780.6 1203.4 1777.7 1213.6 1783 1255.9C1785.4 1274.8 1787 1298.1 1787 1298.1C1787 1298.1 1808 1256.7 1835 1261C1872.7 1267 1873.7 1288.1 1900 1316C1948.2 1367.1 1957.1 1380.3 2000 1436C2047.2 1497.4 2055 1513 2100 1576C2145 1639 2157.1 1651.6 2200 1716C2238.1 1773.2 2247.4 1785.5 2280 1846C2310.5 1902.7 2318.2 1915.4 2340 1976C2358.9 2028.4 2361.3 2041 2370 2096C2378.5 2149.5 2380.5 2161.9 2378 2216C2375.9 2261.7 2373.3 2272.3 2360 2316C2347.1 2358.4 2345.1 2369.5 2320 2406C2294.8 2442.7 2286.4 2450.3 2250 2476C2208.9 2505 2198.2 2511.5 2150 2526C2084.5 2545.7 2068.2 2545.3 2000 2551C1932.7 2556.6 1917.4 2554.4 1850 2551C1782.2 2547.6 1767.3 2544.7 1700 2536C1609.7 2524.4 1589.6 2521.7 1500 2506C1409.6 2490.2 1389.3 2487.2 1300 2466C1209.2 2444.4 1189.4 2437.8 1100 2411C1009.4 2383.8 989.7 2376.3 900 2346C809.7 2315.5 788.2 2312.3 700 2276C634.9 2249.2 622.3 2238.8 560 2206C521.1 2185.5 475 2157.8 475 2157.8C475 2157.8 506.5 2145.3 527 2127.8C547.6 2110.1 556.5 2106.7 565 2080.9C572.9 2056.8 565.4 2049.6 561 2024.6C557.2 2002.9 541 1998.9 547 1977.8C553.6 1954.6 571.1 1959.8 585 1940.2C598.5 1921.3 600.3 1915.7 607 1893.4C613.1 1873 613.5 1867.8 613 1846.5C612.5 1825.1 612.4 1819.7 605 1799.6C595.1 1772.7 592.9 1765.8 575 1743.4C551.9 1714.5 541 1713.4 515 1687.1C482.5 1654.3 474.2 1647.9 445 1612.1C415.6 1576 409.8 1567.2 385 1527.8C364.7 1495.3 358.7 1488.4 345 1452.8C329.3 1412 328.1 1401.9 320 1359C314.5 1329.9 311.6 1322.8 315 1293.4Z" fill="none" stroke="#6e5a66" stroke-width="4"/>
<path d="M315 1293.4C318.5 1262.7 318.7 1254 335 1227.8C351.3 1201.6 358.7 1197 385 1180.9C418.2 1160.5 427.1 1156.9 465 1148.1C517.9 1135.7 530.8 1130.2 585 1134C623.1 1136.7 631.5 1143.8 665 1162.1C686.6 1174 687.9 1181.8 705 1199.6C728.5 1224.1 731.4 1231.6 755 1255.9C776.5 1278 780.4 1284.1 805 1302.8C839.1 1328.6 885 1354.3 885 1354.3L920 1349.6C920 1349.6 924.6 1282.5 930 1227.8C935.8 1168.6 923.3 1151.2 945 1096.5C954.9 1071.5 970.8 1075.5 995 1063.7C1016.2 1053.3 1021.7 1051.7 1045 1047.8C1071.6 1043.2 1078.4 1040.4 1105 1044.9C1133.6 1049.8 1141.4 1051.6 1165 1068.4C1194.4 1089.2 1220 1126.5 1220 1126.5C1220 1126.5 1247.7 1080.5 1265 1040.2C1291.4 979 1317 901.5 1317 901.5C1317 901.5 1359.8 894.4 1395 894.9C1444.7 895.7 1456.4 894.1 1505 904.3C1547.2 913.2 1556.8 917.1 1595 937.1C1634 957.5 1642.9 963.3 1675 993.4C1706.5 1022.9 1713.8 1030.7 1735 1068.4C1757.1 1107.6 1758.8 1118.5 1770 1162.1C1780.6 1203.4 1777.8 1213.6 1783 1255.9C1785.5 1276.1 1787 1300.9 1787 1300.9C1787 1300.9 1823.5 1329.2 1850 1356C1897 1403.6 1907.2 1414.6 1950 1466C1997.2 1522.7 2006.1 1536.7 2050 1596C2096.1 1658.2 2107.1 1671.6 2150 1736C2188.1 1793.2 2197.4 1805.5 2230 1866C2260.5 1922.7 2267.1 1935.8 2290 1996C2310 2048.6 2313.7 2060.9 2325 2116C2334.1 2160.3 2340.6 2171.1 2335 2216C2329.1 2263.3 2325.7 2275.8 2300 2316C2272.6 2358.9 2263.2 2369 2220 2396C2171.1 2426.6 2156.3 2428.5 2100 2441C2033.8 2455.7 2017.8 2457.9 1950 2456C1859.3 2453.4 1839.8 2444 1750 2431C1637.2 2414.7 1612.1 2411.2 1500 2391C1387.1 2370.7 1362.4 2364 1250 2341C1157.7 2322.1 1135.6 2324 1045 2298C979.8 2279.3 965.1 2273.5 905 2242C851.9 2214.2 839.8 2206.8 795 2167C749 2126.1 740.1 2114.6 705 2064C672.2 2016.7 667.4 2004 645 1951C625.8 1905.7 625.6 1894 613 1846.5C607.5 1825.8 612.4 1819.7 605 1799.6C595.1 1772.7 592.9 1765.8 575 1743.4C551.9 1714.5 541 1713.4 515 1687.1C482.5 1654.3 474.2 1647.9 445 1612.1C415.6 1576 409.8 1567.2 385 1527.8C364.7 1495.3 358.7 1488.4 345 1452.8C329.3 1412 328.1 1401.9 320 1359C314.5 1329.9 311.6 1322.8 315 1293.4Z" fill="#F6C7CD" stroke="#6e5a66" stroke-width="4"/>
<path d="M1045 2286C1045 2286 1157.7 2309.3 1250 2328C1362.5 2350.7 1387.1 2357.7 1500 2378C1612.1 2398.2 1637.2 2402 1750 2418C1839.7 2430.8 1859.4 2439.4 1950 2442C2017.8 2443.9 2033.8 2442.5 2100 2428C2154.1 2416.2 2168.4 2413.9 2215 2384C2256 2357.7 2264.2 2347.3 2290 2306C2312.6 2269.8 2320 2216 2320 2216" fill="none" stroke="#EE9DAE" stroke-width="7"/>
<path d="M640 1816C640 1816 662.9 1924.4 700 2006C731 2074.2 739.6 2090.6 790 2146C831.2 2191.3 900 2226 900 2226" fill="none" stroke="#FFFFFF" stroke-width="7"/>
<g transform="translate(-55,9) scale(1.0,0.9375)">
<path d="M410 1370C410 1370 420.9 1338 440 1320C461 1300.2 470.7 1295.8 500 1285C535 1272.2 550.3 1268 590 1265C626 1262.2 638.5 1265.7 670 1272C695.8 1277.2 706.3 1276.1 725 1292C743.6 1307.8 736.1 1320 750 1340C767.5 1365.2 776.9 1373.5 800 1400C821.9 1425.2 829 1434 850 1455C866.9 1471.9 877.2 1474.8 890 1490C899.7 1501.5 895.7 1510.7 905 1520C913.6 1528.6 920.2 1537.1 930 1530C942.8 1520.7 945.9 1502.1 960 1480C976.3 1454.3 983 1447.6 1000 1420C1018.7 1389.7 1028.3 1378 1040 1350C1048.8 1328.8 1049.6 1322.9 1050 1300C1050.5 1269.7 1044.3 1247.5 1042 1220C1040.6 1202.9 1040 1182 1040 1182C1040 1182 1060.5 1166.9 1080 1163C1105.7 1157.9 1120.8 1157.2 1150 1160C1175.5 1162.5 1186.8 1163.3 1205 1175C1220.9 1185.2 1228 1210 1228 1210C1228 1210 1229.9 1275.7 1228 1320C1226.5 1356.1 1221.4 1363.8 1220 1400C1218.7 1436 1219.8 1444.1 1222 1480C1224.8 1526.7 1223.8 1546.4 1232 1600C1241.3 1660.7 1246.3 1677.5 1262 1740C1276.9 1799.1 1280.5 1812.3 1300 1870C1320.1 1929.4 1326.7 1941.8 1350 2000C1371.7 2054.3 1377.8 2071 1400 2120C1418.7 2161.3 1427.5 2176.2 1445 2210C1458 2235 1464 2239.3 1475 2265C1485.2 2288.8 1488.5 2294.3 1492 2320C1495.3 2344.5 1490 2375 1490 2375C1490 2375 1462.2 2360.2 1440 2352C1420.3 2344.8 1415 2346.3 1395 2340C1372.8 2333 1361.3 2337.9 1345 2322C1328.7 2306.1 1344.4 2286 1325 2272C1305.6 2258 1288.4 2259.7 1262 2262C1237.9 2264.1 1230.7 2286.7 1212 2282C1193.3 2277.3 1192.9 2261.7 1182 2242C1170.3 2221 1174.1 2199 1162 2192C1149.9 2185 1146.5 2207.9 1130 2212C1113.2 2216.2 1104.3 2221 1090 2210C1071.8 2196 1067.9 2177.2 1052 2152C1038 2129.8 1038.3 2118.3 1022 2102C1007.8 2087.8 1001 2088.7 982 2082C961 2074.5 946.5 2084.5 932 2070C917.5 2055.5 927 2040.5 920 2020C913.9 2002.1 916 1988.5 902 1982C888 1975.5 878.7 1996.7 860 1992C841.3 1987.3 834.8 1979.6 822 1962C808.5 1943.3 811 1934.5 802 1912C793 1889.5 795.4 1882.2 782 1862C768 1841 756 1840.7 742 1822C729.9 1805.9 732.1 1799.4 722 1782C709.9 1761 695.1 1748.8 690 1732C686.8 1721.6 709 1716.1 700 1710C688.3 1702.1 661 1697.5 640 1698C625.1 1698.3 624.1 1707.2 610 1712C593.7 1717.6 588.1 1726 570 1722C549 1717.3 540.3 1708.6 520 1692C497.1 1673.3 487.9 1667.7 472 1642C457 1617.8 461.3 1605.3 452 1582C444.5 1563.3 437.8 1561.3 432 1542C425 1518.7 428.3 1505.8 422 1482C416.8 1462.3 407.2 1460.3 405 1440C402.2 1413.9 410 1370 410 1370Z" fill="#B50C4B" stroke="#6e5a66" stroke-width="4"/>
<path d="M570 1440C579 1415.3 594.1 1414 620 1410C655.9 1404.5 665.8 1407.8 700 1420C730.6 1430.9 732 1443.6 760 1460C786.1 1475.2 793.5 1475.5 820 1490C843 1502.6 850.8 1502.1 870 1520C885.5 1534.5 889.9 1539.4 895 1560C903.7 1595 903.8 1604.1 900 1640C897 1668.3 905.5 1687.3 880 1700C847.6 1716.2 835.8 1696 800 1690C754.7 1682.5 745.1 1678.5 700 1670C673.1 1665 663.5 1674.1 640 1660C615.3 1645.2 611.4 1636.5 600 1610C583.7 1571.9 587.2 1560.9 580 1520C573.7 1484.3 557.6 1474.1 570 1440Z" fill="#C0355C"/>
<path d="M960 1560C966.4 1520.3 979.6 1514.7 1000 1480C1024.7 1438 1029.9 1428.3 1060 1390C1079.7 1365 1079.5 1349.1 1110 1340C1133.2 1333 1142.9 1342.9 1160 1360C1181.3 1381.3 1183.5 1390.5 1190 1420C1199.6 1464 1190.9 1475.1 1195 1520C1199.9 1574.2 1200.4 1586.4 1210 1640C1220.6 1699.1 1224.4 1712 1240 1770C1255.9 1829.1 1259.3 1842.4 1280 1900C1299.8 1955 1307.8 1965.9 1330 2020C1348.4 2064.9 1360.5 2072.5 1370 2120C1374.5 2142.5 1381.1 2161 1360 2170C1336.7 2180 1328.1 2154.7 1300 2150C1273.4 2145.6 1264.9 2160.4 1240 2150C1207.6 2136.5 1208.4 2120.7 1180 2100C1158.8 2084.6 1152.5 2083.5 1130 2070C1107.5 2056.5 1099.5 2057.6 1080 2040C1053.9 2016.5 1057.4 2002 1030 1980C1011.1 1964.9 999.6 1974.3 980 1960C949.1 1937.5 951.8 1921.2 920 1900C896.3 1884.2 881.3 1898.9 860 1880C837.4 1859.9 846 1845.6 830 1820C823.3 1809.2 799.8 1807.6 810 1800C823.3 1790 845.2 1801.6 870 1790C914.1 1769.4 942.3 1775.3 960 1730C987.9 1658.8 947.9 1635.5 960 1560Z" fill="#C0355C"/>
</g>
<path d="M1245 1040.2C1245 1040.2 1260.7 1006.7 1285 993.4C1317 975.9 1328.1 977.5 1365 974.6C1409.9 971.1 1420.5 972.4 1465 979.3C1502.1 985.1 1510.7 987.7 1545 1002.8C1583.2 1019.5 1592.3 1023.7 1625 1049.6C1651.5 1070.7 1657.4 1077 1675 1105.9C1693.9 1136.9 1699.9 1144.9 1705 1180.9C1709.2 1210.4 1705 1218.4 1695 1246.5C1686.6 1270.1 1677.8 1271.8 1665 1293.4C1655.3 1309.8 1651.2 1312.8 1645 1330.9C1639.8 1346 1624.3 1362.8 1640 1366C1660 1370 1682.9 1346 1720 1346C1757.1 1346 1766.8 1349.4 1800 1366C1840.2 1386.1 1847.2 1395.2 1880 1426C1919.5 1463.1 1925.9 1473.9 1960 1516C2002.5 1568.5 2011 1580.9 2050 1636C2087.5 1689 2095.6 1701 2130 1756C2163.1 1809 2172.9 1819.6 2200 1876C2227.1 1932.5 2231.3 1946.2 2250 2006C2265.1 2054.5 2270.2 2065.5 2275 2116C2279.3 2160.9 2280.9 2172.3 2270 2216C2260.2 2255 2257.3 2266.4 2230 2296C2201.2 2327.2 2190.1 2332.2 2150 2346C2107.1 2360.8 2092.7 2354 2050 2358C2023.1 2360.5 2015.5 2369.9 1990 2361C1950 2347.1 1937.7 2334.8 1900 2306C1851.9 2269.3 1843.9 2257.7 1800 2216C1753.9 2172.2 1742.6 2163.3 1700 2116C1661.4 2073.2 1653 2063.2 1620 2016C1589.9 1973 1585.1 1962.1 1560 1916C1531.1 1863 1526.1 1850.4 1500 1796C1472.1 1737.9 1465.9 1725 1440 1666C1416.4 1612.5 1414.2 1599.3 1390 1546C1369.2 1500.2 1365.5 1489.4 1340 1446C1320.4 1412.6 1314.8 1405.7 1290 1376C1269.6 1351.6 1258.7 1343 1240 1326C1231.9 1318.6 1223.3 1322.6 1220 1312.1C1213.3 1290.9 1215 1276.1 1215 1246.5C1215 1204.3 1214.7 1190.2 1220 1152.8C1223.1 1130.8 1230.2 1127.5 1235 1105.9C1241.5 1076.7 1245 1040.2 1245 1040.2Z" fill="#B50C4B" stroke="#6e5a66" stroke-width="4"/>
<path d="M1310 1366C1321.9 1351.7 1333.8 1347 1350 1356C1380 1372.7 1379.6 1387.4 1400 1416C1424.7 1450.5 1429.2 1459 1450 1496C1469.7 1531.1 1465.9 1543.8 1490 1576C1507.3 1599.1 1511.3 1613.1 1540 1616C1566.1 1618.6 1566.5 1597.7 1590 1586C1611.7 1575.2 1615.9 1563.8 1640 1566C1670.1 1568.7 1672.3 1584.1 1700 1596C1735.3 1611.1 1745.6 1608.8 1780 1626C1818 1645 1826 1650.5 1860 1676C1898.3 1704.7 1907.2 1711.2 1940 1746C1979.5 1788 1986.5 1799.1 2020 1846C2054.1 1893.7 2063.8 1903.5 2090 1956C2113.6 2003.1 2117.8 2014.8 2130 2066C2140.5 2110 2145.3 2121.1 2140 2166C2136 2200 2134.2 2211.8 2110 2236C2089.9 2256.1 2078.5 2256 2050 2256C2004.1 2256 1992.6 2253 1950 2236C1901.3 2216.5 1893 2206.1 1850 2176C1802.8 2143 1793.9 2133.3 1750 2096C1703.9 2056.8 1694 2047.6 1650 2006C1608.4 1966.6 1598.2 1958.7 1560 1916C1521.6 1873.1 1511.1 1864.5 1480 1816C1438.8 1751.6 1434.2 1734.4 1400 1666C1366.7 1599.4 1357.7 1585.2 1330 1516C1312.6 1472.4 1306.2 1462.6 1300 1416C1297 1393.3 1295.3 1383.6 1310 1366Z" fill="#C0355C"/>
<path d="M1285 1059C1300.9 1031.4 1315.5 1033.4 1345 1021.5C1379.3 1007.7 1388.1 1000.6 1425 1002.8C1463.1 1005 1471.7 1012.2 1505 1030.9C1540.2 1050.7 1547.7 1057.3 1575 1087.1C1602.4 1117.1 1615.1 1122.8 1625 1162.1C1634.3 1199.2 1627.1 1210.2 1615 1246.5C1604.1 1279.3 1601.3 1289.7 1575 1312.1C1549.2 1334.1 1538.9 1340.2 1505 1340.2C1475.2 1340.2 1468.5 1330.5 1445 1312.1C1413.5 1287.5 1412 1276 1385 1246.5C1358 1217 1354.2 1208.2 1325 1180.9C1304.5 1161.6 1283.8 1170.1 1275 1143.4C1263.1 1107 1266 1092.2 1285 1059Z" fill="#C0355C"/>
<g transform="translate(-55,9) scale(1.0,0.9375)">
<path d="M890 1480C901.7 1463.3 917.9 1524.1 940 1510C976.7 1486.7 970.9 1453.7 1000 1410C1016 1386 1018.6 1379.3 1040 1360C1064.1 1338.3 1083.3 1323.3 1100 1320C1114 1317.2 1097.9 1338.2 1090 1350C1070.5 1379.2 1060.9 1381.8 1040 1410C1015.9 1442.6 1010.9 1450.2 990 1485C970.3 1517.8 964.4 1524.6 950 1560C939.5 1585.8 936.2 1592.2 935 1620C933.9 1647.3 937.7 1653.6 945 1680C951.3 1702.5 965 1728 965 1728C965 1728 937.1 1711.7 925 1690C909.1 1661.4 910 1652.4 905 1620C900.9 1593.3 907.9 1586.8 905 1560C901.1 1523.6 878.3 1496.7 890 1480Z" fill="#F6C7CD" stroke="#6e5a66" stroke-width="3"/>
<path d="M600 1720C603.3 1712 626.3 1704.6 650 1698C671.8 1691.9 677.4 1689.9 700 1692C727.8 1694.5 734.3 1696.9 760 1708C793.3 1722.4 800.5 1726.9 830 1748C855.7 1766.3 882 1795 882 1795C882 1795 864.2 1786 850 1778C818.3 1760.3 813.3 1752.4 780 1738C754.3 1726.9 747.9 1722.9 720 1722C705.3 1721.5 704.7 1735 690 1735C666.8 1735 662.9 1725.8 640 1722C622.2 1719 596.7 1728 600 1720Z" fill="#F6C7CD" stroke="#6e5a66" stroke-width="3"/>
<path d="M1040 1340C1040 1340 1056.6 1327.9 1072 1322C1083.1 1317.8 1098 1318 1098 1318C1098 1318 1080.7 1349.7 1062 1362C1054 1367.3 1048.7 1361.7 1042 1355C1037.2 1350.2 1040 1340 1040 1340Z" fill="#F6C7CD" stroke="#6e5a66" stroke-width="3"/>
<path d="M470 1320C480 1300.7 495.8 1300.9 520 1292C554.8 1279.1 562.9 1272.6 600 1272C623.9 1271.6 636.7 1270.7 650 1290C660.5 1305.3 650.8 1314.9 640 1330C626.9 1348.3 621.2 1352.6 600 1360C574.4 1369 567 1367.5 540 1365C516.6 1362.9 509.8 1362.7 490 1350C476.4 1341.2 462.5 1334.4 470 1320Z" fill="#A00840"/>
<path d="M500 1352C500 1352 532.4 1368.8 560 1366C589.3 1363.1 595.3 1356.1 620 1340C635 1330.3 646 1310 646 1310" fill="none" stroke="#F7C9D2" stroke-width="6" stroke-linecap="round"/>
<path d="M1060 1170C1085 1157.3 1109.5 1158.9 1150 1162C1180.5 1164.4 1198.3 1165.3 1215 1182C1225.7 1192.7 1213.9 1206.1 1200 1212C1171.7 1224 1161.5 1221 1130 1218C1104.1 1215.5 1096.5 1214.7 1075 1200C1062.6 1191.5 1046.5 1176.8 1060 1170Z" fill="#A00840"/>
<path d="M1085 1198C1085 1198 1119.3 1217 1150 1220C1177.2 1222.6 1210 1210 1210 1210" fill="none" stroke="#F7C9D2" stroke-width="5" stroke-linecap="round"/>
</g>
<path d="M1200 1346C1200 1346 1244.8 1485.3 1290 1596C1334.9 1706 1349.1 1728.6 1400 1836C1430.2 1899.7 1433.1 1916 1470 1976C1505.4 2033.5 1513.3 2047.3 1560 2096C1617.4 2155.9 1633.9 2165.9 1700 2216C1764.6 2265 1783.3 2272.7 1850 2316C1872 2330.3 1900 2346 1900 2346" fill="none" stroke="#FFFFFF" stroke-width="7"/>
<path d="M1215 1346C1215 1346 1259.4 1485.5 1305 1596C1349.5 1703.9 1364.1 1725.9 1415 1831C1445.2 1893.3 1448.5 1909.2 1485 1968C1519.4 2023.4 1526.7 2037.1 1572 2084C1628.6 2142.6 1710 2201 1710 2201" fill="none" stroke="#E87A92" stroke-width="5"/>
<path d="M1105 1255.9C1105 1255.9 1111.6 1279.7 1125 1293.4C1137.5 1306.2 1142.9 1307 1160 1312.1C1180.4 1318.2 1186.1 1321.9 1207 1317.8C1226.5 1313.9 1231.1 1309.4 1245 1295.2C1263.4 1276.5 1277 1246.5 1277 1246.5C1277 1246.5 1276.2 1280.2 1263 1302.8C1251.6 1322.3 1246.3 1328 1225 1335.6C1201.7 1343.8 1194.5 1339 1170 1335.6C1149 1332.6 1138.4 1337.9 1125 1321.5C1105.5 1297.6 1105 1255.9 1105 1255.9Z" fill="#F6C7CD" stroke="#6e5a66" stroke-width="3"/>
<path d="M1230 1110.6C1230 1110.6 1262.2 1125.7 1285 1143.4C1314.3 1166 1321.2 1171.3 1345 1199.6C1371.1 1230.7 1375.1 1239.3 1395 1274.6C1415.7 1311.2 1419.9 1319.8 1435 1359C1449.2 1396 1451.6 1404.7 1460 1443.4C1466.1 1471.6 1467 1507.1 1467 1507.1C1467 1507.1 1454.5 1477.4 1445 1452.8C1431.1 1417 1431.7 1407.5 1415 1373.1C1397.8 1337.6 1392.3 1330.5 1370 1298.1C1351.7 1271.3 1347.6 1265 1325 1241.8C1309.1 1225.5 1304.6 1222.4 1285 1210.9C1268.3 1201.1 1254.3 1211.9 1245 1194.9C1226.7 1161.5 1230 1110.6 1230 1110.6Z" fill="#F6C7CD" stroke="#6e5a66" stroke-width="3"/>
<path d="M1790 1271C1790 1271 1750.6 1288.5 1720 1306C1687.5 1324.6 1677.1 1325.1 1650 1351C1624.3 1375.6 1619.7 1383.6 1605 1416C1595.6 1436.7 1594 1443.6 1598 1466C1602 1488.6 1622 1511 1622 1511C1622 1511 1618.9 1480 1625 1456C1631.7 1429.7 1632.6 1421.9 1650 1401C1667.6 1379.9 1674.6 1376.6 1700 1366C1729.7 1353.6 1737.9 1348.7 1770 1351C1803.4 1353.4 1830 1387.7 1840 1376C1850 1364.3 1814 1345.3 1800 1316C1791.1 1297.3 1790 1271 1790 1271Z" fill="#F6C7CD" stroke="#6e5a66" stroke-width="3"/>
<path d="M1550 1030.9C1550 1030.9 1566.1 1044.6 1575 1059C1582.1 1070.4 1585 1087.1 1585 1087.1" fill="none" stroke="#E9A9BA" stroke-width="7" stroke-linecap="round"/>
<path d="M1625 1129.3C1625 1129.3 1641.3 1140 1650 1152.8C1656.2 1161.8 1657 1176.2 1657 1176.2" fill="none" stroke="#E9A9BA" stroke-width="7" stroke-linecap="round"/>
</g>
<g transform="translate(1762.6,1118.5) scale(0.23095)">
<path d="M1270 2512C1270 2512 1260 2630.3 1270 2702C1272.4 2719.4 1282.8 2723.2 1300 2727C1353.3 2738.7 1371.3 2737 1430 2737C1493.2 2737 1512.7 2738.7 1570 2727C1587.9 2723.4 1599.3 2720.1 1602 2702C1612.7 2630.3 1602 2512 1602 2512L1270 2512Z" fill="#F04E30" stroke="#6e5a66" stroke-width="4"/>
<path d="M1400 2512C1400 2512 1396.7 2598.7 1420 2662C1430 2689 1442.6 2693.2 1470 2702C1508.6 2714.4 1519.5 2708.6 1560 2707C1578.5 2706.3 1596.1 2715.1 1600 2697C1614 2632 1602 2512 1602 2512L1400 2512Z" fill="#E6291B"/>
<path d="M360 1045C360 1045 262.7 1037.7 200 1042C185.5 1043 179.8 1045.8 172 1058C162.1 1073.4 161.1 1079.9 164 1098C166.9 1116.3 170 1121.9 184 1134C194.9 1143.4 200.6 1141.5 215 1142C270.3 1144 350 1140 350 1140L360 1045Z" fill="#F04E30" stroke="#6e5a66" stroke-width="4"/>
<path d="M320 1180C320 1180 229.3 1174 170 1180C155.1 1181.5 148.5 1184.5 142 1198C130.8 1221.4 129.8 1229.4 134 1255C137.4 1276.1 141.6 1282.3 158 1296C169.2 1305.4 175.4 1301.6 190 1302C237.3 1303.3 300 1300 300 1300L320 1180Z" fill="#F04E30" stroke="#6e5a66" stroke-width="4"/>
<path d="M200 1062L330 1062" fill="none" stroke="#FBC0B2" stroke-width="7" stroke-linecap="round"/>
<path d="M170 1200L290 1200" fill="none" stroke="#FBC0B2" stroke-width="7" stroke-linecap="round"/>
<path d="M190 1120C233.3 1108.3 290 1098.3 340 1105C355.6 1107.1 355.2 1135.9 340 1140C296.7 1151.7 260 1146.7 210 1140C197.4 1138.3 177.7 1123.3 190 1120Z" fill="#E6291B"/>
<path d="M160 1275C198.3 1260 253.3 1247.3 300 1255C319.1 1258.1 318 1290.9 300 1298C261.7 1313 231.7 1307.7 185 1300C169.3 1297.4 145.2 1280.8 160 1275Z" fill="#E6291B"/>
<path d="M1700 1000C1700 1000 1715.5 966.5 1740 955C1790.4 931.4 1810.7 926.7 1860 925C1876.9 924.4 1881.5 934.4 1888 950C1894.1 964.6 1891.8 970.7 1885 985C1874 1008.2 1868.1 1011.9 1850 1030C1825.1 1054.9 1819.7 1061.1 1790 1080C1769.6 1093 1740 1100 1740 1100L1700 1000Z" fill="#F04E30" stroke="#6e5a66" stroke-width="4"/>
<path d="M1790 1120C1790 1120 1805.5 1086.7 1830 1075C1867.2 1057.3 1881.3 1054.7 1920 1058C1936.8 1059.4 1941.5 1068.7 1946 1085C1951.5 1104.7 1946.9 1110.8 1940 1130C1928.2 1163.2 1919.8 1168 1905 1200C1892.7 1226.6 1903.9 1243.1 1880 1260C1857.9 1275.6 1820 1260 1820 1260L1790 1120Z" fill="#F04E30" stroke="#6e5a66" stroke-width="4"/>
<path d="M1760 965L1860 942" fill="none" stroke="#FBC0B2" stroke-width="7" stroke-linecap="round"/>
<path d="M1840 1090L1915 1075" fill="none" stroke="#FBC0B2" stroke-width="7" stroke-linecap="round"/>
<path d="M375 410C375 410 376.7 569.5 376 700C375.4 812.5 380.6 837.8 372 950C368.8 991.6 356.9 998.9 350 1040C338 1111.6 327.8 1127.5 330 1200C341.7 1583.3 367.4 1744.2 385 2190C393.5 2405.8 379.7 2500 388 2670C388.8 2686.7 393.8 2695.8 410 2700C464 2714 486.8 2712 550 2712C613.2 2712 636.7 2714 690 2700C705.7 2695.9 709.4 2686.2 710 2670C715.3 2536.7 704.6 2466.5 706 2300C709.1 1940 717.4 1860 720 1500C721.5 1293 721.7 1223.3 715 1040C713.5 999 704.3 990.8 700 950C693 882.7 691.8 867.6 690 800C685.5 624.5 686 410 686 410L375 410Z" fill="#A5C8E4" stroke="#6e5a66" stroke-width="4"/>
<path d="M450 2272C450 2272 513.9 2323.5 560 2372C599.7 2413.8 615.3 2419.9 640 2472C659.5 2513.1 660 2526.8 655 2572C650.7 2611.1 648.8 2625.3 620 2652C583.8 2685.5 496.7 2682 520 2697C543.3 2712 628 2708.7 690 2697C707 2693.8 705.3 2679.3 706 2662C711.3 2533.7 706 2312 706 2312L450 2272Z" fill="#80B3DA"/>
<path d="M640 440C640 440 658 527.7 655 600C651.2 690.9 652.5 713.2 625 800C608.8 851.2 596 860.2 560 900C529.8 933.3 518.4 936.5 480 960C437.1 986.2 380 1010 380 1010L700 1040C700 1040 692.5 908.1 690 800C686.2 638 686 440 686 440L640 440Z" fill="#80B3DA"/>
<path d="M398 470C398 470 402.4 596.5 402 700C401.5 808 396 940 396 940" fill="none" stroke="#DCEAF5" stroke-width="8" stroke-linecap="round"/>
<ellipse cx="530" cy="410" rx="155" ry="40" fill="#DCEAF5" stroke="#6e5a66" stroke-width="4"/>
<ellipse cx="530" cy="414" rx="95" ry="22" fill="#6FA7D2"/>
<ellipse cx="530" cy="420" rx="70" ry="13" fill="#A5C8E4"/>
<path d="M376 532C376 532 344.9 526.7 320 520C291.7 512.3 287.3 501.8 258 500C240.7 498.9 232.9 500.4 222 514C208.6 530.7 208.5 538.7 210 560C211.4 579.7 211.1 589.8 228 600C265.3 622.7 322 628 322 628C322 628 268 628 228 640C212.7 644.6 209.2 649.8 202 664C193.5 680.7 190.6 686.8 195 705C199.4 723.1 202.4 731.8 220 738C254 750 264 741.5 300 742C334.2 742.4 376 740 376 740L376 532Z" fill="#A5C8E4" stroke="#6e5a66" stroke-width="4"/>
<path d="M240 722C240 708.7 275.3 714.8 300 700C330.1 681.9 334.7 666.7 360 650C366 646 376 650 376 650L376 738C376 738 334 744 300 740C272 736.7 240 735.3 240 722Z" fill="#80B3DA"/>
<path d="M235 595C226.7 588.3 270.8 603.1 300 600C315 598.4 321.7 578.3 330 585C338.3 591.7 340.8 618.3 325 620C293.3 623.3 243.3 601.7 235 595Z" fill="#80B3DA"/>
<path d="M940 1435C940 1435 890.3 1411.5 860 1380C830.6 1349.4 825.8 1339.4 810 1300C798.2 1270.5 810.1 1260.2 800 1230C787.3 1191.8 776.3 1186.8 760 1150C740.3 1105.7 732.9 1096.7 720 1050C707.9 1006.1 709 995.3 705 950C699.1 882.7 699.1 867.6 698 800C696.9 732.5 695.2 717.3 700 650C702.9 609 705 599.8 715 560C725.4 518.6 726.8 508.6 745 470C765.3 427.1 770.5 417.2 800 380C831.7 340.1 848.2 339.8 880 300C897.3 278.3 899.6 271.5 908 245C915.6 221.2 907.8 213.9 915 190C920.2 172.6 920.5 165.9 935 155C949.8 143.9 956.5 143.2 975 145C990.4 146.5 996.3 149.1 1005 162C1014.7 176.4 1004.5 184.3 1012 200C1018.6 213.8 1020 222 1035 225C1052.3 228.5 1060 225 1072 212C1089.4 193.2 1085.4 183.7 1095 160C1102.5 141.4 1097.2 133.4 1110 118C1121.3 104.4 1127.3 100.7 1145 100C1164.2 99.2 1172 100.8 1185 115C1199.4 130.7 1198.7 138.7 1200 160C1201.1 177.7 1189.3 180.7 1190 198C1190.3 206.3 1194.6 215.8 1202 212C1213.7 206 1216.1 195.3 1225 180C1235.5 161.9 1230.9 153.5 1245 138C1254.9 127.1 1260.4 123.4 1275 125C1292.3 126.9 1297.6 131.1 1308 145C1319.3 160 1318.6 166.3 1320 185C1321.8 209.8 1302.7 218.4 1315 240C1333.3 272 1353.4 264.4 1380 290C1414.5 323.2 1422 331.2 1450 370C1480.7 412.5 1487.5 422.6 1510 470C1528.3 508.6 1530.3 518.4 1540 560C1549.3 599.8 1547.5 609.4 1552 650C1557.4 699.4 1559.2 710.4 1562 760C1565.5 822.9 1566 900 1566 900C1566 900 1538.7 949.4 1500 960C1378 993.3 1311.9 922.4 1200 1000C1068.7 1091.1 1074.7 1153.9 1010 1300C984.5 1357.6 1005 1440 1005 1440L940 1435Z" fill="#F04E30" stroke="#6e5a66" stroke-width="4"/>
<path d="M1090 560C1090 560 1107.3 529.8 1130 515C1158.2 496.5 1166.5 492.2 1200 488C1240.3 483 1249.9 488.6 1290 495C1340.1 503 1349.3 521.5 1400 520C1430.2 519.1 1437.4 510.1 1460 490C1479.6 472.6 1492.2 466.1 1490 440C1487 404.6 1443.3 362 1450 372C1456.7 382 1487.7 423.4 1510 470C1528.4 508.5 1530.3 518.4 1540 560C1549.3 599.8 1547.5 609.4 1552 650C1557.4 699.4 1559.2 710.4 1562 760C1565.5 822.9 1566 900 1566 900L1440 900L1440 600L1090 560Z" fill="#E6291B"/>
<path d="M935 300C935 300 872.3 350.3 830 400C795.2 440.9 786.3 450.7 765 500C742.9 551.1 742.8 564.9 735 620C726.1 682.4 728 760 728 760" fill="none" stroke="#FBC0B2" stroke-width="7" stroke-linecap="round"/>
<path d="M985 150C989.4 139.7 1000.3 154.8 1005 165C1012.5 181.5 1015 193.3 1010 205C1006.3 213.5 993.8 208.4 990 200C981.7 181.7 980 161.7 985 150Z" fill="#E6291B"/>
<path d="M1165 108C1167.7 98 1181.5 110.3 1188 120C1198.5 135.6 1200 141.2 1200 160C1200 178.8 1197.3 190 1188 200C1182.2 206.2 1173.3 198.4 1172 190C1169.3 173.3 1181.6 168.3 1180 150C1178.3 130 1162.3 118 1165 108Z" fill="#E6291B"/>
<path d="M1290 132C1294 121.3 1304.3 138 1310 148C1318.5 163 1319.3 167.8 1320 185C1321.1 209.9 1324 226.7 1314 240C1306.4 250.2 1293.3 237.3 1290 225C1284.7 205.1 1298 200.6 1298 180C1298 158.1 1286 142.7 1290 132Z" fill="#E6291B"/>
<path d="M965 1440C965 1440 969.6 1362.9 975 1300C980.8 1232.4 977.8 1216.7 990 1150C1002.6 1081.3 1009.9 1066.9 1030 1000C1043.7 954.3 1050.1 945.3 1065 900C1070.8 882.3 1077.3 878.6 1076 860C1074.9 844.7 1065.5 844.3 1060 830C1051.5 808.1 1048.6 803.2 1045 780C1039.5 744.3 1038.8 736.1 1040 700C1041.1 668.2 1038.7 659.7 1050 630C1059.5 605 1064.4 599 1085 582C1106.1 564.6 1112.7 558.2 1140 556C1211.7 550.3 1227.9 562.6 1300 565C1390 568 1410 568.6 1500 568C1630.5 567.2 1686 558 1790 562C1802.8 562.5 1808 567.9 1812 580C1820.6 605.7 1819.2 613.1 1816 640C1813.7 659.2 1818.4 673.8 1800 680C1748.7 697.3 1662 692 1662 692C1662 692 1650 694.7 1650 700C1650 705.3 1662 708 1662 708C1662 708 1742 703.3 1790 714C1803.4 717 1804.4 726.4 1806 740C1809.1 767 1808 774.1 1800 800C1795.8 813.4 1793.9 821.9 1780 824C1713.3 834 1680.9 824.8 1600 830C1554.8 832.9 1543.8 830.5 1500 842C1470.8 849.7 1463.8 853.4 1440 872C1417.8 889.3 1414.9 896.2 1400 920C1378.7 954.1 1376.3 963.2 1360 1000C1340.3 1044.3 1337 1054.6 1320 1100C1303.3 1144.6 1285 1200 1285 1200L1000 1440L965 1440Z" fill="#A5C8E4" stroke="#6e5a66" stroke-width="4"/>
<path d="M1042 700C1043.7 700 1039.4 745.4 1050 780C1059.2 809.9 1071 812 1085 840C1093.6 857.2 1103 861 1100 880C1091.7 933.3 1079.5 946.5 1060 1000C1043.4 1045.5 1038 1055 1020 1100C1011 1122.5 1000 1150 1000 1150L990 1150C990 1150 1009.9 1066.9 1030 1000C1043.7 954.3 1050.1 945.3 1065 900C1070.8 882.3 1077.3 878.6 1076 860C1074.9 844.7 1065.5 844.3 1060 830C1051.5 808.1 1048.2 803.3 1045 780C1040.1 744.3 1040.3 700 1042 700Z" fill="#80B3DA"/>
<path d="M1000 1105C1000 1105 1053.8 1083.5 1100 1075C1144.4 1066.8 1155.2 1073.6 1200 1068C1245.4 1062.3 1300 1050 1300 1050L1290 1120C1290 1120 1241.1 1105.4 1200 1100C1155.3 1094.1 1144.2 1086.2 1100 1095C1051.6 1104.7 1000 1140 1000 1140L1000 1105Z" fill="#80B3DA"/>
<path d="M990 1150C980 1200 980.8 1232.4 975 1300C969.6 1362.9 956.7 1393.3 965 1440C967.8 1455.5 997.8 1455.6 1000 1440C1013.3 1343.3 1008.3 1246.7 1005 1150C1004.8 1143.3 991.3 1143.4 990 1150Z" fill="#80B3DA"/>
<path d="M1150 572C1150 572 1232.4 577.7 1300 580C1390 583.1 1410 584.4 1500 584C1626 583.5 1780 578 1780 578" fill="none" stroke="#DCEAF5" stroke-width="9" stroke-linecap="round"/>
<path d="M1085 880C1085 880 1065.1 934.8 1050 980C1033.6 1029.3 1015 1090 1015 1090" fill="none" stroke="#DCEAF5" stroke-width="7" stroke-linecap="round"/>
<path d="M1665 700L1790 698" fill="none" stroke="#DCEAF5" stroke-width="6" stroke-linecap="round"/>
<path d="M350 1040C350 1040 385.9 1012.5 420 1000C454.4 987.4 463.5 988 500 985C544.8 981.3 555.3 980.2 600 985C627.9 988 635.1 989 660 1002C687.9 1016.5 697.4 1019 715 1045C743.8 1087.6 738.5 1103.3 760 1150C776.8 1186.6 788.2 1191.5 800 1230C812 1269.1 797.8 1281.7 812 1320C843.3 1404.5 900 1500 900 1500L800 1900C800 1900 744 1980 700 2000C679 2009.5 671.3 1946.7 668 1960C664.7 1973.3 699.2 2003.8 690 2040C683.5 2065.4 661.7 2055.2 640 2070C622 2082.3 608.3 2079.1 602 2100C595.3 2122.4 612.2 2126.9 616 2150C620.4 2176.7 628 2184.1 620 2210C611.7 2237 603.4 2241.5 582 2260C561.9 2277.4 555.7 2281.3 530 2288C512.5 2292.6 507.3 2289.4 490 2284C466.2 2276.6 459.1 2276.1 440 2260C413.1 2237.4 408.6 2229.8 390 2200C363.3 2157.3 361.6 2145.4 340 2100C316.6 2050.9 308.1 2041.3 290 1990C268.3 1928.4 263.5 1914.3 252 1850C240 1783.3 241.8 1767.7 238 1700C234.2 1632.6 232.3 1617.5 235 1550C237.7 1482.2 239.9 1467.1 250 1400C260.2 1331.9 265.6 1317.3 280 1250C292.6 1191.3 291 1177 310 1120C322.7 1081.8 350 1040 350 1040Z" fill="#C49DC0" stroke="#6e5a66" stroke-width="4"/>
<path d="M600 1830C641.2 1881.6 642 1899.3 668 1960C682.7 1994.3 699.2 2003.8 690 2040C683.5 2065.4 661.7 2055.2 640 2070C622 2082.3 608.3 2079.1 602 2100C595.3 2122.4 612.2 2126.9 616 2150C620.4 2176.7 628 2184.1 620 2210C611.7 2237 603.4 2241.5 582 2260C561.9 2277.4 555.7 2281.3 530 2288C512.5 2292.6 493.1 2301.8 490 2284C486.7 2264.7 509.4 2255.7 520 2230C534.3 2195.1 540 2187.4 545 2150C549.2 2118.7 535.8 2111.3 540 2080C545 2042.6 558.8 2037.2 565 2000C572.4 1955.6 575.6 1944.7 570 1900C564.2 1853.4 530 1823.3 540 1800C550 1776.7 581.1 1806.4 600 1830Z" fill="#B084AE"/>
<path d="M390 1290C390 1285 412.5 1254 440 1235C472.3 1212.6 482.1 1210.4 520 1200C572.8 1185.5 590.1 1202.5 640 1180C683.6 1160.4 694.9 1150.7 720 1110C734.2 1087 706.7 1036.7 720 1050C733.3 1063.3 740.3 1105.7 760 1150C776.3 1186.8 788.2 1191.5 800 1230C812 1269.1 825.3 1306.7 812 1320C798.7 1333.3 783.2 1292.7 760 1270C741.8 1252.2 742 1242.8 720 1230C686.8 1210.6 678.3 1202.9 640 1200C585.7 1195.9 572.8 1201.8 520 1215C481.9 1224.5 474 1230.4 440 1250C415 1264.4 390 1295 390 1290Z" fill="#B084AE"/>
<path d="M430 1030C430 1030 374.7 1071.8 350 1120C320.2 1178.1 325.7 1196.2 312 1260C298.6 1322.4 290 1400 290 1400" fill="none" stroke="#E3CFE2" stroke-width="9" stroke-linecap="round"/>
<path d="M1380 900C1380 900 1411.6 881.6 1440 880C1494.1 877 1507.4 876.9 1560 890C1616.8 904.2 1629.8 909.9 1680 940C1721 964.6 1728.5 974 1760 1010C1792.1 1046.6 1799.2 1056 1820 1100C1840.1 1142.5 1838 1154.6 1850 1200C1860.6 1240.1 1863.1 1249.1 1870 1290C1873 1307.8 1877.8 1312.9 1872 1330C1863.6 1354.6 1840 1378 1840 1378L1700 1400L1300 1100L1380 900Z" fill="#C49DC0" stroke="#6e5a66" stroke-width="4"/>
<path d="M1640 925C1656.7 911.7 1676.1 933.1 1700 950C1731.2 972.1 1736.1 980.2 1760 1010C1790.4 1048 1799.2 1056 1820 1100C1840.1 1142.5 1838 1154.6 1850 1200C1860.6 1240.1 1863.1 1249.1 1870 1290C1873 1307.8 1877.8 1312.9 1872 1330C1863.6 1354.6 1851 1401.5 1840 1378C1824.3 1344.7 1838.2 1295.6 1825 1230C1815.6 1183.3 1812.3 1172.2 1790 1130C1769 1090.2 1761.8 1081.8 1730 1050C1698.2 1018.2 1676.3 1026.5 1650 990C1632.7 966 1623.3 938.3 1640 925Z" fill="#B084AE"/>
<clipPath id="hb3"><path d="M370 1370C373.5 1337.4 373.5 1328.3 390 1300C406 1272.5 413.4 1267.4 440 1250C472.9 1228.5 481.9 1224.5 520 1215C572.8 1201.8 585.7 1195.9 640 1200C678.3 1202.9 686.8 1210.6 720 1230C742 1242.8 743 1251.1 760 1270C783.5 1296.1 786.4 1304 810 1330C831.4 1353.5 835.2 1360 860 1380C894 1407.5 940 1435 940 1435L975 1430C975 1430 979.6 1358.4 985 1300C990.8 1236.9 978.3 1218.3 1000 1160C1009.6 1134.3 1025.6 1137.7 1050 1125C1071.1 1114 1076.6 1112.3 1100 1108C1126.6 1103.2 1133.4 1100.1 1160 1105C1188.8 1110.3 1196.7 1112.4 1220 1130C1249.7 1152.5 1275 1192 1275 1192C1275 1192 1302.7 1142.7 1320 1100C1346.5 1034.6 1372 952 1372 952C1372 952 1414.8 944.4 1450 945C1499.7 945.8 1511.5 944.1 1560 955C1602.4 964.5 1612.1 968.8 1650 990C1689.3 1012 1698.2 1018.2 1730 1050C1761.8 1081.8 1769 1090.2 1790 1130C1812.3 1172.2 1813.9 1183.6 1825 1230C1835.6 1274.1 1832.7 1284.9 1838 1330C1840.4 1350.2 1842 1375 1842 1375C1842 1375 1858.7 1330 1878 1325C1896 1320.3 1891.3 1343.6 1900 1360C1927.3 1411.7 1936 1424.6 1960 1480C1994.6 1559.7 2000.5 1578.3 2030 1660C2059 1740.3 2068.2 1757.5 2090 1840C2108.7 1910.8 2108.4 1927.7 2120 2000C2128.6 2053.7 2131.2 2065.7 2135 2120C2137.9 2161.3 2139.3 2170.8 2135 2212C2128 2280.1 2129.9 2296.5 2110 2362C2091.3 2423.7 2086.8 2439.1 2050 2492C2013.7 2544.2 2003.6 2557.7 1950 2592C1888.8 2631.2 1870.6 2634.8 1800 2652C1711.9 2673.4 1690.7 2677 1600 2677C1509.3 2677 1488.9 2669.8 1400 2652C1308.5 2633.7 1289.4 2623.8 1200 2597C1109.4 2569.8 1089.3 2563.3 1000 2532C909.3 2500.2 889.2 2492.7 800 2457C731.7 2429.7 712.8 2430.4 650 2392C590 2355.3 530 2292 530 2292C530 2292 561.7 2278.5 582 2260C602.9 2241 611.7 2237 620 2210C628 2184.1 620.4 2176.7 616 2150C612.2 2126.9 596 2122.6 602 2100C608.4 2076 626.2 2080.7 640 2060C653.6 2039.5 655.4 2033.7 662 2010C668.1 1988.2 668.5 1982.7 668 1960C667.5 1937.2 667.4 1931.5 660 1910C650.1 1881.5 648.1 1874.1 630 1850C607.1 1819.5 596 1818 570 1790C537.5 1754.9 529.1 1748 500 1710C470.4 1671.3 464.7 1662 440 1620C419.6 1585.3 413.7 1577.9 400 1540C384.2 1496.4 383.1 1485.7 375 1440C369.5 1408.9 366.6 1401.4 370 1370Z"/></clipPath>
<path d="M370 1370C373.5 1337.4 373.5 1328.3 390 1300C406 1272.5 413.4 1267.4 440 1250C472.9 1228.5 481.9 1224.5 520 1215C572.8 1201.8 585.7 1195.9 640 1200C678.3 1202.9 686.8 1210.6 720 1230C742 1242.8 743 1251.1 760 1270C783.5 1296.1 786.4 1304 810 1330C831.4 1353.5 835.2 1360 860 1380C894 1407.5 940 1435 940 1435L975 1430C975 1430 979.6 1358.4 985 1300C990.8 1236.9 978.3 1218.3 1000 1160C1009.6 1134.3 1025.6 1137.7 1050 1125C1071.1 1114 1076.6 1112.3 1100 1108C1126.6 1103.2 1133.4 1100.1 1160 1105C1188.8 1110.3 1196.7 1112.4 1220 1130C1249.7 1152.5 1275 1192 1275 1192C1275 1192 1302.7 1142.7 1320 1100C1346.5 1034.6 1372 952 1372 952C1372 952 1414.8 944.4 1450 945C1499.7 945.8 1511.5 944.1 1560 955C1602.4 964.5 1612.1 968.8 1650 990C1689.3 1012 1698.2 1018.2 1730 1050C1761.8 1081.8 1769 1090.2 1790 1130C1812.3 1172.2 1813.9 1183.6 1825 1230C1835.6 1274.1 1832.7 1284.9 1838 1330C1840.4 1350.2 1842 1375 1842 1375C1842 1375 1858.7 1330 1878 1325C1896 1320.3 1891.3 1343.6 1900 1360C1927.3 1411.7 1936 1424.6 1960 1480C1994.6 1559.7 2000.5 1578.3 2030 1660C2059 1740.3 2068.2 1757.5 2090 1840C2108.7 1910.8 2108.4 1927.7 2120 2000C2128.6 2053.7 2131.2 2065.7 2135 2120C2137.9 2161.3 2139.3 2170.8 2135 2212C2128 2280.1 2129.9 2296.5 2110 2362C2091.3 2423.7 2086.8 2439.1 2050 2492C2013.7 2544.2 2003.6 2557.7 1950 2592C1888.8 2631.2 1870.6 2634.8 1800 2652C1711.9 2673.4 1690.7 2677 1600 2677C1509.3 2677 1488.9 2669.8 1400 2652C1308.5 2633.7 1289.4 2623.8 1200 2597C1109.4 2569.8 1089.3 2563.3 1000 2532C909.3 2500.2 889.2 2492.7 800 2457C731.7 2429.7 712.8 2430.4 650 2392C590 2355.3 530 2292 530 2292C530 2292 561.7 2278.5 582 2260C602.9 2241 611.7 2237 620 2210C628 2184.1 620.4 2176.7 616 2150C612.2 2126.9 596 2122.6 602 2100C608.4 2076 626.2 2080.7 640 2060C653.6 2039.5 655.4 2033.7 662 2010C668.1 1988.2 668.5 1982.7 668 1960C667.5 1937.2 667.4 1931.5 660 1910C650.1 1881.5 648.1 1874.1 630 1850C607.1 1819.5 596 1818 570 1790C537.5 1754.9 529.1 1748 500 1710C470.4 1671.3 464.7 1662 440 1620C419.6 1585.3 413.7 1577.9 400 1540C384.2 1496.4 383.1 1485.7 375 1440C369.5 1408.9 366.6 1401.4 370 1370Z" fill="#FDE8EA"/>
<g clip-path="url(#hb3)"><path d="M370 1370C373.5 1337.4 373.5 1328.3 390 1300C406 1272.5 413.4 1267.4 440 1250C472.9 1228.5 481.9 1224.5 520 1215C572.8 1201.8 585.7 1195.9 640 1200C678.3 1202.9 686.8 1210.6 720 1230C742 1242.8 743 1251.1 760 1270C783.5 1296.1 786.4 1304 810 1330C831.4 1353.5 835.2 1360 860 1380C894 1407.5 940 1435 940 1435L975 1430C975 1430 979.6 1358.4 985 1300C990.8 1236.9 978.3 1218.3 1000 1160C1009.6 1134.3 1025.6 1137.7 1050 1125C1071.1 1114 1076.6 1112.3 1100 1108C1126.6 1103.2 1133.4 1100.1 1160 1105C1188.8 1110.3 1196.7 1112.4 1220 1130C1249.7 1152.5 1275 1192 1275 1192C1275 1192 1302.7 1142.7 1320 1100C1346.5 1034.6 1372 952 1372 952C1372 952 1414.8 944.4 1450 945C1499.7 945.8 1511.5 944.1 1560 955C1602.4 964.5 1612.1 968.8 1650 990C1689.3 1012 1698.2 1018.2 1730 1050C1761.8 1081.8 1769 1090.2 1790 1130C1812.3 1172.2 1813.9 1183.6 1825 1230C1835.6 1274.1 1832.7 1284.9 1838 1330C1840.4 1350.2 1842 1375 1842 1375C1842 1375 1858.7 1330 1878 1325C1896 1320.3 1891.3 1343.6 1900 1360C1927.3 1411.7 1936 1424.6 1960 1480C1994.6 1559.7 2000.5 1578.3 2030 1660C2059 1740.3 2068.2 1757.5 2090 1840C2108.7 1910.8 2108.4 1927.7 2120 2000C2128.6 2053.7 2131.2 2065.7 2135 2120C2137.9 2161.3 2139.3 2170.8 2135 2212C2128 2280.1 2129.9 2296.5 2110 2362C2091.3 2423.7 2086.8 2439.1 2050 2492C2013.7 2544.2 2003.6 2557.7 1950 2592C1888.8 2631.2 1870.6 2634.8 1800 2652C1711.9 2673.4 1690.7 2677 1600 2677C1509.3 2677 1488.9 2669.8 1400 2652C1308.5 2633.7 1289.4 2623.8 1200 2597C1109.4 2569.8 1089.3 2563.3 1000 2532C909.3 2500.2 889.2 2492.7 800 2457C731.7 2429.7 712.8 2430.4 650 2392C590 2355.3 530 2292 530 2292C530 2292 561.7 2278.5 582 2260C602.9 2241 611.7 2237 620 2210C628 2184.1 620.4 2176.7 616 2150C612.2 2126.9 596 2122.6 602 2100C608.4 2076 626.2 2080.7 640 2060C653.6 2039.5 655.4 2033.7 662 2010C668.1 1988.2 668.5 1982.7 668 1960C667.5 1937.2 667.4 1931.5 660 1910C650.1 1881.5 648.1 1874.1 630 1850C607.1 1819.5 596 1818 570 1790C537.5 1754.9 529.1 1748 500 1710C470.4 1671.3 464.7 1662 440 1620C419.6 1585.3 413.7 1577.9 400 1540C384.2 1496.4 383.1 1485.7 375 1440C369.5 1408.9 366.6 1401.4 370 1370Z" fill="none" stroke="#F7C3CC" stroke-width="90" stroke-linejoin="round"/>
<path d="M600 2032C622.7 1993.1 662.6 2007 700 2032C754 2068 780 2112 780 2152C780 2188 730.7 2133.1 700 2152C663.8 2174.2 682.2 2204.4 650 2232C616.3 2260.8 570.7 2315 560 2272C543.3 2205.3 553.3 2112 600 2032Z" fill="#F4B4BF"/>
</g>
<path d="M370 1370C373.5 1337.4 373.5 1328.3 390 1300C406 1272.5 413.4 1267.4 440 1250C472.9 1228.5 481.9 1224.5 520 1215C572.8 1201.8 585.7 1195.9 640 1200C678.3 1202.9 686.8 1210.6 720 1230C742 1242.8 743 1251.1 760 1270C783.5 1296.1 786.4 1304 810 1330C831.4 1353.5 835.2 1360 860 1380C894 1407.5 940 1435 940 1435L975 1430C975 1430 979.6 1358.4 985 1300C990.8 1236.9 978.3 1218.3 1000 1160C1009.6 1134.3 1025.6 1137.7 1050 1125C1071.1 1114 1076.6 1112.3 1100 1108C1126.6 1103.2 1133.4 1100.1 1160 1105C1188.8 1110.3 1196.7 1112.4 1220 1130C1249.7 1152.5 1275 1192 1275 1192C1275 1192 1302.7 1142.7 1320 1100C1346.5 1034.6 1372 952 1372 952C1372 952 1414.8 944.4 1450 945C1499.7 945.8 1511.5 944.1 1560 955C1602.4 964.5 1612.1 968.8 1650 990C1689.3 1012 1698.2 1018.2 1730 1050C1761.8 1081.8 1769 1090.2 1790 1130C1812.3 1172.2 1813.9 1183.6 1825 1230C1835.6 1274.1 1832.7 1284.9 1838 1330C1840.4 1350.2 1842 1375 1842 1375C1842 1375 1858.7 1330 1878 1325C1896 1320.3 1891.3 1343.6 1900 1360C1927.3 1411.7 1936 1424.6 1960 1480C1994.6 1559.7 2000.5 1578.3 2030 1660C2059 1740.3 2068.2 1757.5 2090 1840C2108.7 1910.8 2108.4 1927.7 2120 2000C2128.6 2053.7 2131.2 2065.7 2135 2120C2137.9 2161.3 2139.3 2170.8 2135 2212C2128 2280.1 2129.9 2296.5 2110 2362C2091.3 2423.7 2086.8 2439.1 2050 2492C2013.7 2544.2 2003.6 2557.7 1950 2592C1888.8 2631.2 1870.6 2634.8 1800 2652C1711.9 2673.4 1690.7 2677 1600 2677C1509.3 2677 1488.9 2669.8 1400 2652C1308.5 2633.7 1289.4 2623.8 1200 2597C1109.4 2569.8 1089.3 2563.3 1000 2532C909.3 2500.2 889.2 2492.7 800 2457C731.7 2429.7 712.8 2430.4 650 2392C590 2355.3 530 2292 530 2292C530 2292 561.7 2278.5 582 2260C602.9 2241 611.7 2237 620 2210C628 2184.1 620.4 2176.7 616 2150C612.2 2126.9 596 2122.6 602 2100C608.4 2076 626.2 2080.7 640 2060C653.6 2039.5 655.4 2033.7 662 2010C668.1 1988.2 668.5 1982.7 668 1960C667.5 1937.2 667.4 1931.5 660 1910C650.1 1881.5 648.1 1874.1 630 1850C607.1 1819.5 596 1818 570 1790C537.5 1754.9 529.1 1748 500 1710C470.4 1671.3 464.7 1662 440 1620C419.6 1585.3 413.7 1577.9 400 1540C384.2 1496.4 383.1 1485.7 375 1440C369.5 1408.9 366.6 1401.4 370 1370Z" fill="none" stroke="#6e5a66" stroke-width="4"/>
<path d="M370 1370C373.5 1337.4 373.5 1328.3 390 1300C406 1272.5 413.4 1267.4 440 1250C472.9 1228.5 481.9 1224.5 520 1215C572.8 1201.8 585.7 1195.9 640 1200C678.3 1202.9 686.8 1210.6 720 1230C742 1242.8 743 1251.1 760 1270C783.5 1296.1 786.4 1304 810 1330C831.4 1353.5 835.2 1360 860 1380C894 1407.5 940 1435 940 1435L975 1430C975 1430 979.6 1358.4 985 1300C990.8 1236.9 978.3 1218.3 1000 1160C1009.6 1134.3 1025.6 1137.7 1050 1125C1071.1 1114 1076.6 1112.3 1100 1108C1126.6 1103.2 1133.4 1100.1 1160 1105C1188.8 1110.3 1196.7 1112.4 1220 1130C1249.7 1152.5 1275 1192 1275 1192C1275 1192 1302.7 1142.7 1320 1100C1346.5 1034.6 1372 952 1372 952C1372 952 1414.8 944.4 1450 945C1499.7 945.8 1511.5 944.1 1560 955C1602.4 964.5 1612.1 968.8 1650 990C1689.3 1012 1698.2 1018.2 1730 1050C1761.8 1081.8 1769 1090.2 1790 1130C1812.3 1172.2 1813.9 1183.6 1825 1230C1835.6 1274.1 1832.8 1284.9 1838 1330C1840.5 1351.5 1842 1378 1842 1378C1842 1378 1856.2 1434.5 1870 1480C1886.8 1535.3 1889.9 1547.8 1910 1602C1930.4 1656.8 1940.2 1667 1960 1722C1980.7 1779.6 1986.2 1792.4 2000 1852C2013.3 1909.7 2017.7 1922.9 2020 1982C2022.3 2040.6 2020.7 2054.3 2010 2112C1998.1 2176.4 1996.4 2192 1970 2252C1946.4 2305.7 1939.1 2318.3 1900 2362C1861.6 2404.9 1849.4 2412.4 1800 2442C1758.4 2466.9 1747.3 2471.6 1700 2482C1633.7 2496.6 1617.8 2494.7 1550 2497C1482.5 2499.2 1467.4 2496.5 1400 2492C1332.3 2487.5 1316.9 2488.2 1250 2477C1181.6 2465.6 1165.9 2463.6 1100 2442C1034.9 2420.7 1019.8 2415.5 960 2382C906.6 2352.1 894.4 2344.2 850 2302C803.6 2257.9 794.9 2245.6 760 2192C727 2141.4 722.3 2128.1 700 2072C680.7 2023.3 680.6 2010.9 668 1960C662.5 1937.9 667.4 1931.5 660 1910C650.1 1881.5 648.1 1874.1 630 1850C607.1 1819.5 596 1818 570 1790C537.5 1754.9 529.1 1748 500 1710C470.4 1671.3 464.7 1662 440 1620C419.6 1585.3 413.7 1577.9 400 1540C384.2 1496.4 383.1 1485.7 375 1440C369.5 1408.9 366.6 1401.4 370 1370Z" fill="#F4B4BF" stroke="#6e5a66" stroke-width="4"/>
<path d="M1420 985C1420 985 1498 982.9 1560 995C1602.6 1003.3 1612.1 1008.7 1650 1030C1684.9 1049.6 1692.2 1056.1 1720 1085C1749 1115.2 1756.7 1122.4 1775 1160C1795.5 1202.3 1797.2 1213.7 1805 1260C1814 1313.3 1802.8 1326.7 1812 1380C1823.1 1444.3 1830.4 1457.7 1850 1520C1870.1 1583.8 1878.8 1596.5 1900 1660C1923.9 1731.6 1931.7 1746.8 1950 1820C1967.8 1891.1 1973.7 1907 1980 1980C1985 2038.3 1984.2 2052.2 1975 2110C1966.1 2165.5 1940 2230 1940 2230" fill="none" stroke="#FDEFF1" stroke-width="8"/>
<path d="M640 1870C640 1870 665.7 1977.2 700 2060C720.1 2108.5 728.5 2118 760 2160C796.3 2208.4 850 2260 850 2260" fill="none" stroke="#FDEFF1" stroke-width="7"/>
<path d="M410 1370C410 1370 420.9 1338 440 1320C461 1300.2 470.7 1295.8 500 1285C535 1272.2 550.3 1268 590 1265C626 1262.2 638.5 1265.7 670 1272C695.8 1277.2 706.3 1276.1 725 1292C743.6 1307.8 736.1 1320 750 1340C767.5 1365.2 776.9 1373.5 800 1400C821.9 1425.2 829 1434 850 1455C866.9 1471.9 877.2 1474.8 890 1490C899.7 1501.5 895.7 1510.7 905 1520C913.6 1528.6 920.2 1537.1 930 1530C942.8 1520.7 945.9 1502.1 960 1480C976.3 1454.3 983 1447.6 1000 1420C1018.7 1389.7 1028.3 1378 1040 1350C1048.8 1328.8 1049.6 1322.9 1050 1300C1050.5 1269.7 1044.3 1247.5 1042 1220C1040.6 1202.9 1040 1182 1040 1182C1040 1182 1060.5 1166.9 1080 1163C1105.7 1157.9 1120.8 1157.2 1150 1160C1175.5 1162.5 1186.8 1163.3 1205 1175C1220.9 1185.2 1228 1210 1228 1210C1228 1210 1229.9 1275.7 1228 1320C1226.5 1356.1 1221.4 1363.8 1220 1400C1218.7 1436 1219.8 1444.1 1222 1480C1224.8 1526.7 1223.8 1546.4 1232 1600C1241.3 1660.7 1246.3 1677.5 1262 1740C1276.9 1799.1 1280.5 1812.3 1300 1870C1320.1 1929.4 1326.7 1941.8 1350 2000C1371.7 2054.3 1377.8 2071 1400 2120C1418.7 2161.3 1427.5 2176.2 1445 2210C1458 2235 1464 2239.3 1475 2265C1485.2 2288.8 1488.5 2294.3 1492 2320C1495.3 2344.5 1490 2375 1490 2375C1490 2375 1462.2 2360.2 1440 2352C1420.3 2344.8 1415 2346.3 1395 2340C1372.8 2333 1361.3 2337.9 1345 2322C1328.7 2306.1 1344.4 2286 1325 2272C1305.6 2258 1288.4 2259.7 1262 2262C1237.9 2264.1 1230.7 2286.7 1212 2282C1193.3 2277.3 1192.9 2261.7 1182 2242C1170.3 2221 1174.1 2199 1162 2192C1149.9 2185 1146.5 2207.9 1130 2212C1113.2 2216.2 1104.3 2221 1090 2210C1071.8 2196 1067.9 2177.2 1052 2152C1038 2129.8 1038.3 2118.3 1022 2102C1007.8 2087.8 1001 2088.7 982 2082C961 2074.5 946.5 2084.5 932 2070C917.5 2055.5 927 2040.5 920 2020C913.9 2002.1 916 1988.5 902 1982C888 1975.5 878.7 1996.7 860 1992C841.3 1987.3 834.8 1979.6 822 1962C808.5 1943.3 811 1934.5 802 1912C793 1889.5 795.4 1882.2 782 1862C768 1841 756 1840.7 742 1822C729.9 1805.9 732.1 1799.4 722 1782C709.9 1761 695.1 1748.8 690 1732C686.8 1721.6 709 1716.1 700 1710C688.3 1702.1 661 1697.5 640 1698C625.1 1698.3 624.1 1707.2 610 1712C593.7 1717.6 588.1 1726 570 1722C549 1717.3 540.3 1708.6 520 1692C497.1 1673.3 487.9 1667.7 472 1642C457 1617.8 461.3 1605.3 452 1582C444.5 1563.3 437.8 1561.3 432 1542C425 1518.7 428.3 1505.8 422 1482C416.8 1462.3 407.2 1460.3 405 1440C402.2 1413.9 410 1370 410 1370Z" fill="#A70A3B" stroke="#6e5a66" stroke-width="4"/>
<path d="M570 1440C579 1415.3 594.1 1414 620 1410C655.9 1404.5 665.8 1407.8 700 1420C730.6 1430.9 732 1443.6 760 1460C786.1 1475.2 793.5 1475.5 820 1490C843 1502.6 850.8 1502.1 870 1520C885.5 1534.5 889.9 1539.4 895 1560C903.7 1595 903.8 1604.1 900 1640C897 1668.3 905.5 1687.3 880 1700C847.6 1716.2 835.8 1696 800 1690C754.7 1682.5 745.1 1678.5 700 1670C673.1 1665 663.5 1674.1 640 1660C615.3 1645.2 611.4 1636.5 600 1610C583.7 1571.9 587.2 1560.9 580 1520C573.7 1484.3 557.6 1474.1 570 1440Z" fill="#BC1748"/>
<path d="M960 1560C966.4 1520.3 979.6 1514.7 1000 1480C1024.7 1438 1029.9 1428.3 1060 1390C1079.7 1365 1079.5 1349.1 1110 1340C1133.2 1333 1142.9 1342.9 1160 1360C1181.3 1381.3 1183.5 1390.5 1190 1420C1199.6 1464 1190.9 1475.1 1195 1520C1199.9 1574.2 1200.4 1586.4 1210 1640C1220.6 1699.1 1224.4 1712 1240 1770C1255.9 1829.1 1259.3 1842.4 1280 1900C1299.8 1955 1307.8 1965.9 1330 2020C1348.4 2064.9 1360.5 2072.5 1370 2120C1374.5 2142.5 1381.1 2161 1360 2170C1336.7 2180 1328.1 2154.7 1300 2150C1273.4 2145.6 1264.9 2160.4 1240 2150C1207.6 2136.5 1208.4 2120.7 1180 2100C1158.8 2084.6 1152.5 2083.5 1130 2070C1107.5 2056.5 1099.5 2057.6 1080 2040C1053.9 2016.5 1057.4 2002 1030 1980C1011.1 1964.9 999.6 1974.3 980 1960C949.1 1937.5 951.8 1921.2 920 1900C896.3 1884.2 881.3 1898.9 860 1880C837.4 1859.9 846 1845.6 830 1820C823.3 1809.2 799.8 1807.6 810 1800C823.3 1790 845.2 1801.6 870 1790C914.1 1769.4 942.3 1775.3 960 1730C987.9 1658.8 947.9 1635.5 960 1560Z" fill="#BC1748"/>
<path d="M1300 1100C1300 1100 1315.1 1064.5 1340 1050C1368 1033.7 1383 1033.1 1420 1030C1462 1026.5 1478 1028 1520 1035C1557.2 1041.2 1565.8 1044 1600 1060C1637.3 1077.5 1649.7 1084.3 1680 1110C1706.8 1132.7 1712.6 1139.5 1730 1170C1748.7 1202.7 1755.3 1215 1760 1250C1764.2 1281.5 1759.3 1292 1750 1320C1741.7 1344.9 1731.7 1349 1720 1370C1710.2 1387.6 1695.3 1396 1700 1410C1704.7 1424 1727.6 1414.2 1740 1430C1752.8 1446.3 1753.2 1456.6 1755 1480C1757.3 1510.3 1747.8 1524 1750 1560C1752.3 1596.6 1762.7 1607.3 1765 1640C1766.9 1667 1756.5 1674.3 1760 1700C1763.3 1724 1774.2 1726.7 1780 1750C1785.5 1771.9 1792 1783.7 1785 1800C1778 1816.3 1762.3 1806.6 1750 1820C1737.2 1834 1727.7 1843.7 1730 1860C1732.3 1876.3 1749.9 1873.8 1760 1890C1771.7 1908.7 1774.6 1916.4 1780 1940C1785.8 1965.7 1787.3 1981.3 1785 2000C1783.6 2011.2 1778.2 2024.7 1770 2020C1761.8 2015.3 1759.3 1984.7 1750 1980C1740.7 1975.3 1730.7 1987.3 1730 2000C1728.8 2021 1742.9 2037.9 1745 2070C1747.3 2105 1745.8 2117.3 1740 2150C1735 2178 1734 2193.7 1720 2210C1707.9 2224.1 1698.4 2222.3 1680 2220C1661.3 2217.7 1655.1 2213.3 1640 2200C1621.3 2183.7 1615.1 2174.5 1600 2150C1581.3 2119.7 1576.3 2106.8 1560 2070C1541.3 2028 1537.3 2015.3 1520 1970C1501.3 1921 1498.7 1909 1480 1860C1462.7 1814.7 1458 1805 1440 1760C1422 1715 1418 1705 1400 1660C1382 1615 1378.7 1602 1360 1560C1343.7 1523.2 1336.3 1512.7 1320 1480C1306.5 1453 1300.5 1441 1290 1420C1283.2 1406.5 1278 1404.8 1275 1390C1270.3 1366.7 1270 1351.6 1270 1320C1270 1280.3 1270.3 1255 1275 1220C1278.1 1196.7 1285.2 1193 1290 1170C1295.8 1142 1300 1100 1300 1100Z" fill="#BC1748" stroke="#6e5a66" stroke-width="4"/>
<path d="M1275 1390C1268.3 1400 1283.2 1406.5 1290 1420C1303.5 1447 1306.5 1453 1320 1480C1338 1516 1343.7 1523.2 1360 1560C1379.7 1604.3 1382 1615 1400 1660C1418 1705 1422 1715 1440 1760C1458 1805 1462.7 1814.7 1480 1860C1498.8 1909.2 1501.2 1920.8 1520 1970C1537.3 2015.3 1540.3 2025.7 1560 2070C1576.3 2106.8 1578.9 2115.7 1600 2150C1615.1 2174.5 1618.3 2181 1640 2200C1655.1 2213.3 1677.5 2240 1680 2220C1683.3 2193.3 1666.1 2164.2 1650 2120C1630 2065 1621.7 2054.3 1600 2000C1576.7 1941.8 1572.5 1928.5 1550 1870C1527.5 1811.5 1523.3 1798.2 1500 1740C1478.3 1685.7 1474.2 1673.3 1450 1620C1429.2 1574.2 1424.4 1564 1400 1520C1379.4 1482.9 1374.2 1474.9 1350 1440C1333.6 1416.3 1334 1406 1310 1390C1296.9 1381.3 1281.7 1380 1275 1390Z" fill="#A70A3B"/>
<path d="M1560 1050C1560 1036.7 1583.4 1051.7 1600 1060C1638 1079 1647.6 1082.6 1680 1110C1706.8 1132.7 1712.6 1139.5 1730 1170C1749.1 1203.4 1754.9 1211.9 1760 1250C1764.2 1281.5 1760.1 1289.8 1750 1320C1741.7 1344.9 1732.7 1347.1 1720 1370C1710.2 1387.6 1713.1 1394.7 1700 1410C1685.4 1427.1 1680 1446.7 1660 1440C1640 1433.3 1636 1413.9 1640 1390C1646 1354.2 1668.5 1354.4 1680 1320C1691.5 1285.6 1696.7 1275.7 1690 1240C1682.6 1200.4 1671.8 1193.9 1650 1160C1631 1130.4 1622.3 1127.2 1600 1100C1581.8 1077.7 1560 1063.3 1560 1050Z" fill="#A70A3B"/>
<path d="M1320 1070C1328 1060.1 1328.2 1054.7 1340 1050C1373.3 1036.7 1383 1033.1 1420 1030C1464.9 1026.3 1500 1025 1520 1035C1539 1044.5 1499.9 1052.5 1480 1060C1445.3 1073 1434.1 1065.4 1400 1080C1370.2 1092.8 1356.1 1091.8 1340 1120C1317.2 1159.8 1320 1174.1 1320 1220C1320 1257.1 1350 1290 1340 1300C1330 1310 1301.4 1279.7 1290 1250C1277.1 1216.4 1287.6 1205.9 1290 1170C1292.1 1138.3 1290.9 1130.5 1300 1100C1304.7 1084.5 1309.9 1082.7 1320 1070Z" fill="#A70A3B"/>
<path d="M890 1480C901.7 1463.3 917.9 1524.1 940 1510C976.7 1486.7 970.9 1453.7 1000 1410C1016 1386 1018.6 1379.3 1040 1360C1064.1 1338.3 1083.3 1323.3 1100 1320C1114 1317.2 1097.9 1338.2 1090 1350C1070.5 1379.2 1060.9 1381.8 1040 1410C1015.9 1442.6 1010.9 1450.2 990 1485C970.3 1517.8 964.4 1524.6 950 1560C939.5 1585.8 936.2 1592.2 935 1620C933.9 1647.3 937.7 1653.6 945 1680C951.3 1702.5 965 1728 965 1728C965 1728 937.1 1711.7 925 1690C909.1 1661.4 910 1652.4 905 1620C900.9 1593.3 907.9 1586.8 905 1560C901.1 1523.6 878.3 1496.7 890 1480Z" fill="#F4B4BF" stroke="#6e5a66" stroke-width="3"/>
<path d="M600 1720C603.3 1712 626.3 1704.6 650 1698C671.8 1691.9 677.4 1689.9 700 1692C727.8 1694.5 734.3 1696.9 760 1708C793.3 1722.4 800.5 1726.9 830 1748C855.7 1766.3 882 1795 882 1795C882 1795 864.2 1786 850 1778C818.3 1760.3 813.3 1752.4 780 1738C754.3 1726.9 747.9 1722.9 720 1722C705.3 1721.5 704.7 1735 690 1735C666.8 1735 662.9 1725.8 640 1722C622.2 1719 596.7 1728 600 1720Z" fill="#F4B4BF" stroke="#6e5a66" stroke-width="3"/>
<path d="M1040 1340C1040 1340 1056.6 1327.9 1072 1322C1083.1 1317.8 1098 1318 1098 1318C1098 1318 1080.7 1349.7 1062 1362C1054 1367.3 1048.7 1361.7 1042 1355C1037.2 1350.2 1040 1340 1040 1340Z" fill="#F4B4BF" stroke="#6e5a66" stroke-width="3"/>
<path d="M470 1320C480 1300.7 495.8 1300.9 520 1292C554.8 1279.1 562.9 1272.6 600 1272C623.9 1271.6 636.7 1270.7 650 1290C660.5 1305.3 650.8 1314.9 640 1330C626.9 1348.3 621.2 1352.6 600 1360C574.4 1369 567 1367.5 540 1365C516.6 1362.9 509.8 1362.7 490 1350C476.4 1341.2 462.5 1334.4 470 1320Z" fill="#9C0634"/>
<path d="M500 1352C500 1352 532.4 1368.8 560 1366C589.3 1363.1 595.3 1356.1 620 1340C635 1330.3 646 1310 646 1310" fill="none" stroke="#F7C9D2" stroke-width="6" stroke-linecap="round"/>
<path d="M1060 1170C1085 1157.3 1109.5 1158.9 1150 1162C1180.5 1164.4 1198.3 1165.3 1215 1182C1225.7 1192.7 1213.9 1206.1 1200 1212C1171.7 1224 1161.5 1221 1130 1218C1104.1 1215.5 1096.5 1214.7 1075 1200C1062.6 1191.5 1046.5 1176.8 1060 1170Z" fill="#9C0634"/>
<path d="M1085 1198C1085 1198 1119.3 1217 1150 1220C1177.2 1222.6 1210 1210 1210 1210" fill="none" stroke="#F7C9D2" stroke-width="5" stroke-linecap="round"/>
<path d="M1262 1390C1262 1390 1274.5 1462.2 1290 1520C1309.6 1592.8 1314 1609.2 1340 1680C1363.6 1744.4 1373 1757 1400 1820C1427 1883 1432.2 1897.4 1460 1960C1486.2 2018.9 1490.1 2032.9 1520 2090C1539.7 2127.6 1545.2 2135.5 1570 2170C1585.8 2192 1610 2215 1610 2215" fill="none" stroke="#E0607E" stroke-width="6"/>
<path d="M1250 1390C1250 1390 1262.5 1462.2 1278 1520C1297.6 1592.8 1302 1609.2 1328 1680C1351.6 1744.4 1361 1757 1388 1820C1415 1883 1420.2 1897.4 1448 1960C1474.2 2018.9 1478.2 2032.9 1508 2090C1528.7 2129.8 1534.1 2138.4 1560 2175C1575.7 2197.1 1600 2220 1600 2220" fill="none" stroke="#FFFFFF" stroke-width="6"/>
<path d="M1160 1330C1160 1330 1166.4 1355.2 1180 1370C1192.3 1383.4 1197.7 1384.5 1215 1390C1235.3 1396.4 1241.1 1400.4 1262 1396C1281.8 1391.8 1286.3 1386.9 1300 1372C1318.6 1351.8 1332 1320 1332 1320C1332 1320 1331.3 1355.7 1318 1380C1306.8 1400.4 1301.8 1406.8 1280 1415C1256.8 1423.7 1249.5 1418.7 1225 1415C1203.9 1411.8 1193 1417 1180 1400C1160.1 1374 1160 1330 1160 1330Z" fill="#F4B4BF" stroke="#6e5a66" stroke-width="3"/>
<path d="M1285 1175C1285 1175 1317.4 1191.3 1340 1210C1369.4 1234.3 1376.4 1240 1400 1270C1426.2 1303.4 1430.1 1312.5 1450 1350C1470.7 1389.2 1474.9 1398.3 1490 1440C1504.3 1479.5 1506.7 1488.8 1515 1530C1521.1 1560.1 1522 1598 1522 1598C1522 1598 1509.5 1566.2 1500 1540C1486.1 1501.9 1486.8 1491.9 1470 1455C1452.9 1417.4 1447.3 1409.7 1425 1375C1406.7 1346.6 1402.8 1339.9 1380 1315C1364.3 1297.8 1359.8 1294.4 1340 1282C1323.4 1271.6 1308.9 1282.4 1300 1265C1281.7 1229.3 1285 1175 1285 1175Z" fill="#F4B4BF" stroke="#6e5a66" stroke-width="3"/>
<path d="M1735 1390C1735 1390 1705.6 1401.3 1690 1420C1670.7 1443.2 1669.5 1451.4 1660 1480C1651.3 1506 1649.1 1512.6 1650 1540C1651 1569.5 1664 1604 1664 1604C1664 1604 1668 1568.5 1674 1540C1678.8 1517.1 1678.1 1511.2 1688 1490C1697.3 1470.1 1700.2 1465.3 1716 1450C1727.9 1438.5 1743 1447.8 1748 1432C1754 1413.1 1735 1390 1735 1390Z" fill="#F4B4BF" stroke="#6e5a66" stroke-width="3"/>
<path d="M1605 1090C1605 1090 1621.1 1104.8 1630 1120C1637.2 1132.3 1640 1150 1640 1150" fill="none" stroke="#E9A9BA" stroke-width="7" stroke-linecap="round"/>
<path d="M1680 1195C1680 1195 1696.4 1206.6 1705 1220C1711.3 1229.8 1712 1245 1712 1245" fill="none" stroke="#E9A9BA" stroke-width="7" stroke-linecap="round"/>
</g>
<g transform="translate(2611,1110) scale(0.25)">
<g transform="translate(-47.6,37) scale(0.945)">
<path d="M1270 2512C1270 2512 1260 2630.3 1270 2702C1272.4 2719.4 1282.8 2723.2 1300 2727C1353.3 2738.7 1371.3 2737 1430 2737C1493.2 2737 1512.7 2738.7 1570 2727C1587.9 2723.4 1599.3 2720.1 1602 2702C1612.7 2630.3 1602 2512 1602 2512L1270 2512Z" fill="#FA5B3C" stroke="#6e5a66" stroke-width="4"/>
<path d="M1400 2512C1400 2512 1396.7 2598.7 1420 2662C1430 2689 1442.6 2693.2 1470 2702C1508.6 2714.4 1519.5 2708.6 1560 2707C1578.5 2706.3 1596.1 2715.1 1600 2697C1614 2632 1602 2512 1602 2512L1400 2512Z" fill="#F0432A"/>
<path d="M360 1045C360 1045 262.7 1037.7 200 1042C185.5 1043 179.8 1045.8 172 1058C162.1 1073.4 161.1 1079.9 164 1098C166.9 1116.3 170 1121.9 184 1134C194.9 1143.4 200.6 1141.5 215 1142C270.3 1144 350 1140 350 1140L360 1045Z" fill="#FA5B3C" stroke="#6e5a66" stroke-width="4"/>
<path d="M320 1180C320 1180 229.3 1174 170 1180C155.1 1181.5 148.5 1184.5 142 1198C130.8 1221.4 129.8 1229.4 134 1255C137.4 1276.1 141.6 1282.3 158 1296C169.2 1305.4 175.4 1301.6 190 1302C237.3 1303.3 300 1300 300 1300L320 1180Z" fill="#FA5B3C" stroke="#6e5a66" stroke-width="4"/>
<path d="M200 1062L330 1062" fill="none" stroke="#FDC3B3" stroke-width="7" stroke-linecap="round"/>
<path d="M170 1200L290 1200" fill="none" stroke="#FDC3B3" stroke-width="7" stroke-linecap="round"/>
<path d="M190 1120C233.3 1108.3 290 1098.3 340 1105C355.6 1107.1 355.2 1135.9 340 1140C296.7 1151.7 260 1146.7 210 1140C197.4 1138.3 177.7 1123.3 190 1120Z" fill="#F0432A"/>
<path d="M160 1275C198.3 1260 253.3 1247.3 300 1255C319.1 1258.1 318 1290.9 300 1298C261.7 1313 231.7 1307.7 185 1300C169.3 1297.4 145.2 1280.8 160 1275Z" fill="#F0432A"/>
<path d="M1700 1000C1700 1000 1715.5 966.5 1740 955C1790.4 931.4 1810.7 926.7 1860 925C1876.9 924.4 1881.5 934.4 1888 950C1894.1 964.6 1891.8 970.7 1885 985C1874 1008.2 1868.1 1011.9 1850 1030C1825.1 1054.9 1819.7 1061.1 1790 1080C1769.6 1093 1740 1100 1740 1100L1700 1000Z" fill="#FA5B3C" stroke="#6e5a66" stroke-width="4"/>
<path d="M1790 1120C1790 1120 1805.5 1086.7 1830 1075C1867.2 1057.3 1881.3 1054.7 1920 1058C1936.8 1059.4 1941.5 1068.7 1946 1085C1951.5 1104.7 1946.9 1110.8 1940 1130C1928.2 1163.2 1919.8 1168 1905 1200C1892.7 1226.6 1903.9 1243.1 1880 1260C1857.9 1275.6 1820 1260 1820 1260L1790 1120Z" fill="#FA5B3C" stroke="#6e5a66" stroke-width="4"/>
<path d="M1760 965L1860 942" fill="none" stroke="#FDC3B3" stroke-width="7" stroke-linecap="round"/>
<path d="M1840 1090L1915 1075" fill="none" stroke="#FDC3B3" stroke-width="7" stroke-linecap="round"/>
<path d="M375 410C375 410 376.7 569.5 376 700C375.4 812.5 380.6 837.8 372 950C368.8 991.6 356.9 998.9 350 1040C338 1111.6 327.8 1127.5 330 1200C341.7 1583.3 367.4 1744.2 385 2190C393.5 2405.8 379.7 2500 388 2670C388.8 2686.7 393.8 2695.8 410 2700C464 2714 486.8 2712 550 2712C613.2 2712 636.7 2714 690 2700C705.7 2695.9 709.4 2686.2 710 2670C715.3 2536.7 704.6 2466.5 706 2300C709.1 1940 717.4 1860 720 1500C721.5 1293 721.7 1223.3 715 1040C713.5 999 704.3 990.8 700 950C693 882.7 691.8 867.6 690 800C685.5 624.5 686 410 686 410L375 410Z" fill="#A5C8E4" stroke="#6e5a66" stroke-width="4"/>
<path d="M450 2272C450 2272 513.9 2323.5 560 2372C599.7 2413.8 615.3 2419.9 640 2472C659.5 2513.1 660 2526.8 655 2572C650.7 2611.1 648.8 2625.3 620 2652C583.8 2685.5 496.7 2682 520 2697C543.3 2712 628 2708.7 690 2697C707 2693.8 705.3 2679.3 706 2662C711.3 2533.7 706 2312 706 2312L450 2272Z" fill="#80B3DA"/>
<path d="M640 440C640 440 658 527.7 655 600C651.2 690.9 652.5 713.2 625 800C608.8 851.2 596 860.2 560 900C529.8 933.3 518.4 936.5 480 960C437.1 986.2 380 1010 380 1010L700 1040C700 1040 692.5 908.1 690 800C686.2 638 686 440 686 440L640 440Z" fill="#80B3DA"/>
<path d="M398 470C398 470 402.4 596.5 402 700C401.5 808 396 940 396 940" fill="none" stroke="#DCEAF5" stroke-width="8" stroke-linecap="round"/>
<ellipse cx="530" cy="410" rx="155" ry="40" fill="#DCEAF5" stroke="#6e5a66" stroke-width="4"/>
<ellipse cx="530" cy="414" rx="95" ry="22" fill="#6FA7D2"/>
<ellipse cx="530" cy="420" rx="70" ry="13" fill="#A5C8E4"/>
<path d="M376 532C376 532 344.9 526.7 320 520C291.7 512.3 287.3 501.8 258 500C240.7 498.9 232.9 500.4 222 514C208.6 530.7 208.5 538.7 210 560C211.4 579.7 211.1 589.8 228 600C265.3 622.7 322 628 322 628C322 628 268 628 228 640C212.7 644.6 209.2 649.8 202 664C193.5 680.7 190.6 686.8 195 705C199.4 723.1 202.4 731.8 220 738C254 750 264 741.5 300 742C334.2 742.4 376 740 376 740L376 532Z" fill="#A5C8E4" stroke="#6e5a66" stroke-width="4"/>
<path d="M240 722C240 708.7 275.3 714.8 300 700C330.1 681.9 334.7 666.7 360 650C366 646 376 650 376 650L376 738C376 738 334 744 300 740C272 736.7 240 735.3 240 722Z" fill="#80B3DA"/>
<path d="M235 595C226.7 588.3 270.8 603.1 300 600C315 598.4 321.7 578.3 330 585C338.3 591.7 340.8 618.3 325 620C293.3 623.3 243.3 601.7 235 595Z" fill="#80B3DA"/>
<path d="M940 1435C940 1435 890.3 1411.5 860 1380C830.6 1349.4 825.8 1339.4 810 1300C798.2 1270.5 810.1 1260.2 800 1230C787.3 1191.8 776.3 1186.8 760 1150C740.3 1105.7 732.9 1096.7 720 1050C707.9 1006.1 709 995.3 705 950C699.1 882.7 699.1 867.6 698 800C696.9 732.5 695.2 717.3 700 650C702.9 609 705 599.8 715 560C725.4 518.6 726.8 508.6 745 470C765.3 427.1 770.5 417.2 800 380C831.7 340.1 848.2 339.8 880 300C897.3 278.3 899.6 271.5 908 245C915.6 221.2 907.8 213.9 915 190C920.2 172.6 920.5 165.9 935 155C949.8 143.9 956.5 143.2 975 145C990.4 146.5 996.3 149.1 1005 162C1014.7 176.4 1004.5 184.3 1012 200C1018.6 213.8 1020 222 1035 225C1052.3 228.5 1060 225 1072 212C1089.4 193.2 1085.4 183.7 1095 160C1102.5 141.4 1097.2 133.4 1110 118C1121.3 104.4 1127.3 100.7 1145 100C1164.2 99.2 1172 100.8 1185 115C1199.4 130.7 1198.7 138.7 1200 160C1201.1 177.7 1189.3 180.7 1190 198C1190.3 206.3 1194.6 215.8 1202 212C1213.7 206 1216.1 195.3 1225 180C1235.5 161.9 1230.9 153.5 1245 138C1254.9 127.1 1260.4 123.4 1275 125C1292.3 126.9 1297.6 131.1 1308 145C1319.3 160 1318.6 166.3 1320 185C1321.8 209.8 1302.7 218.4 1315 240C1333.3 272 1353.4 264.4 1380 290C1414.5 323.2 1422 331.2 1450 370C1480.7 412.5 1487.5 422.6 1510 470C1528.3 508.6 1530.3 518.4 1540 560C1549.3 599.8 1547.5 609.4 1552 650C1557.4 699.4 1559.2 710.4 1562 760C1565.5 822.9 1566 900 1566 900C1566 900 1538.7 949.4 1500 960C1378 993.3 1311.9 922.4 1200 1000C1068.7 1091.1 1074.7 1153.9 1010 1300C984.5 1357.6 1005 1440 1005 1440L940 1435Z" fill="#FA5B3C" stroke="#6e5a66" stroke-width="4"/>
<path d="M1090 560C1090 560 1107.3 529.8 1130 515C1158.2 496.5 1166.5 492.2 1200 488C1240.3 483 1249.9 488.6 1290 495C1340.1 503 1349.3 521.5 1400 520C1430.2 519.1 1437.4 510.1 1460 490C1479.6 472.6 1492.2 466.1 1490 440C1487 404.6 1443.3 362 1450 372C1456.7 382 1487.7 423.4 1510 470C1528.4 508.5 1530.3 518.4 1540 560C1549.3 599.8 1547.5 609.4 1552 650C1557.4 699.4 1559.2 710.4 1562 760C1565.5 822.9 1566 900 1566 900L1440 900L1440 600L1090 560Z" fill="#F0432A"/>
<path d="M935 300C935 300 872.3 350.3 830 400C795.2 440.9 786.3 450.7 765 500C742.9 551.1 742.8 564.9 735 620C726.1 682.4 728 760 728 760" fill="none" stroke="#FDC3B3" stroke-width="7" stroke-linecap="round"/>
<path d="M985 150C989.4 139.7 1000.3 154.8 1005 165C1012.5 181.5 1015 193.3 1010 205C1006.3 213.5 993.8 208.4 990 200C981.7 181.7 980 161.7 985 150Z" fill="#F0432A"/>
<path d="M1165 108C1167.7 98 1181.5 110.3 1188 120C1198.5 135.6 1200 141.2 1200 160C1200 178.8 1197.3 190 1188 200C1182.2 206.2 1173.3 198.4 1172 190C1169.3 173.3 1181.6 168.3 1180 150C1178.3 130 1162.3 118 1165 108Z" fill="#F0432A"/>
<path d="M1290 132C1294 121.3 1304.3 138 1310 148C1318.5 163 1319.3 167.8 1320 185C1321.1 209.9 1324 226.7 1314 240C1306.4 250.2 1293.3 237.3 1290 225C1284.7 205.1 1298 200.6 1298 180C1298 158.1 1286 142.7 1290 132Z" fill="#F0432A"/>
<path d="M965 1440C965 1440 969.6 1362.9 975 1300C980.8 1232.4 977.8 1216.7 990 1150C1002.6 1081.3 1009.9 1066.9 1030 1000C1043.7 954.3 1050.1 945.3 1065 900C1070.8 882.3 1077.3 878.6 1076 860C1074.9 844.7 1065.5 844.3 1060 830C1051.5 808.1 1048.6 803.2 1045 780C1039.5 744.3 1038.8 736.1 1040 700C1041.1 668.2 1038.7 659.7 1050 630C1059.5 605 1064.4 599 1085 582C1106.1 564.6 1112.7 558.2 1140 556C1211.7 550.3 1227.9 562.6 1300 565C1390 568 1410 568.6 1500 568C1630.5 567.2 1686 558 1790 562C1802.8 562.5 1808 567.9 1812 580C1820.6 605.7 1819.2 613.1 1816 640C1813.7 659.2 1818.4 673.8 1800 680C1748.7 697.3 1662 692 1662 692C1662 692 1650 694.7 1650 700C1650 705.3 1662 708 1662 708C1662 708 1742 703.3 1790 714C1803.4 717 1804.4 726.4 1806 740C1809.1 767 1808 774.1 1800 800C1795.8 813.4 1793.9 821.9 1780 824C1713.3 834 1680.9 824.8 1600 830C1554.8 832.9 1543.8 830.5 1500 842C1470.8 849.7 1463.8 853.4 1440 872C1417.8 889.3 1414.9 896.2 1400 920C1378.7 954.1 1376.3 963.2 1360 1000C1340.3 1044.3 1337 1054.6 1320 1100C1303.3 1144.6 1285 1200 1285 1200L1000 1440L965 1440Z" fill="#A5C8E4" stroke="#6e5a66" stroke-width="4"/>
<path d="M1042 700C1043.7 700 1039.4 745.4 1050 780C1059.2 809.9 1071 812 1085 840C1093.6 857.2 1103 861 1100 880C1091.7 933.3 1079.5 946.5 1060 1000C1043.4 1045.5 1038 1055 1020 1100C1011 1122.5 1000 1150 1000 1150L990 1150C990 1150 1009.9 1066.9 1030 1000C1043.7 954.3 1050.1 945.3 1065 900C1070.8 882.3 1077.3 878.6 1076 860C1074.9 844.7 1065.5 844.3 1060 830C1051.5 808.1 1048.2 803.3 1045 780C1040.1 744.3 1040.3 700 1042 700Z" fill="#80B3DA"/>
<path d="M1000 1105C1000 1105 1053.8 1083.5 1100 1075C1144.4 1066.8 1155.2 1073.6 1200 1068C1245.4 1062.3 1300 1050 1300 1050L1290 1120C1290 1120 1241.1 1105.4 1200 1100C1155.3 1094.1 1144.2 1086.2 1100 1095C1051.6 1104.7 1000 1140 1000 1140L1000 1105Z" fill="#80B3DA"/>
<path d="M990 1150C980 1200 980.8 1232.4 975 1300C969.6 1362.9 956.7 1393.3 965 1440C967.8 1455.5 997.8 1455.6 1000 1440C1013.3 1343.3 1008.3 1246.7 1005 1150C1004.8 1143.3 991.3 1143.4 990 1150Z" fill="#80B3DA"/>
<path d="M1150 572C1150 572 1232.4 577.7 1300 580C1390 583.1 1410 584.4 1500 584C1626 583.5 1780 578 1780 578" fill="none" stroke="#DCEAF5" stroke-width="9" stroke-linecap="round"/>
<path d="M1085 880C1085 880 1065.1 934.8 1050 980C1033.6 1029.3 1015 1090 1015 1090" fill="none" stroke="#DCEAF5" stroke-width="7" stroke-linecap="round"/>
<path d="M1665 700L1790 698" fill="none" stroke="#DCEAF5" stroke-width="6" stroke-linecap="round"/>
<path d="M350 1040C350 1040 385.9 1012.5 420 1000C454.4 987.4 463.5 988 500 985C544.8 981.3 555.3 980.2 600 985C627.9 988 635.1 989 660 1002C687.9 1016.5 697.4 1019 715 1045C743.8 1087.6 738.5 1103.3 760 1150C776.8 1186.6 788.2 1191.5 800 1230C812 1269.1 797.8 1281.7 812 1320C843.3 1404.5 900 1500 900 1500L800 1900C800 1900 744 1980 700 2000C679 2009.5 671.3 1946.7 668 1960C664.7 1973.3 699.2 2003.8 690 2040C683.5 2065.4 661.7 2055.2 640 2070C622 2082.3 608.3 2079.1 602 2100C595.3 2122.4 612.2 2126.9 616 2150C620.4 2176.7 628 2184.1 620 2210C611.7 2237 603.4 2241.5 582 2260C561.9 2277.4 555.7 2281.3 530 2288C512.5 2292.6 507.3 2289.4 490 2284C466.2 2276.6 459.1 2276.1 440 2260C413.1 2237.4 408.6 2229.8 390 2200C363.3 2157.3 361.6 2145.4 340 2100C316.6 2050.9 308.1 2041.3 290 1990C268.3 1928.4 263.5 1914.3 252 1850C240 1783.3 241.8 1767.7 238 1700C234.2 1632.6 232.3 1617.5 235 1550C237.7 1482.2 239.9 1467.1 250 1400C260.2 1331.9 265.6 1317.3 280 1250C292.6 1191.3 291 1177 310 1120C322.7 1081.8 350 1040 350 1040Z" fill="#C49DC0" stroke="#6e5a66" stroke-width="4"/>
<path d="M600 1830C641.2 1881.6 642 1899.3 668 1960C682.7 1994.3 699.2 2003.8 690 2040C683.5 2065.4 661.7 2055.2 640 2070C622 2082.3 608.3 2079.1 602 2100C595.3 2122.4 612.2 2126.9 616 2150C620.4 2176.7 628 2184.1 620 2210C611.7 2237 603.4 2241.5 582 2260C561.9 2277.4 555.7 2281.3 530 2288C512.5 2292.6 493.1 2301.8 490 2284C486.7 2264.7 509.4 2255.7 520 2230C534.3 2195.1 540 2187.4 545 2150C549.2 2118.7 535.8 2111.3 540 2080C545 2042.6 558.8 2037.2 565 2000C572.4 1955.6 575.6 1944.7 570 1900C564.2 1853.4 530 1823.3 540 1800C550 1776.7 581.1 1806.4 600 1830Z" fill="#B084AE"/>
<path d="M390 1290C390 1285 412.5 1254 440 1235C472.3 1212.6 482.1 1210.4 520 1200C572.8 1185.5 590.1 1202.5 640 1180C683.6 1160.4 694.9 1150.7 720 1110C734.2 1087 706.7 1036.7 720 1050C733.3 1063.3 740.3 1105.7 760 1150C776.3 1186.8 788.2 1191.5 800 1230C812 1269.1 825.3 1306.7 812 1320C798.7 1333.3 783.2 1292.7 760 1270C741.8 1252.2 742 1242.8 720 1230C686.8 1210.6 678.3 1202.9 640 1200C585.7 1195.9 572.8 1201.8 520 1215C481.9 1224.5 474 1230.4 440 1250C415 1264.4 390 1295 390 1290Z" fill="#B084AE"/>
<path d="M430 1030C430 1030 374.7 1071.8 350 1120C320.2 1178.1 325.7 1196.2 312 1260C298.6 1322.4 290 1400 290 1400" fill="none" stroke="#E3CFE2" stroke-width="9" stroke-linecap="round"/>
<path d="M1380 900C1380 900 1411.6 881.6 1440 880C1494.1 877 1507.4 876.9 1560 890C1616.8 904.2 1629.8 909.9 1680 940C1721 964.6 1728.5 974 1760 1010C1792.1 1046.6 1799.2 1056 1820 1100C1840.1 1142.5 1838 1154.6 1850 1200C1860.6 1240.1 1863.1 1249.1 1870 1290C1873 1307.8 1877.8 1312.9 1872 1330C1863.6 1354.6 1840 1378 1840 1378L1700 1400L1300 1100L1380 900Z" fill="#C49DC0" stroke="#6e5a66" stroke-width="4"/>
<path d="M1640 925C1656.7 911.7 1676.1 933.1 1700 950C1731.2 972.1 1736.1 980.2 1760 1010C1790.4 1048 1799.2 1056 1820 1100C1840.1 1142.5 1838 1154.6 1850 1200C1860.6 1240.1 1863.1 1249.1 1870 1290C1873 1307.8 1877.8 1312.9 1872 1330C1863.6 1354.6 1851 1401.5 1840 1378C1824.3 1344.7 1838.2 1295.6 1825 1230C1815.6 1183.3 1812.3 1172.2 1790 1130C1769 1090.2 1761.8 1081.8 1730 1050C1698.2 1018.2 1676.3 1026.5 1650 990C1632.7 966 1623.3 938.3 1640 925Z" fill="#B084AE"/>
</g>
<clipPath id="hb4"><path d="M302 1331.6C305.3 1300.9 305.4 1292.2 320.9 1265.5C336.1 1239.5 343 1234.7 368.2 1218.2C399.3 1197.9 407.8 1194.2 443.8 1185.2C493.7 1172.7 505.9 1167.2 557.2 1171C593.4 1173.7 601.4 1181 632.8 1199.3C653.6 1211.5 654.5 1219.3 670.6 1237.1C692.8 1261.8 695.5 1269.3 717.8 1293.8C738.1 1316.1 741.7 1322.2 765.1 1341.1C797.2 1367 840.7 1393.1 840.7 1393.1L873.8 1388.3C873.8 1388.3 878.1 1320.7 883.2 1265.5C888.7 1205.9 876.9 1188.3 897.4 1133.2C906.4 1108.9 921.6 1112.1 944.6 1100.1C964.6 1089.8 969.8 1088.1 991.9 1084.1C1017 1079.5 1023.5 1076.6 1048.6 1081.2C1075.8 1086.2 1083.3 1088.2 1105.3 1104.8C1133.4 1126.1 1157.3 1163.4 1157.3 1163.4C1157.3 1163.4 1183.5 1116.9 1199.8 1076.5C1224.8 1014.7 1248.9 936.6 1248.9 936.6C1248.9 936.6 1289.4 929.5 1322.7 930C1369.6 930.8 1380.8 929.2 1426.6 939.5C1466.7 948.5 1475.8 952.5 1511.7 972.5C1548.8 993.3 1557.2 999.2 1587.2 1029.2C1617.3 1059.3 1624.1 1067.2 1644 1104.8C1665 1144.7 1666.5 1155.5 1677 1199.3C1687 1241 1684.3 1251.3 1689.3 1293.8C1691.5 1312.9 1693.1 1336.4 1693.1 1336.4C1693.1 1336.4 1711.1 1268.4 1727.1 1289.1C1743.4 1310.3 1738.1 1349.8 1742 1400C1746.2 1453.9 1743.7 1466 1745 1520C1747.2 1610 1747.8 1630 1750 1720C1752.2 1810 1751.6 1830 1755 1920C1758.3 2006.5 1759.9 2025.6 1765 2112C1768.9 2179.5 1776.2 2194.4 1775 2262C1773.9 2320.9 1778.3 2336 1760 2392C1743.7 2441.9 1737.9 2455.7 1700 2492C1663.2 2527.2 1649.1 2531.6 1600 2545C1547.8 2559.2 1533.9 2557 1480 2552C1420.2 2546.5 1407.2 2540.4 1350 2522C1280.8 2499.8 1266.7 2490.9 1200 2462C1131.7 2432.4 1117.5 2423.5 1050 2392C982.5 2360.5 969.2 2349.7 900 2322C833.9 2295.6 818.7 2290.4 750 2272C692.5 2256.6 678.6 2257.6 620 2247C566.1 2237.3 552.9 2241 500 2227C477.1 2221 453.2 2202.9 453.2 2202.9C453.2 2202.9 483.2 2190.2 502.4 2172.7C522.1 2154.7 530.4 2151 538.3 2125.4C545.9 2101 538.6 2094 534.5 2068.8C531 2047 515.6 2042.8 521.3 2021.5C527.3 1998.8 544.2 2003.2 557.2 1983.7C570.1 1964.4 571.7 1958.8 578 1936.4C583.8 1915.8 584.1 1910.6 583.7 1889.2C583.2 1867.7 583.1 1862.3 576.1 1841.9C566.8 1815 564.9 1808.1 547.8 1785.2C526.1 1756.4 515.6 1755 491 1728.5C460.3 1695.4 452.4 1688.9 424.9 1652.9C397 1616.4 391.5 1607.5 368.2 1567.9C348.9 1535.1 343.3 1528.1 330.4 1492.3C315.5 1451.1 314.4 1441 306.8 1397.8C301.6 1368.4 298.9 1361.3 302 1331.6Z"/></clipPath>
<path d="M302 1331.6C305.3 1300.9 305.4 1292.2 320.9 1265.5C336.1 1239.5 343 1234.7 368.2 1218.2C399.3 1197.9 407.8 1194.2 443.8 1185.2C493.7 1172.7 505.9 1167.2 557.2 1171C593.4 1173.7 601.4 1181 632.8 1199.3C653.6 1211.5 654.5 1219.3 670.6 1237.1C692.8 1261.8 695.5 1269.3 717.8 1293.8C738.1 1316.1 741.7 1322.2 765.1 1341.1C797.2 1367 840.7 1393.1 840.7 1393.1L873.8 1388.3C873.8 1388.3 878.1 1320.7 883.2 1265.5C888.7 1205.9 876.9 1188.3 897.4 1133.2C906.4 1108.9 921.6 1112.1 944.6 1100.1C964.6 1089.8 969.8 1088.1 991.9 1084.1C1017 1079.5 1023.5 1076.6 1048.6 1081.2C1075.8 1086.2 1083.3 1088.2 1105.3 1104.8C1133.4 1126.1 1157.3 1163.4 1157.3 1163.4C1157.3 1163.4 1183.5 1116.9 1199.8 1076.5C1224.8 1014.7 1248.9 936.6 1248.9 936.6C1248.9 936.6 1289.4 929.5 1322.7 930C1369.6 930.8 1380.8 929.2 1426.6 939.5C1466.7 948.5 1475.8 952.5 1511.7 972.5C1548.8 993.3 1557.2 999.2 1587.2 1029.2C1617.3 1059.3 1624.1 1067.2 1644 1104.8C1665 1144.7 1666.5 1155.5 1677 1199.3C1687 1241 1684.3 1251.3 1689.3 1293.8C1691.5 1312.9 1693.1 1336.4 1693.1 1336.4C1693.1 1336.4 1711.1 1268.4 1727.1 1289.1C1743.4 1310.3 1738.1 1349.8 1742 1400C1746.2 1453.9 1743.7 1466 1745 1520C1747.2 1610 1747.8 1630 1750 1720C1752.2 1810 1751.6 1830 1755 1920C1758.3 2006.5 1759.9 2025.6 1765 2112C1768.9 2179.5 1776.2 2194.4 1775 2262C1773.9 2320.9 1778.3 2336 1760 2392C1743.7 2441.9 1737.9 2455.7 1700 2492C1663.2 2527.2 1649.1 2531.6 1600 2545C1547.8 2559.2 1533.9 2557 1480 2552C1420.2 2546.5 1407.2 2540.4 1350 2522C1280.8 2499.8 1266.7 2490.9 1200 2462C1131.7 2432.4 1117.5 2423.5 1050 2392C982.5 2360.5 969.2 2349.7 900 2322C833.9 2295.6 818.7 2290.4 750 2272C692.5 2256.6 678.6 2257.6 620 2247C566.1 2237.3 552.9 2241 500 2227C477.1 2221 453.2 2202.9 453.2 2202.9C453.2 2202.9 483.2 2190.2 502.4 2172.7C522.1 2154.7 530.4 2151 538.3 2125.4C545.9 2101 538.6 2094 534.5 2068.8C531 2047 515.6 2042.8 521.3 2021.5C527.3 1998.8 544.2 2003.2 557.2 1983.7C570.1 1964.4 571.7 1958.8 578 1936.4C583.8 1915.8 584.1 1910.6 583.7 1889.2C583.2 1867.7 583.1 1862.3 576.1 1841.9C566.8 1815 564.9 1808.1 547.8 1785.2C526.1 1756.4 515.6 1755 491 1728.5C460.3 1695.4 452.4 1688.9 424.9 1652.9C397 1616.4 391.5 1607.5 368.2 1567.9C348.9 1535.1 343.3 1528.1 330.4 1492.3C315.5 1451.1 314.4 1441 306.8 1397.8C301.6 1368.4 298.9 1361.3 302 1331.6Z" fill="#FADBE0"/>
<g clip-path="url(#hb4)"><path d="M302 1331.6C305.3 1300.9 305.4 1292.2 320.9 1265.5C336.1 1239.5 343 1234.7 368.2 1218.2C399.3 1197.9 407.8 1194.2 443.8 1185.2C493.7 1172.7 505.9 1167.2 557.2 1171C593.4 1173.7 601.4 1181 632.8 1199.3C653.6 1211.5 654.5 1219.3 670.6 1237.1C692.8 1261.8 695.5 1269.3 717.8 1293.8C738.1 1316.1 741.7 1322.2 765.1 1341.1C797.2 1367 840.7 1393.1 840.7 1393.1L873.8 1388.3C873.8 1388.3 878.1 1320.7 883.2 1265.5C888.7 1205.9 876.9 1188.3 897.4 1133.2C906.4 1108.9 921.6 1112.1 944.6 1100.1C964.6 1089.8 969.8 1088.1 991.9 1084.1C1017 1079.5 1023.5 1076.6 1048.6 1081.2C1075.8 1086.2 1083.3 1088.2 1105.3 1104.8C1133.4 1126.1 1157.3 1163.4 1157.3 1163.4C1157.3 1163.4 1183.5 1116.9 1199.8 1076.5C1224.8 1014.7 1248.9 936.6 1248.9 936.6C1248.9 936.6 1289.4 929.5 1322.7 930C1369.6 930.8 1380.8 929.2 1426.6 939.5C1466.7 948.5 1475.8 952.5 1511.7 972.5C1548.8 993.3 1557.2 999.2 1587.2 1029.2C1617.3 1059.3 1624.1 1067.2 1644 1104.8C1665 1144.7 1666.5 1155.5 1677 1199.3C1687 1241 1684.3 1251.3 1689.3 1293.8C1691.5 1312.9 1693.1 1336.4 1693.1 1336.4C1693.1 1336.4 1711.1 1268.4 1727.1 1289.1C1743.4 1310.3 1738.1 1349.8 1742 1400C1746.2 1453.9 1743.7 1466 1745 1520C1747.2 1610 1747.8 1630 1750 1720C1752.2 1810 1751.6 1830 1755 1920C1758.3 2006.5 1759.9 2025.6 1765 2112C1768.9 2179.5 1776.2 2194.4 1775 2262C1773.9 2320.9 1778.3 2336 1760 2392C1743.7 2441.9 1737.9 2455.7 1700 2492C1663.2 2527.2 1649.1 2531.6 1600 2545C1547.8 2559.2 1533.9 2557 1480 2552C1420.2 2546.5 1407.2 2540.4 1350 2522C1280.8 2499.8 1266.7 2490.9 1200 2462C1131.7 2432.4 1117.5 2423.5 1050 2392C982.5 2360.5 969.2 2349.7 900 2322C833.9 2295.6 818.7 2290.4 750 2272C692.5 2256.6 678.6 2257.6 620 2247C566.1 2237.3 552.9 2241 500 2227C477.1 2221 453.2 2202.9 453.2 2202.9C453.2 2202.9 483.2 2190.2 502.4 2172.7C522.1 2154.7 530.4 2151 538.3 2125.4C545.9 2101 538.6 2094 534.5 2068.8C531 2047 515.6 2042.8 521.3 2021.5C527.3 1998.8 544.2 2003.2 557.2 1983.7C570.1 1964.4 571.7 1958.8 578 1936.4C583.8 1915.8 584.1 1910.6 583.7 1889.2C583.2 1867.7 583.1 1862.3 576.1 1841.9C566.8 1815 564.9 1808.1 547.8 1785.2C526.1 1756.4 515.6 1755 491 1728.5C460.3 1695.4 452.4 1688.9 424.9 1652.9C397 1616.4 391.5 1607.5 368.2 1567.9C348.9 1535.1 343.3 1528.1 330.4 1492.3C315.5 1451.1 314.4 1441 306.8 1397.8C301.6 1368.4 298.9 1361.3 302 1331.6Z" fill="none" stroke="#F6C6CF" stroke-width="90" stroke-linejoin="round"/>
</g>
<path d="M302 1331.6C305.3 1300.9 305.4 1292.2 320.9 1265.5C336.1 1239.5 343 1234.7 368.2 1218.2C399.3 1197.9 407.8 1194.2 443.8 1185.2C493.7 1172.7 505.9 1167.2 557.2 1171C593.4 1173.7 601.4 1181 632.8 1199.3C653.6 1211.5 654.5 1219.3 670.6 1237.1C692.8 1261.8 695.5 1269.3 717.8 1293.8C738.1 1316.1 741.7 1322.2 765.1 1341.1C797.2 1367 840.7 1393.1 840.7 1393.1L873.8 1388.3C873.8 1388.3 878.1 1320.7 883.2 1265.5C888.7 1205.9 876.9 1188.3 897.4 1133.2C906.4 1108.9 921.6 1112.1 944.6 1100.1C964.6 1089.8 969.8 1088.1 991.9 1084.1C1017 1079.5 1023.5 1076.6 1048.6 1081.2C1075.8 1086.2 1083.3 1088.2 1105.3 1104.8C1133.4 1126.1 1157.3 1163.4 1157.3 1163.4C1157.3 1163.4 1183.5 1116.9 1199.8 1076.5C1224.8 1014.7 1248.9 936.6 1248.9 936.6C1248.9 936.6 1289.4 929.5 1322.7 930C1369.6 930.8 1380.8 929.2 1426.6 939.5C1466.7 948.5 1475.8 952.5 1511.7 972.5C1548.8 993.3 1557.2 999.2 1587.2 1029.2C1617.3 1059.3 1624.1 1067.2 1644 1104.8C1665 1144.7 1666.5 1155.5 1677 1199.3C1687 1241 1684.3 1251.3 1689.3 1293.8C1691.5 1312.9 1693.1 1336.4 1693.1 1336.4C1693.1 1336.4 1711.1 1268.4 1727.1 1289.1C1743.4 1310.3 1738.1 1349.8 1742 1400C1746.2 1453.9 1743.7 1466 1745 1520C1747.2 1610 1747.8 1630 1750 1720C1752.2 1810 1751.6 1830 1755 1920C1758.3 2006.5 1759.9 2025.6 1765 2112C1768.9 2179.5 1776.2 2194.4 1775 2262C1773.9 2320.9 1778.3 2336 1760 2392C1743.7 2441.9 1737.9 2455.7 1700 2492C1663.2 2527.2 1649.1 2531.6 1600 2545C1547.8 2559.2 1533.9 2557 1480 2552C1420.2 2546.5 1407.2 2540.4 1350 2522C1280.8 2499.8 1266.7 2490.9 1200 2462C1131.7 2432.4 1117.5 2423.5 1050 2392C982.5 2360.5 969.2 2349.7 900 2322C833.9 2295.6 818.7 2290.4 750 2272C692.5 2256.6 678.6 2257.6 620 2247C566.1 2237.3 552.9 2241 500 2227C477.1 2221 453.2 2202.9 453.2 2202.9C453.2 2202.9 483.2 2190.2 502.4 2172.7C522.1 2154.7 530.4 2151 538.3 2125.4C545.9 2101 538.6 2094 534.5 2068.8C531 2047 515.6 2042.8 521.3 2021.5C527.3 1998.8 544.2 2003.2 557.2 1983.7C570.1 1964.4 571.7 1958.8 578 1936.4C583.8 1915.8 584.1 1910.6 583.7 1889.2C583.2 1867.7 583.1 1862.3 576.1 1841.9C566.8 1815 564.9 1808.1 547.8 1785.2C526.1 1756.4 515.6 1755 491 1728.5C460.3 1695.4 452.4 1688.9 424.9 1652.9C397 1616.4 391.5 1607.5 368.2 1567.9C348.9 1535.1 343.3 1528.1 330.4 1492.3C315.5 1451.1 314.4 1441 306.8 1397.8C301.6 1368.4 298.9 1361.3 302 1331.6Z" fill="none" stroke="#6e5a66" stroke-width="4"/>
<path d="M302 1331.6C305.3 1300.9 305.4 1292.2 320.9 1265.5C336.1 1239.5 343 1234.7 368.2 1218.2C399.3 1197.9 407.8 1194.2 443.8 1185.2C493.7 1172.7 505.9 1167.2 557.2 1171C593.4 1173.7 601.4 1181 632.8 1199.3C653.6 1211.5 654.5 1219.3 670.6 1237.1C692.8 1261.8 695.5 1269.3 717.8 1293.8C738.1 1316.1 741.7 1322.2 765.1 1341.1C797.2 1367 840.7 1393.1 840.7 1393.1L873.8 1388.3C873.8 1388.3 878.1 1320.7 883.2 1265.5C888.7 1205.9 876.9 1188.3 897.4 1133.2C906.4 1108.9 921.6 1112.1 944.6 1100.1C964.6 1089.8 969.8 1088.1 991.9 1084.1C1017 1079.5 1023.5 1076.6 1048.6 1081.2C1075.8 1086.2 1083.3 1088.2 1105.3 1104.8C1133.4 1126.1 1157.3 1163.4 1157.3 1163.4C1157.3 1163.4 1183.5 1116.9 1199.8 1076.5C1224.8 1014.7 1248.9 936.6 1248.9 936.6C1248.9 936.6 1289.4 929.5 1322.7 930C1369.6 930.8 1380.8 929.2 1426.6 939.5C1466.7 948.5 1475.8 952.5 1511.7 972.5C1548.8 993.3 1557.2 999.2 1587.2 1029.2C1617.3 1059.3 1624.1 1067.2 1644 1104.8C1665 1144.7 1666.5 1155.5 1677 1199.3C1687 1241 1684.4 1251.2 1689.3 1293.8C1691.6 1314.2 1693.1 1339.2 1693.1 1339.2C1693.1 1339.2 1692.2 1427.6 1692 1500C1691.7 1590 1692.4 1610 1692 1700C1691.5 1790 1690.9 1810 1690 1900C1689.1 1990 1690.7 2010 1688 2100C1686.2 2158.6 1688.1 2172 1680 2230C1675.5 2262.4 1674.5 2270.6 1660 2300C1647 2326.5 1643.4 2334 1620 2352C1596.8 2369.8 1589.1 2373.9 1560 2377C1523.9 2380.9 1515.5 2374.6 1480 2367C1420.8 2354.3 1407.4 2351.5 1350 2332C1281.2 2308.6 1266.7 2300.9 1200 2272C1131.7 2242.4 1116.6 2235.3 1050 2202C981.6 2167.8 966.6 2159.7 900 2122C831.5 2083.2 817 2073.3 750 2032C700 2001.2 687.8 1996.1 640 1962C620 1947.8 615 1944.4 600 1925C589.2 1911 588.6 1906.2 583.7 1889.2C577.7 1868.5 583.1 1862.3 576.1 1841.9C566.8 1815 564.9 1808.1 547.8 1785.2C526.1 1756.4 515.6 1755 491 1728.5C460.3 1695.4 452.4 1688.9 424.9 1652.9C397 1616.4 391.5 1607.5 368.2 1567.9C348.9 1535.1 343.3 1528.1 330.4 1492.3C315.5 1451.1 314.4 1441 306.8 1397.8C301.6 1368.4 298.9 1361.3 302 1331.6Z" fill="#FCE4E7" stroke="#6e5a66" stroke-width="4"/>
<path d="M640 1935C640 1935 705.2 1980.2 760 2015C822.2 2054.5 835.9 2063.6 900 2100C966.5 2137.8 981.6 2145.8 1050 2180C1116.6 2213.3 1131.7 2220.4 1200 2250C1266.7 2278.9 1281.2 2286.6 1350 2310C1407.4 2329.5 1420.8 2332.3 1480 2345C1515.5 2352.6 1523.8 2357.8 1560 2355C1584.2 2353.1 1590.4 2349.2 1610 2335C1632 2319.1 1637.4 2314 1650 2290C1664.2 2263.2 1664.5 2255.1 1668 2225C1674.5 2169.1 1671 2156.3 1672 2100C1673.7 2010 1673.4 1990 1674 1900C1675.2 1720 1676 1500 1676 1500" fill="none" stroke="#FFFFFF" stroke-width="8"/>
<path d="M339.5 1333.7C341.8 1315.3 340.1 1309.6 349.5 1293.7C360.3 1275.4 364.8 1271.4 382.9 1260.3C404.8 1246.8 411.2 1245.8 436.3 1240.2C465.8 1233.7 472.9 1233.6 503.1 1233.6C533.2 1233.6 540 1235.3 569.8 1240.2C594.2 1244.3 601.4 1241.9 623.2 1253.6C641.9 1263.7 644.8 1269.3 656.6 1287C669.3 1306 665.8 1313.6 676.6 1333.7C686.9 1352.8 690.6 1356.2 703.3 1373.8C714.6 1389.3 716.4 1393.5 730 1407.1C743.6 1420.7 747.9 1422.4 763.4 1433.8C776.5 1443.5 783.6 1441.4 793.4 1453.8C801.1 1463.6 802.4 1468.4 800.1 1480.5C797.5 1494.5 791.4 1495.6 783.4 1507.2C774.9 1519.6 771.7 1521.5 763.4 1534C753.7 1548.5 752.2 1554 743.4 1567.3C738 1575.3 737.5 1578 730 1584C722.1 1590.3 719.8 1591.9 710 1594C698.2 1596.5 694.9 1591.1 683.3 1594C670.2 1597.3 668.3 1600.9 656.6 1607.4C641.3 1615.9 638.6 1619 623.2 1627.4C605.5 1637 601.5 1639 583.1 1647.4C565.4 1655.6 561.7 1658.2 543.1 1664.1C528.5 1668.8 524.8 1673.3 509.7 1670.8C495.7 1668.5 493.4 1663.8 483 1654.1C469 1640.9 467.9 1636.1 456.3 1620.7C440.8 1600.1 437.3 1595.5 422.9 1574C407.2 1550.4 403.5 1545.3 389.6 1520.6C376.4 1497.2 373 1492.1 362.9 1467.2C353.4 1443.9 352.3 1438.2 346.2 1413.8C341.8 1396.1 341 1392 339.5 1373.8C338 1355.8 337.3 1351.6 339.5 1333.7Z" fill="#DC8694" stroke="#FFFFFF" stroke-width="9"/>
<path d="M339.5 1333.7C341.8 1315.3 340.1 1309.6 349.5 1293.7C360.3 1275.4 364.8 1271.4 382.9 1260.3C404.8 1246.8 411.2 1245.8 436.3 1240.2C465.8 1233.7 472.9 1233.6 503.1 1233.6C533.2 1233.6 540 1235.3 569.8 1240.2C594.2 1244.3 601.4 1241.9 623.2 1253.6C641.9 1263.7 644.8 1269.3 656.6 1287C669.3 1306 665.8 1313.6 676.6 1333.7C686.9 1352.8 690.6 1356.2 703.3 1373.8C714.6 1389.3 716.4 1393.5 730 1407.1C743.6 1420.7 747.9 1422.4 763.4 1433.8C776.5 1443.5 783.6 1441.4 793.4 1453.8C801.1 1463.6 802.4 1468.4 800.1 1480.5C797.5 1494.5 791.4 1495.6 783.4 1507.2C774.9 1519.6 771.7 1521.5 763.4 1534C753.7 1548.5 752.2 1554 743.4 1567.3C738 1575.3 737.5 1578 730 1584C722.1 1590.3 719.8 1591.9 710 1594C698.2 1596.5 694.9 1591.1 683.3 1594C670.2 1597.3 668.3 1600.9 656.6 1607.4C641.3 1615.9 638.6 1619 623.2 1627.4C605.5 1637 601.5 1639 583.1 1647.4C565.4 1655.6 561.7 1658.2 543.1 1664.1C528.5 1668.8 524.8 1673.3 509.7 1670.8C495.7 1668.5 493.4 1663.8 483 1654.1C469 1640.9 467.9 1636.1 456.3 1620.7C440.8 1600.1 437.3 1595.5 422.9 1574C407.2 1550.4 403.5 1545.3 389.6 1520.6C376.4 1497.2 373 1492.1 362.9 1467.2C353.4 1443.9 352.3 1438.2 346.2 1413.8C341.8 1396.1 341 1392 339.5 1373.8C338 1355.8 337.3 1351.6 339.5 1333.7Z" fill="none" stroke="#6e5a66" stroke-width="3"/>
<path d="M409.6 1413.8C411.3 1396.9 421.4 1395.2 436.3 1387.1C455.5 1376.6 461.8 1379.1 483 1373.8C509.9 1367 516.5 1368.2 543.1 1360.4C567.7 1353.2 571.8 1347.4 596.5 1340.4C614.1 1335.4 618.6 1330.1 636.5 1333.7C651.3 1336.6 654 1341.9 663.2 1353.7C675.6 1369.6 673.1 1376.4 683.3 1393.8C694.2 1412.5 697.6 1416.1 710 1433.8C718.6 1446.1 726.7 1445.9 730 1460.5C733.3 1475.5 730.8 1480.5 723.3 1493.9C715.1 1508.8 709.9 1510 696.6 1520.6C679.7 1534.1 675.6 1537 656.6 1547.3C636.4 1558.1 631.4 1559.6 609.8 1567.3C589.3 1574.7 584.9 1578.9 563.1 1580.7C547.9 1581.9 542.7 1582.1 529.8 1574C517 1566 517.5 1560.2 509.7 1547.3C499.4 1530 501.3 1523.8 489.7 1507.2C480 1493.3 475.7 1491.8 463 1480.5C448.6 1467.8 441.6 1468.9 429.6 1453.8C417 1438.1 407.6 1433.8 409.6 1413.8Z" fill="#E69CA8"/>
<path d="M379.6 1280.3C382.6 1269 386.1 1266.1 396.2 1260.3C418.5 1247.5 424.7 1246.1 449.6 1240.2C476.1 1234 482.5 1232.7 509.7 1233.6C531.2 1234.2 539.8 1232.5 556.5 1243.6C565.3 1249.5 563.7 1257.1 559.8 1267C553.9 1281.8 549.6 1284.6 536.4 1293.7C520.3 1304.7 515.2 1305.3 496.4 1310.3C475.9 1315.9 470.9 1317 449.6 1317C431.4 1317 427 1315.8 409.6 1310.3C398.1 1306.7 394.8 1305.5 386.2 1297C380.5 1291.3 377.4 1288.1 379.6 1280.3Z" fill="#B8294F"/>
<path d="M396.2 1323.7C396.2 1323.7 432.6 1334.9 463 1333.7C487.9 1332.7 493.5 1328.8 516.4 1319C536 1310.6 556.5 1293.7 556.5 1293.7" fill="none" stroke="#F8D6DC" stroke-width="6"/>
<path d="M382.9 1527.3C386.2 1519.5 395.3 1530.7 402.9 1537.3C416.7 1549.1 419.1 1552.6 429.6 1567.3C441.8 1584.3 444.7 1588.2 453 1607.4C459.8 1623.1 466.3 1637.4 463 1644.1C459.7 1650.8 451 1636 443 1627.4C429.9 1613.3 427.8 1609.4 416.3 1594C405.3 1579.4 401.1 1577 392.9 1560.7C385.9 1546.6 379.6 1535.1 382.9 1527.3Z" fill="#B8294F"/>
<path d="M629.9 1674.1C626.9 1659.1 629.7 1654.4 636.5 1640.8C645.2 1623.5 648.1 1619.2 663.2 1607.4C676 1597.4 681.1 1598.7 696.6 1594C711.3 1589.6 716.3 1594.2 730 1587.3C741.4 1581.7 740.3 1575.6 750 1567.3C761.4 1557.6 764.4 1555.9 776.7 1547.3C794.5 1534.9 800 1534.3 816.8 1520.6C833.2 1507.2 838.4 1504.9 850.1 1487.2C862.8 1468.2 859.5 1460.1 870.2 1440.5C877.4 1427.3 881 1425.7 890.2 1413.8C902 1398.6 902.5 1393.2 916.9 1380.4C930 1368.8 934 1366.9 950.3 1360.4C964.5 1354.7 968.9 1357.8 983.6 1353.7C996 1350.3 997.5 1343.7 1010.4 1343.7C1023.2 1343.7 1024.6 1350.6 1037 1353.7C1048.8 1356.7 1051.7 1355.6 1063.8 1357.1C1077.3 1358.7 1085.5 1349.6 1093.8 1360.4C1102.7 1372 1095.8 1382.4 1097.1 1400.5C1098.8 1424.5 1097.8 1429.9 1100.5 1453.8C1103.8 1484 1105.2 1490.7 1110.5 1520.6C1115.8 1550.8 1117.8 1557.3 1123.8 1587.3C1129.8 1617.4 1130.1 1624.3 1137.2 1654.1C1145.1 1687.4 1147.8 1694.6 1157.2 1727.5C1165.8 1757.7 1168.2 1764.2 1177.2 1794.3C1186.2 1824.3 1188.2 1831 1197.2 1861C1206.3 1891.1 1208.3 1897.7 1217.3 1927.8C1226.3 1957.8 1230.2 1964 1237.3 1994.5C1242.8 2018.2 1248 2026.9 1245.3 2047.9C1243.5 2061.8 1240.6 2077.6 1227.3 2073.3C1210.9 2067.9 1203.7 2048.1 1183.9 2027.9C1160.1 2003.6 1158 1994.4 1130.5 1974.5C1103.3 1954.8 1095.4 1952.2 1063.8 1941.1C1034.8 1931 1026.7 1935.2 997 1927.8C966.6 1920.2 958.7 1920.2 930.2 1907.8C910.4 1899.1 904.4 1895.3 890.2 1881C880.7 1871.6 885.8 1864.4 876.9 1854.3C862.6 1838.3 855.9 1834.6 836.8 1821C813.7 1804.5 807.4 1802.6 783.4 1787.6C759.4 1772.6 754.3 1768.8 730 1754.2C709.2 1741.8 704.2 1739.7 683.3 1727.5C668.1 1718.7 662.3 1719.9 649.9 1707.5C637.5 1695.1 633.3 1691.3 629.9 1674.1Z" fill="#DC8694" stroke="#FFFFFF" stroke-width="9"/>
<path d="M629.9 1674.1C626.9 1659.1 629.7 1654.4 636.5 1640.8C645.2 1623.5 648.1 1619.2 663.2 1607.4C676 1597.4 681.1 1598.7 696.6 1594C711.3 1589.6 716.3 1594.2 730 1587.3C741.4 1581.7 740.3 1575.6 750 1567.3C761.4 1557.6 764.4 1555.9 776.7 1547.3C794.5 1534.9 800 1534.3 816.8 1520.6C833.2 1507.2 838.4 1504.9 850.1 1487.2C862.8 1468.2 859.5 1460.1 870.2 1440.5C877.4 1427.3 881 1425.7 890.2 1413.8C902 1398.6 902.5 1393.2 916.9 1380.4C930 1368.8 934 1366.9 950.3 1360.4C964.5 1354.7 968.9 1357.8 983.6 1353.7C996 1350.3 997.5 1343.7 1010.4 1343.7C1023.2 1343.7 1024.6 1350.6 1037 1353.7C1048.8 1356.7 1051.7 1355.6 1063.8 1357.1C1077.3 1358.7 1085.5 1349.6 1093.8 1360.4C1102.7 1372 1095.8 1382.4 1097.1 1400.5C1098.8 1424.5 1097.8 1429.9 1100.5 1453.8C1103.8 1484 1105.2 1490.7 1110.5 1520.6C1115.8 1550.8 1117.8 1557.3 1123.8 1587.3C1129.8 1617.4 1130.1 1624.3 1137.2 1654.1C1145.1 1687.4 1147.8 1694.6 1157.2 1727.5C1165.8 1757.7 1168.2 1764.2 1177.2 1794.3C1186.2 1824.3 1188.2 1831 1197.2 1861C1206.3 1891.1 1208.3 1897.7 1217.3 1927.8C1226.3 1957.8 1230.2 1964 1237.3 1994.5C1242.8 2018.2 1248 2026.9 1245.3 2047.9C1243.5 2061.8 1240.6 2077.6 1227.3 2073.3C1210.9 2067.9 1203.7 2048.1 1183.9 2027.9C1160.1 2003.6 1158 1994.4 1130.5 1974.5C1103.3 1954.8 1095.4 1952.2 1063.8 1941.1C1034.8 1931 1026.7 1935.2 997 1927.8C966.6 1920.2 958.7 1920.2 930.2 1907.8C910.4 1899.1 904.4 1895.3 890.2 1881C880.7 1871.6 885.8 1864.4 876.9 1854.3C862.6 1838.3 855.9 1834.6 836.8 1821C813.7 1804.5 807.4 1802.6 783.4 1787.6C759.4 1772.6 754.3 1768.8 730 1754.2C709.2 1741.8 704.2 1739.7 683.3 1727.5C668.1 1718.7 662.3 1719.9 649.9 1707.5C637.5 1695.1 633.3 1691.3 629.9 1674.1Z" fill="none" stroke="#6e5a66" stroke-width="3"/>
<path d="M770 1660.8C779.7 1635.7 781.8 1629.7 796.8 1607.4C812.1 1584.3 817.9 1580.9 836.8 1560.7C860 1535.8 867.8 1532.8 890.2 1507.2C910 1484.6 909.9 1475.9 930.2 1453.8C946.2 1436.6 948.7 1429.7 970.3 1420.5C992.6 1410.9 999.5 1412.1 1023.7 1413.8C1042.6 1415.2 1057.4 1409.3 1063.8 1427.2C1074.9 1458.3 1062 1471.4 1057.1 1507.2C1052.9 1537.6 1049.7 1544 1043.7 1574C1037.7 1604 1030.4 1610.1 1030.4 1640.8C1030.4 1671.4 1036.3 1677.8 1043.7 1707.5C1051.3 1737.9 1053.4 1744.7 1063.8 1774.2C1074.4 1804.8 1076 1812.1 1090.4 1841C1106.1 1872.3 1111.4 1878.4 1130.5 1907.8C1150.5 1938.5 1177.2 1967.8 1177.2 1974.5C1177.2 1981.2 1155.5 1943.9 1130.5 1927.8C1103.3 1910.2 1094.3 1911.8 1063.8 1901.1C1034.2 1890.7 1026.1 1892.7 997 1881C965.8 1868.6 958.4 1865.9 930.2 1847.7C907 1832.6 904.6 1825.6 883.5 1807.6C862.5 1789.6 857.8 1785.6 836.8 1767.6C815.8 1749.6 809.7 1747.1 790.1 1727.5C776.5 1713.9 768.9 1712.6 763.4 1694.2C759 1679.5 764.6 1675.1 770 1660.8Z" fill="#E69CA8"/>
<path d="M936.9 1307C935.1 1283.9 940.6 1270.3 943.6 1240.2C946.6 1210.2 944.9 1197.5 950.3 1173.5C952.9 1161.7 953.8 1157.2 963.6 1150.1C976.1 1141.2 981.4 1141.9 997 1140.1C1020.1 1137.5 1026.6 1136.7 1050.4 1140.1C1069.2 1142.8 1075.3 1144.6 1090.4 1153.5C1100.6 1159.4 1105.2 1161.9 1107.1 1173.5C1111.1 1196.6 1106.2 1210.2 1105.1 1240.2C1104.1 1270.3 1106.4 1282.1 1102.5 1307C1100.4 1320 1100.4 1325.1 1090.4 1333.7C1081.1 1341.8 1076.1 1340.4 1063.8 1340.4C1051.4 1340.4 1049.1 1336.7 1037 1333.7C1025 1330.7 1022.7 1327 1010.4 1327C998 1327 996 1333.7 983.6 1333.7C968.3 1333.7 962.7 1334.1 950.3 1327C940.9 1321.7 937.8 1317.8 936.9 1307Z" fill="#DC8694" stroke="#FFFFFF" stroke-width="9"/>
<path d="M936.9 1307C935.1 1283.9 940.6 1270.3 943.6 1240.2C946.6 1210.2 944.9 1197.5 950.3 1173.5C952.9 1161.7 953.8 1157.2 963.6 1150.1C976.1 1141.2 981.4 1141.9 997 1140.1C1020.1 1137.5 1026.6 1136.7 1050.4 1140.1C1069.2 1142.8 1075.3 1144.6 1090.4 1153.5C1100.6 1159.4 1105.2 1161.9 1107.1 1173.5C1111.1 1196.6 1106.2 1210.2 1105.1 1240.2C1104.1 1270.3 1106.4 1282.1 1102.5 1307C1100.4 1320 1100.4 1325.1 1090.4 1333.7C1081.1 1341.8 1076.1 1340.4 1063.8 1340.4C1051.4 1340.4 1049.1 1336.7 1037 1333.7C1025 1330.7 1022.7 1327 1010.4 1327C998 1327 996 1333.7 983.6 1333.7C968.3 1333.7 962.7 1334.1 950.3 1327C940.9 1321.7 937.8 1317.8 936.9 1307Z" fill="none" stroke="#6e5a66" stroke-width="3"/>
<path d="M983.6 1213.5C994.5 1191.9 1013.1 1203.5 1037 1206.9C1057 1209.7 1068.7 1208.6 1077.1 1226.9C1089.7 1254.2 1090.4 1267 1077.1 1293.7C1068.6 1310.6 1056 1305.5 1037 1307C1015.9 1308.6 1000.9 1318.8 990.3 1300.3C972.5 1269.2 968.1 1244.7 983.6 1213.5Z" fill="#E69CA8"/>
<path d="M956.9 1153.5C959.2 1141.2 978.2 1142.5 997 1140.1C1020.8 1137.1 1026.7 1137.7 1050.4 1141.5C1069.2 1144.4 1073.9 1145.5 1090.4 1154.8C1100.3 1160.4 1109.4 1163.9 1107.1 1173.5C1104.9 1183.1 1095 1181.4 1083.8 1183.5C1063.1 1187.5 1058.1 1188.4 1037 1186.8C1015.6 1185.3 1010.2 1185.1 990.3 1176.8C973.4 1169.8 954.7 1165.7 956.9 1153.5Z" fill="#B8294F"/>
<path d="M1157.2 1183.5C1164.5 1172.9 1172.4 1187.8 1183.9 1193.5C1201.7 1202.4 1205.9 1206.4 1224 1216.9C1242 1227.4 1247.1 1228.7 1264 1240.2C1275.4 1248.1 1287.4 1249.6 1287.4 1260.3C1287.4 1271 1275.5 1272.6 1264 1280.3C1252.8 1287.8 1249.8 1291 1237.3 1293.7C1228.4 1295.6 1225.9 1287.4 1217.3 1290.3C1206.6 1293.9 1207.1 1300.7 1197.2 1307C1186 1314.3 1182.1 1318.6 1170.5 1320.3C1162.6 1321.6 1155.7 1321.6 1153.9 1313.7C1148.9 1292.3 1151 1273.3 1151.9 1240.2C1152.5 1214.6 1148.7 1196 1157.2 1183.5Z" fill="#DC8694" stroke="#FFFFFF" stroke-width="9"/>
<path d="M1157.2 1183.5C1164.5 1172.9 1172.4 1187.8 1183.9 1193.5C1201.7 1202.4 1205.9 1206.4 1224 1216.9C1242 1227.4 1247.1 1228.7 1264 1240.2C1275.4 1248.1 1287.4 1249.6 1287.4 1260.3C1287.4 1271 1275.5 1272.6 1264 1280.3C1252.8 1287.8 1249.8 1291 1237.3 1293.7C1228.4 1295.6 1225.9 1287.4 1217.3 1290.3C1206.6 1293.9 1207.1 1300.7 1197.2 1307C1186 1314.3 1182.1 1318.6 1170.5 1320.3C1162.6 1321.6 1155.7 1321.6 1153.9 1313.7C1148.9 1292.3 1151 1273.3 1151.9 1240.2C1152.5 1214.6 1148.7 1196 1157.2 1183.5Z" fill="none" stroke="#6e5a66" stroke-width="3"/>
<path d="M1170 1120C1170.7 1088.8 1177.7 1076 1200 1050C1220.3 1026.3 1229.9 1023.6 1260 1015C1294.7 1005.1 1304.1 1006.6 1340 1010C1376.9 1013.5 1385.3 1017 1420 1030C1457.7 1044.1 1466.1 1048.2 1500 1070C1529.6 1089 1537 1093.4 1560 1120C1580.4 1143.7 1585.6 1150.2 1595 1180C1603.1 1205.9 1607.2 1214.8 1597.8 1240.2C1588.9 1264.1 1577.3 1264 1557.7 1280.3C1541.1 1294.2 1537 1297.3 1517.6 1307C1494.7 1318.5 1488.6 1318.9 1464.2 1327C1443.5 1333.9 1435.3 1338.6 1417.5 1340.4C1408.1 1341.3 1405.2 1339.2 1397.5 1333.7C1385 1324.8 1382.1 1319.7 1370.8 1307C1358 1292.6 1356.9 1288 1344.1 1273.6C1332.8 1260.9 1330.7 1257.5 1317.4 1246.9C1300.5 1233.4 1295.4 1232.2 1277.3 1220.2C1259.3 1208.2 1255.3 1205.5 1237.3 1193.5C1219.3 1181.5 1211.9 1182.8 1197.2 1166.8C1180.8 1148.8 1169.4 1144.4 1170 1120Z" fill="#DC8694" stroke="#FFFFFF" stroke-width="9"/>
<path d="M1170 1120C1170.7 1088.8 1177.7 1076 1200 1050C1220.3 1026.3 1229.9 1023.6 1260 1015C1294.7 1005.1 1304.1 1006.6 1340 1010C1376.9 1013.5 1385.3 1017 1420 1030C1457.7 1044.1 1466.1 1048.2 1500 1070C1529.6 1089 1537 1093.4 1560 1120C1580.4 1143.7 1585.6 1150.2 1595 1180C1603.1 1205.9 1607.2 1214.8 1597.8 1240.2C1588.9 1264.1 1577.3 1264 1557.7 1280.3C1541.1 1294.2 1537 1297.3 1517.6 1307C1494.7 1318.5 1488.6 1318.9 1464.2 1327C1443.5 1333.9 1435.3 1338.6 1417.5 1340.4C1408.1 1341.3 1405.2 1339.2 1397.5 1333.7C1385 1324.8 1382.1 1319.7 1370.8 1307C1358 1292.6 1356.9 1288 1344.1 1273.6C1332.8 1260.9 1330.7 1257.5 1317.4 1246.9C1300.5 1233.4 1295.4 1232.2 1277.3 1220.2C1259.3 1208.2 1255.3 1205.5 1237.3 1193.5C1219.3 1181.5 1211.9 1182.8 1197.2 1166.8C1180.8 1148.8 1169.4 1144.4 1170 1120Z" fill="none" stroke="#6e5a66" stroke-width="3"/>
<path d="M1277.3 1100.1C1290.1 1078.8 1306 1085.4 1330.8 1086.7C1362.1 1088.5 1370.1 1091.5 1397.5 1106.8C1425.4 1122.3 1429.1 1130.2 1450.9 1153.5C1474.3 1178.5 1482.3 1182.9 1497.6 1213.5C1507.1 1232.5 1512.5 1240.7 1504.3 1260.3C1495.3 1281.9 1486.8 1287.2 1464.2 1293.7C1441 1300.3 1433.1 1296.5 1410.8 1287C1389.3 1277.7 1387.4 1270.2 1370.8 1253.6C1351.2 1234 1348 1228.5 1330.8 1206.9C1312 1183.4 1304.1 1180.3 1290.7 1153.5C1279.6 1131.3 1264.6 1121.3 1277.3 1100.1Z" fill="#E69CA8"/>
<ellipse cx="1477.6" cy="1103.4" rx="15" ry="42" fill="#B8294F" transform="rotate(-25 1477.6 1103.4)"/>
<ellipse cx="1544.3" cy="1200.2" rx="15" ry="32" fill="#B8294F" transform="rotate(-35 1544.3 1200.2)"/>
<path d="M1157.2 1367.1C1160.3 1349.8 1164.8 1346.1 1177.2 1333.7C1189.6 1321.3 1194.7 1320.9 1210.6 1313.7C1227.9 1305.8 1232.1 1304.3 1250.6 1300.3C1274.3 1295.3 1279.8 1293.7 1304 1293.7C1322.3 1293.7 1327.1 1293.5 1344.1 1300.3C1358 1305.9 1360.2 1309.7 1370.8 1320.3C1381.4 1331 1381.5 1335.2 1390.8 1347C1398.1 1356.3 1407.5 1367.1 1407.5 1367.1C1407.5 1367.1 1418.8 1354.9 1430.9 1353.7C1449.6 1351.9 1457.2 1354.6 1477.6 1360.4C1499.6 1366.7 1505.3 1367.7 1524.3 1380.4C1542 1392.2 1547.1 1395.4 1557.7 1413.8C1570.3 1435.6 1570.2 1442.4 1574.4 1467.2C1579.3 1496.9 1576.1 1503.9 1577.7 1534C1579.1 1558 1578.4 1564.2 1581.1 1587.3C1582.8 1602.6 1588.4 1605.4 1587.7 1620.7C1586.9 1639.3 1579.1 1642.3 1577.7 1660.8C1576.1 1681.8 1584.5 1686.7 1581.1 1707.5C1578.3 1724.1 1574.2 1728.4 1564.4 1740.9C1557.7 1749.4 1548 1744 1544.3 1754.2C1539.9 1766.7 1550.4 1772.7 1547.7 1787.6C1544.2 1806.8 1533.4 1808.3 1531 1827.7C1528.7 1845.8 1539.2 1849.5 1537.7 1867.7C1536.1 1886.6 1531.1 1890 1524.3 1907.8C1516.1 1929.1 1512 1932.9 1504.3 1954.5C1496.9 1975.1 1501.4 1982 1491 2001.2C1482.8 2016.1 1478.5 2022.6 1464.2 2027.9C1452.7 2032.2 1446.3 2030 1437.5 2021.2C1423.3 2007 1422.7 1995.6 1410.8 1974.5C1395.7 1947.5 1391.3 1942.1 1377.5 1914.4C1361.2 1882 1358.6 1874.3 1344.1 1841C1328.5 1805.2 1325.7 1796.9 1310.7 1760.9C1295.7 1724.9 1292.4 1716.8 1277.3 1680.8C1262.3 1644.8 1259 1636.7 1244 1600.7C1229 1564.7 1225.4 1556.7 1210.6 1520.6C1198.4 1490.7 1196.2 1483.8 1183.9 1453.8C1175.2 1432.7 1170.6 1429 1163.9 1407.1C1158.5 1389.7 1153.9 1385.1 1157.2 1367.1Z" fill="#DC8694" stroke="#FFFFFF" stroke-width="9"/>
<path d="M1157.2 1367.1C1160.3 1349.8 1164.8 1346.1 1177.2 1333.7C1189.6 1321.3 1194.7 1320.9 1210.6 1313.7C1227.9 1305.8 1232.1 1304.3 1250.6 1300.3C1274.3 1295.3 1279.8 1293.7 1304 1293.7C1322.3 1293.7 1327.1 1293.5 1344.1 1300.3C1358 1305.9 1360.2 1309.7 1370.8 1320.3C1381.4 1331 1381.5 1335.2 1390.8 1347C1398.1 1356.3 1407.5 1367.1 1407.5 1367.1C1407.5 1367.1 1418.8 1354.9 1430.9 1353.7C1449.6 1351.9 1457.2 1354.6 1477.6 1360.4C1499.6 1366.7 1505.3 1367.7 1524.3 1380.4C1542 1392.2 1547.1 1395.4 1557.7 1413.8C1570.3 1435.6 1570.2 1442.4 1574.4 1467.2C1579.3 1496.9 1576.1 1503.9 1577.7 1534C1579.1 1558 1578.4 1564.2 1581.1 1587.3C1582.8 1602.6 1588.4 1605.4 1587.7 1620.7C1586.9 1639.3 1579.1 1642.3 1577.7 1660.8C1576.1 1681.8 1584.5 1686.7 1581.1 1707.5C1578.3 1724.1 1574.2 1728.4 1564.4 1740.9C1557.7 1749.4 1548 1744 1544.3 1754.2C1539.9 1766.7 1550.4 1772.7 1547.7 1787.6C1544.2 1806.8 1533.4 1808.3 1531 1827.7C1528.7 1845.8 1539.2 1849.5 1537.7 1867.7C1536.1 1886.6 1531.1 1890 1524.3 1907.8C1516.1 1929.1 1512 1932.9 1504.3 1954.5C1496.9 1975.1 1501.4 1982 1491 2001.2C1482.8 2016.1 1478.5 2022.6 1464.2 2027.9C1452.7 2032.2 1446.3 2030 1437.5 2021.2C1423.3 2007 1422.7 1995.6 1410.8 1974.5C1395.7 1947.5 1391.3 1942.1 1377.5 1914.4C1361.2 1882 1358.6 1874.3 1344.1 1841C1328.5 1805.2 1325.7 1796.9 1310.7 1760.9C1295.7 1724.9 1292.4 1716.8 1277.3 1680.8C1262.3 1644.8 1259 1636.7 1244 1600.7C1229 1564.7 1225.4 1556.7 1210.6 1520.6C1198.4 1490.7 1196.2 1483.8 1183.9 1453.8C1175.2 1432.7 1170.6 1429 1163.9 1407.1C1158.5 1389.7 1153.9 1385.1 1157.2 1367.1Z" fill="none" stroke="#6e5a66" stroke-width="3"/>
<path d="M1217.3 1400.5C1223.6 1382.3 1233.2 1381.8 1250.6 1373.8C1273.1 1363.4 1279.3 1360.4 1304 1360.4C1328.8 1360.4 1334.7 1364 1357.5 1373.8C1377.4 1382.3 1379.5 1388.4 1397.5 1400.5C1415.5 1412.5 1417.9 1418.1 1437.5 1427.2C1457.4 1436.3 1465.4 1429.5 1484.3 1440.5C1502.6 1451.2 1509.8 1454.2 1517.6 1473.9C1528.9 1501.9 1523.6 1510.4 1524.3 1540.6C1525.1 1570.7 1524 1577.4 1521 1607.4C1518 1637.6 1516.2 1644.2 1511 1674.1C1505.7 1704.3 1503.6 1710.8 1497.6 1740.9C1491.6 1770.9 1491.7 1777.9 1484.3 1807.6C1476.7 1838 1475.9 1845.3 1464.2 1874.4C1457.7 1890.6 1459.8 1905.5 1444.2 1907.8C1428.6 1910 1426.3 1895.6 1417.5 1881C1398.9 1849.9 1398.6 1840.9 1384.1 1807.6C1368.6 1771.8 1365.8 1763.6 1350.8 1727.5C1335.8 1691.5 1332.4 1683.5 1317.4 1647.4C1302.4 1611.4 1299 1603.4 1284 1567.3C1269 1531.3 1266.6 1522.9 1250.6 1487.2C1241.1 1465.8 1235.7 1462.4 1227.3 1440.5C1220.6 1423.2 1211.1 1418 1217.3 1400.5Z" fill="#E69CA8"/>
<path d="M1120.5 1360.4C1120.5 1360.4 1123 1405 1130.5 1440.5C1139.6 1483.3 1143.4 1492.5 1157.2 1534C1173.4 1582.6 1178.2 1593.1 1197.2 1640.8C1214.2 1683.2 1219.3 1692.1 1237.3 1734.2C1255.3 1776.3 1258.2 1786.1 1277.3 1827.7C1294.2 1864.2 1299.4 1871.7 1317.4 1907.8C1336.9 1946.8 1360.8 1994.5 1360.8 1994.5" fill="none" stroke="#FFFFFF" stroke-width="8"/>
</g>
<path d="M2336 526H2462V464.5L2588 589.5L2462 714.5V651.5H2336Z" fill="#0093B8"/>
<path d="M2336 1393H2462.5V1330.5L2588 1456.5L2462.5 1582V1520H2336Z" fill="#0093B8"/>
<text x="292" y="97" font-size="106" font-family="'Liberation Sans', sans-serif" font-weight="700" textLength="2912" lengthAdjust="spacingAndGlyphs" fill="#000">Potential mechanisms of hs-troponin elevation in pHTN</text>
<text x="23.9" y="1451" font-size="76" font-family="'Liberation Sans', sans-serif"  textLength="1510.1" lengthAdjust="spacingAndGlyphs" fill="#000">Proteolytic degradation, and increased</text>
<text x="11" y="1563" font-size="76" font-family="'Liberation Sans', sans-serif"  textLength="1534.5" lengthAdjust="spacingAndGlyphs" fill="#000">cardiomyocyte membrane permeability</text>
<text x="1923.9" y="1074" font-size="78" font-family="'Liberation Sans', sans-serif"  textLength="1106.5" lengthAdjust="spacingAndGlyphs" fill="#000">Myocardial tissue distension</text>
<text x="1922.9" y="1879" font-size="78" font-family="'Liberation Sans', sans-serif"  textLength="1131.2" lengthAdjust="spacingAndGlyphs" fill="#000">Myocardial hypertrophy, and</text>
<text x="2037.1" y="1991" font-size="78" font-family="'Liberation Sans', sans-serif"  textLength="924.9" lengthAdjust="spacingAndGlyphs" fill="#000">left ventricle wall stress</text>
</svg>
</body></html>
